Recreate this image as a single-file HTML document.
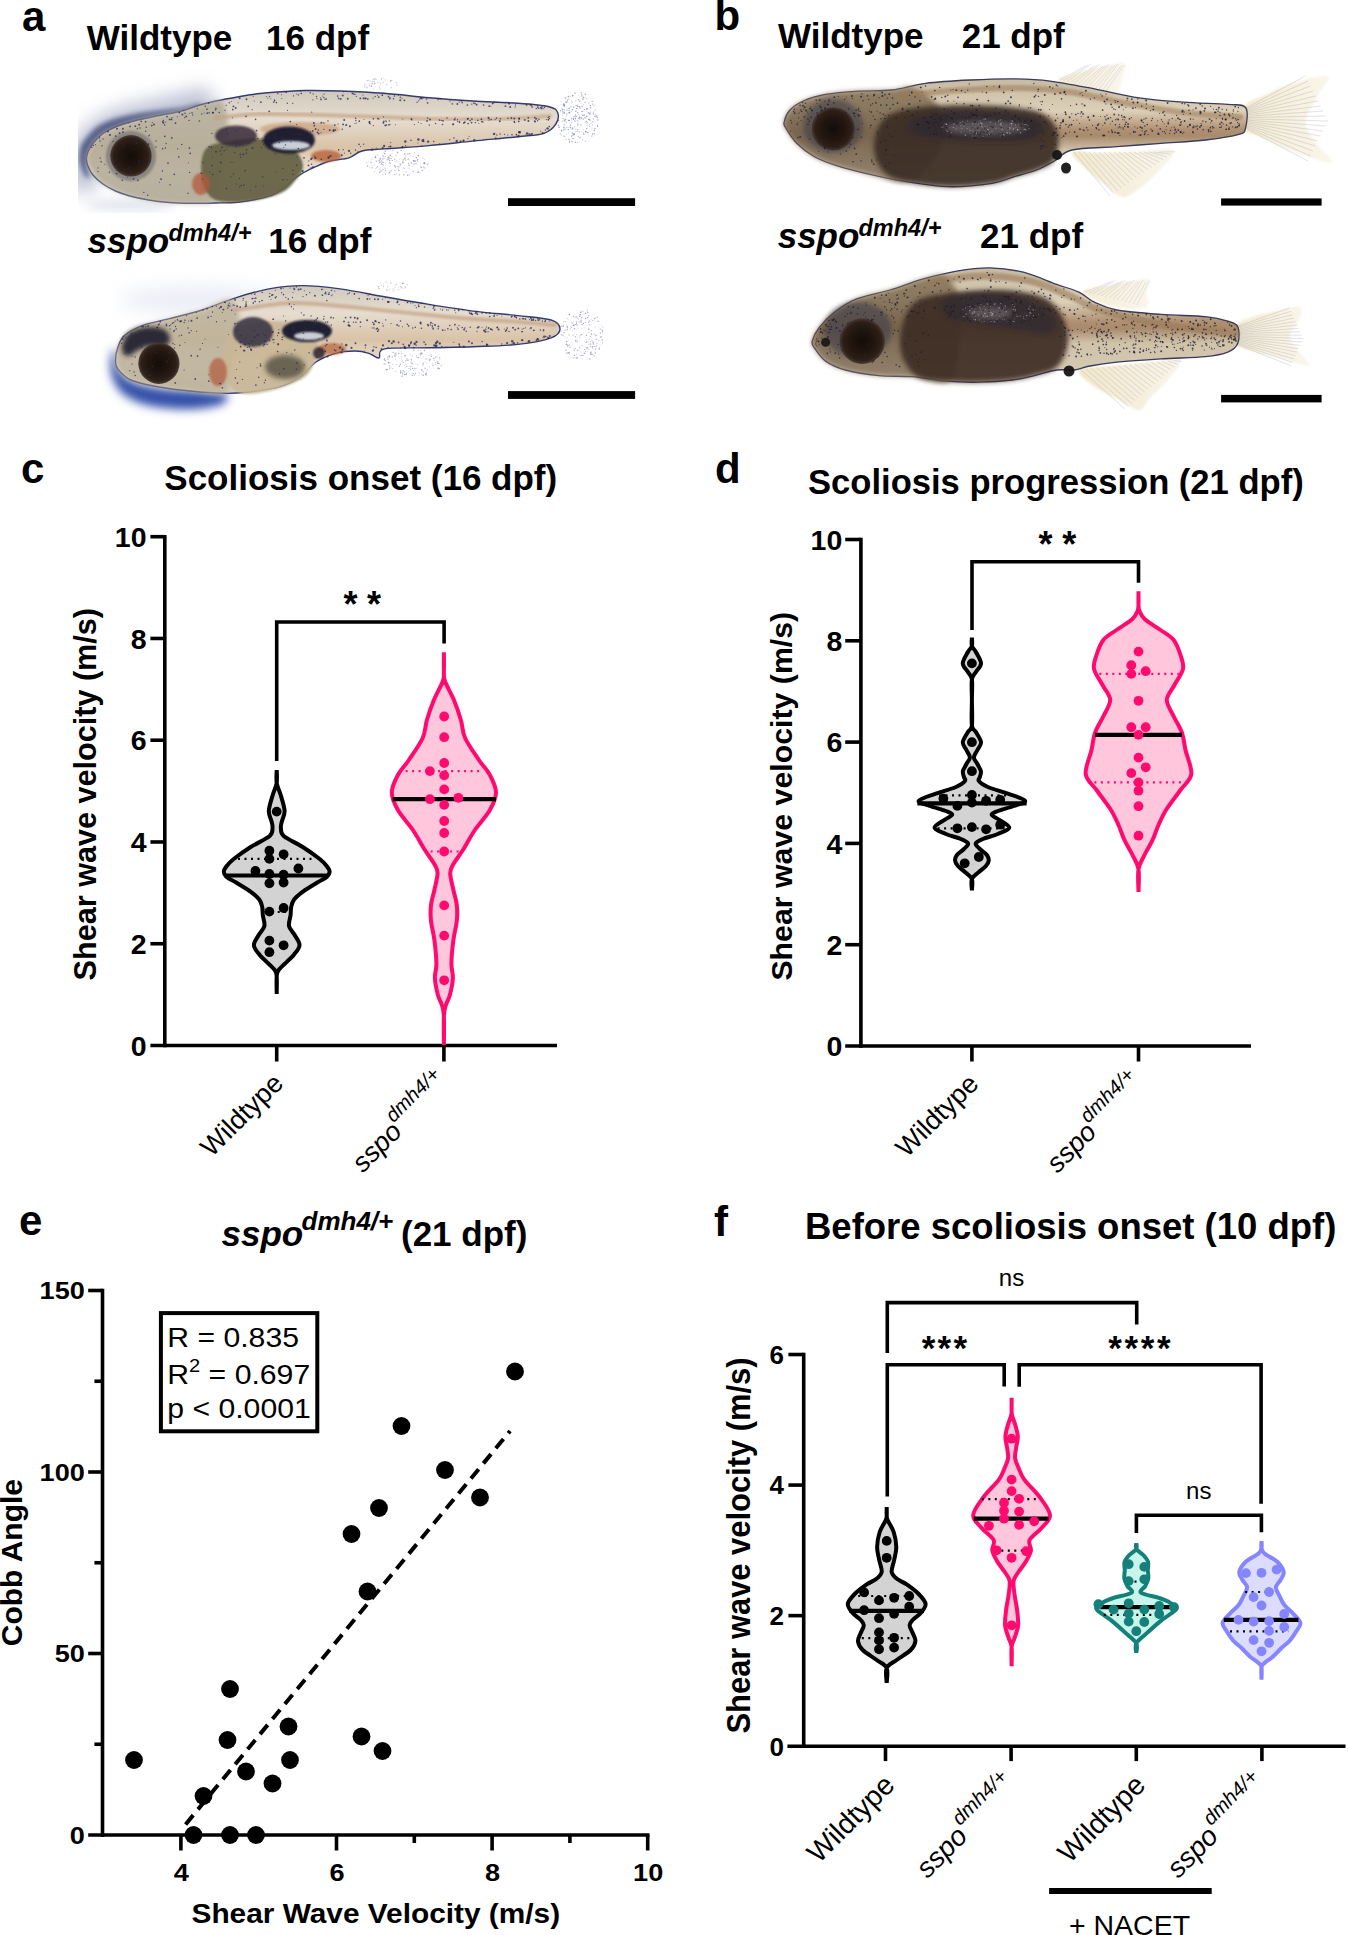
<!DOCTYPE html><html><head><meta charset="utf-8"><style>html,body{margin:0;padding:0;background:#fff;}svg{display:block;}</style></head><body><svg width="1350" height="1935" viewBox="0 0 1350 1935" font-family='"Liberation Sans", sans-serif'>
<rect width="1350" height="1935" fill="#fff"/>
<line x1="164.8" y1="534.9" x2="164.8" y2="1047.3" stroke="#000" stroke-width="3.6" />
<line x1="150.4" y1="1045.5" x2="557" y2="1045.5" stroke="#000" stroke-width="3.6" />
<line x1="150.4" y1="943.74" x2="164.8" y2="943.74" stroke="#000" stroke-width="3.6" />
<line x1="150.4" y1="841.98" x2="164.8" y2="841.98" stroke="#000" stroke-width="3.6" />
<line x1="150.4" y1="740.22" x2="164.8" y2="740.22" stroke="#000" stroke-width="3.6" />
<line x1="150.4" y1="638.46" x2="164.8" y2="638.46" stroke="#000" stroke-width="3.6" />
<line x1="150.4" y1="536.7" x2="164.8" y2="536.7" stroke="#000" stroke-width="3.6" />
<text x="146.5" y="1055.7" font-size="28.5" font-weight="bold" font-style="normal" text-anchor="end" fill="#000" >0</text>
<text x="146.5" y="953.94" font-size="28.5" font-weight="bold" font-style="normal" text-anchor="end" fill="#000" >2</text>
<text x="146.5" y="852.1800000000001" font-size="28.5" font-weight="bold" font-style="normal" text-anchor="end" fill="#000" >4</text>
<text x="146.5" y="750.4200000000001" font-size="28.5" font-weight="bold" font-style="normal" text-anchor="end" fill="#000" >6</text>
<text x="146.5" y="648.6600000000001" font-size="28.5" font-weight="bold" font-style="normal" text-anchor="end" fill="#000" >8</text>
<text x="146.5" y="546.9000000000001" font-size="28.5" font-weight="bold" font-style="normal" text-anchor="end" fill="#000" >10</text>
<line x1="276.7" y1="1045.5" x2="276.7" y2="1061.5" stroke="#000" stroke-width="3.6" />
<line x1="443.9" y1="1045.5" x2="443.9" y2="1061.5" stroke="#000" stroke-width="3.6" />
<path d="M276.70,770.00 C276.70,772.17 276.03,778.83 276.70,783.00 C277.37,787.17 279.38,790.33 280.70,795.00 C282.02,799.67 284.43,806.50 284.60,811.00 C284.77,815.50 282.32,819.17 281.70,822.00 C281.08,824.83 280.57,825.67 280.90,828.00 C281.23,830.33 280.07,832.83 283.70,836.00 C287.33,839.17 296.70,843.17 302.70,847.00 C308.70,850.83 315.70,855.83 319.70,859.00 C323.70,862.17 325.05,863.90 326.70,866.00 C328.35,868.10 329.60,869.77 329.60,871.60 C329.60,873.43 328.75,875.18 326.70,877.00 C324.65,878.82 321.32,880.03 317.30,882.50 C313.28,884.97 306.47,888.97 302.60,891.80 C298.73,894.63 296.00,896.97 294.10,899.50 C292.20,902.03 291.78,904.42 291.20,907.00 C290.62,909.58 290.97,911.83 290.60,915.00 C290.23,918.17 288.32,922.67 289.00,926.00 C289.68,929.33 292.95,931.78 294.70,935.00 C296.45,938.22 299.67,941.97 299.50,945.30 C299.33,948.63 295.77,952.28 293.70,955.00 C291.63,957.72 289.60,959.10 287.10,961.60 C284.60,964.10 280.43,967.60 278.70,970.00 C276.97,972.40 277.03,972.00 276.70,976.00 C276.37,980.00 276.70,991.00 276.70,994.00 C276.70,991.00 277.03,980.00 276.70,976.00 C276.37,972.00 276.43,972.40 274.70,970.00 C272.97,967.60 268.80,964.10 266.30,961.60 C263.80,959.10 261.77,957.72 259.70,955.00 C257.63,952.28 254.07,948.63 253.90,945.30 C253.73,941.97 256.95,938.22 258.70,935.00 C260.45,931.78 263.72,929.33 264.40,926.00 C265.08,922.67 263.17,918.17 262.80,915.00 C262.43,911.83 262.78,909.58 262.20,907.00 C261.62,904.42 261.20,902.03 259.30,899.50 C257.40,896.97 254.67,894.63 250.80,891.80 C246.93,888.97 240.12,884.97 236.10,882.50 C232.08,880.03 228.75,878.82 226.70,877.00 C224.65,875.18 223.80,873.43 223.80,871.60 C223.80,869.77 225.05,868.10 226.70,866.00 C228.35,863.90 229.70,862.17 233.70,859.00 C237.70,855.83 244.70,850.83 250.70,847.00 C256.70,843.17 266.07,839.17 269.70,836.00 C273.33,832.83 272.17,830.33 272.50,828.00 C272.83,825.67 272.32,824.83 271.70,822.00 C271.08,819.17 268.63,815.50 268.80,811.00 C268.97,806.50 271.38,799.67 272.70,795.00 C274.02,790.33 276.03,787.17 276.70,783.00 C277.37,778.83 276.70,772.17 276.70,770.00 Z" fill="#d3d3d3" stroke="#000" stroke-width="4.0" stroke-linejoin="bevel"/>
<line x1="224.4" y1="875.5" x2="328.3" y2="875.5" stroke="#000" stroke-width="4.2" />
<line x1="238" y1="858.9" x2="316" y2="858.9" stroke="#000" stroke-width="2.2" stroke-dasharray="2 4.5" stroke-linecap="butt"/>
<line x1="264.7" y1="912" x2="291.9" y2="912" stroke="#000" stroke-width="2.2" stroke-dasharray="2 4.5" stroke-linecap="butt"/>
<circle cx="276.7" cy="811.6" r="4.9" fill="#000"/>
<circle cx="269.4" cy="850.7" r="4.9" fill="#000"/>
<circle cx="283.6" cy="854.3" r="4.9" fill="#000"/>
<circle cx="269.4" cy="858.9" r="4.9" fill="#000"/>
<circle cx="255.4" cy="870.9" r="4.9" fill="#000"/>
<circle cx="298.4" cy="868.5" r="4.9" fill="#000"/>
<circle cx="269.4" cy="874" r="4.9" fill="#000"/>
<circle cx="283.6" cy="874.7" r="4.9" fill="#000"/>
<circle cx="269.4" cy="883.3" r="4.9" fill="#000"/>
<circle cx="283.6" cy="882.5" r="4.9" fill="#000"/>
<circle cx="269.4" cy="911.6" r="4.9" fill="#000"/>
<circle cx="283.6" cy="908" r="4.9" fill="#000"/>
<circle cx="269.4" cy="940.6" r="4.9" fill="#000"/>
<circle cx="283.6" cy="945.3" r="4.9" fill="#000"/>
<circle cx="269.4" cy="952.2" r="4.9" fill="#000"/>
<path d="M443.90,652.30 C443.90,655.25 443.73,665.22 443.90,670.00 C444.07,674.78 443.23,676.00 444.90,681.00 C446.57,686.00 451.23,693.50 453.90,700.00 C456.57,706.50 459.03,713.67 460.90,720.00 C462.77,726.33 462.10,731.33 465.10,738.00 C468.10,744.67 474.77,753.83 478.90,760.00 C483.03,766.17 487.05,769.58 489.90,775.00 C492.75,780.42 496.00,786.67 496.00,792.50 C496.00,798.33 493.42,803.75 489.90,810.00 C486.38,816.25 479.40,823.33 474.90,830.00 C470.40,836.67 466.57,844.17 462.90,850.00 C459.23,855.83 455.02,861.10 452.90,865.00 C450.78,868.90 450.12,869.23 450.20,873.40 C450.28,877.57 452.30,884.73 453.40,890.00 C454.50,895.27 456.23,899.85 456.80,905.00 C457.37,910.15 457.37,915.07 456.80,920.90 C456.23,926.73 454.30,932.87 453.40,940.00 C452.50,947.13 451.48,957.37 451.40,963.70 C451.32,970.03 453.15,972.78 452.90,978.00 C452.65,983.22 451.07,990.50 449.90,995.00 C448.73,999.50 446.90,1001.50 445.90,1005.00 C444.90,1008.50 444.23,1009.33 443.90,1016.00 C443.57,1022.67 443.90,1040.17 443.90,1045.00 C443.90,1040.17 444.23,1022.67 443.90,1016.00 C443.57,1009.33 442.90,1008.50 441.90,1005.00 C440.90,1001.50 439.07,999.50 437.90,995.00 C436.73,990.50 435.15,983.22 434.90,978.00 C434.65,972.78 436.48,970.03 436.40,963.70 C436.32,957.37 435.30,947.13 434.40,940.00 C433.50,932.87 431.57,926.73 431.00,920.90 C430.43,915.07 430.43,910.15 431.00,905.00 C431.57,899.85 433.30,895.27 434.40,890.00 C435.50,884.73 437.52,877.57 437.60,873.40 C437.68,869.23 437.02,868.90 434.90,865.00 C432.78,861.10 428.57,855.83 424.90,850.00 C421.23,844.17 417.40,836.67 412.90,830.00 C408.40,823.33 401.42,816.25 397.90,810.00 C394.38,803.75 391.80,798.33 391.80,792.50 C391.80,786.67 395.05,780.42 397.90,775.00 C400.75,769.58 404.77,766.17 408.90,760.00 C413.03,753.83 419.70,744.67 422.70,738.00 C425.70,731.33 425.03,726.33 426.90,720.00 C428.77,713.67 431.23,706.50 433.90,700.00 C436.57,693.50 441.23,686.00 442.90,681.00 C444.57,676.00 443.73,674.78 443.90,670.00 C444.07,665.22 443.90,655.25 443.90,652.30 Z" fill="#ffc6dc" stroke="#ff0a6e" stroke-width="4.0" stroke-linejoin="bevel"/>
<line x1="405.6" y1="771.1" x2="482.9" y2="771.1" stroke="#ff0a6e" stroke-width="2.2" stroke-dasharray="2 4.5" stroke-linecap="butt"/>
<line x1="430.6" y1="851.5" x2="460.3" y2="851.5" stroke="#ff0a6e" stroke-width="2.2" stroke-dasharray="2 4.5" stroke-linecap="butt"/>
<line x1="392.6" y1="799.2" x2="496" y2="799.2" stroke="#000" stroke-width="4.2" />
<circle cx="444.2" cy="716.5" r="4.9" fill="#ff0a6e"/>
<circle cx="444.2" cy="737.2" r="4.9" fill="#ff0a6e"/>
<circle cx="444.2" cy="763" r="4.9" fill="#ff0a6e"/>
<circle cx="429.9" cy="771.1" r="4.9" fill="#ff0a6e"/>
<circle cx="444.2" cy="775.4" r="4.9" fill="#ff0a6e"/>
<circle cx="444.2" cy="789.4" r="4.9" fill="#ff0a6e"/>
<circle cx="429.9" cy="799.2" r="4.9" fill="#ff0a6e"/>
<circle cx="458.4" cy="797.8" r="4.9" fill="#ff0a6e"/>
<circle cx="444.2" cy="804.9" r="4.9" fill="#ff0a6e"/>
<circle cx="444.2" cy="821" r="4.9" fill="#ff0a6e"/>
<circle cx="444.2" cy="833" r="4.9" fill="#ff0a6e"/>
<circle cx="444.2" cy="851.5" r="4.9" fill="#ff0a6e"/>
<circle cx="444.2" cy="905.4" r="4.9" fill="#ff0a6e"/>
<circle cx="444.2" cy="935.6" r="4.9" fill="#ff0a6e"/>
<circle cx="444.2" cy="980.3" r="4.9" fill="#ff0a6e"/>
<polyline points="276.7,761 276.7,622 444.1,622 444.1,643.4" fill="none" stroke="#000" stroke-width="3.6" stroke-linejoin="miter" stroke-linecap="butt"/>
<text x="350.4" y="617.2" font-size="36" font-weight="bold" font-style="normal" text-anchor="middle" fill="#000" >*</text>
<text x="374.1" y="617.2" font-size="36" font-weight="bold" font-style="normal" text-anchor="middle" fill="#000" >*</text>
<text x="164.3" y="489.8" font-size="35" font-weight="bold" font-style="normal" text-anchor="start" fill="#000" >Scoliosis onset (16 dpf)</text>
<text x="21" y="483.3" font-size="42" font-weight="bold" font-style="normal" text-anchor="start" fill="#000" >c</text>
<text transform="translate(96.3,794.2) rotate(-90)" font-size="30.6" font-weight="bold" font-style="normal" text-anchor="middle">Shear wave velocity (m/s)</text>
<line x1="860.9" y1="537.7" x2="860.9" y2="1047.8" stroke="#000" stroke-width="3.6" />
<line x1="845.2" y1="1046" x2="1251" y2="1046" stroke="#000" stroke-width="3.6" />
<line x1="845.2" y1="944.7" x2="860.9" y2="944.7" stroke="#000" stroke-width="3.6" />
<line x1="845.2" y1="843.4" x2="860.9" y2="843.4" stroke="#000" stroke-width="3.6" />
<line x1="845.2" y1="742.1" x2="860.9" y2="742.1" stroke="#000" stroke-width="3.6" />
<line x1="845.2" y1="640.8" x2="860.9" y2="640.8" stroke="#000" stroke-width="3.6" />
<line x1="845.2" y1="539.5" x2="860.9" y2="539.5" stroke="#000" stroke-width="3.6" />
<text x="842.3" y="1056.2" font-size="28.5" font-weight="bold" font-style="normal" text-anchor="end" fill="#000" >0</text>
<text x="842.3" y="954.9000000000001" font-size="28.5" font-weight="bold" font-style="normal" text-anchor="end" fill="#000" >2</text>
<text x="842.3" y="853.6" font-size="28.5" font-weight="bold" font-style="normal" text-anchor="end" fill="#000" >4</text>
<text x="842.3" y="752.3000000000001" font-size="28.5" font-weight="bold" font-style="normal" text-anchor="end" fill="#000" >6</text>
<text x="842.3" y="651.0" font-size="28.5" font-weight="bold" font-style="normal" text-anchor="end" fill="#000" >8</text>
<text x="842.3" y="549.7" font-size="28.5" font-weight="bold" font-style="normal" text-anchor="end" fill="#000" >10</text>
<line x1="971.9" y1="1046" x2="971.9" y2="1061.5" stroke="#000" stroke-width="3.6" />
<line x1="1138.5" y1="1046" x2="1138.5" y2="1061.5" stroke="#000" stroke-width="3.6" />
<path d="M971.90,637.40 C971.90,638.83 971.23,643.57 971.90,646.00 C972.57,648.43 974.38,649.10 975.90,652.00 C977.42,654.90 981.00,660.07 981.00,663.40 C981.00,666.73 977.42,669.35 975.90,672.00 C974.38,674.65 972.57,674.63 971.90,679.30 C971.23,683.97 971.90,692.28 971.90,700.00 C971.90,707.72 971.23,720.27 971.90,725.60 C972.57,730.93 974.38,729.23 975.90,732.00 C977.42,734.77 980.75,739.20 981.00,742.20 C981.25,745.20 978.58,747.47 977.40,750.00 C976.22,752.53 973.90,755.07 973.90,757.40 C973.90,759.73 976.23,761.70 977.40,764.00 C978.57,766.30 980.48,769.03 980.90,771.20 C981.32,773.37 980.23,775.37 979.90,777.00 C979.57,778.63 977.57,779.33 978.90,781.00 C980.23,782.67 983.07,784.90 987.90,787.00 C992.73,789.10 1001.70,791.30 1007.90,793.60 C1014.10,795.90 1024.10,798.73 1025.10,800.80 C1026.10,802.87 1018.43,804.30 1013.90,806.00 C1009.37,807.70 1001.62,809.57 997.90,811.00 C994.18,812.43 991.60,813.27 991.60,814.60 C991.60,815.93 994.95,816.83 997.90,819.00 C1000.85,821.17 1009.30,825.10 1009.30,827.60 C1009.30,830.10 1002.30,832.10 997.90,834.00 C993.50,835.90 986.60,837.42 982.90,839.00 C979.20,840.58 976.20,841.83 975.70,843.50 C975.20,845.17 978.03,847.08 979.90,849.00 C981.77,850.92 985.43,853.03 986.90,855.00 C988.37,856.97 988.87,858.97 988.70,860.80 C988.53,862.63 987.53,864.13 985.90,866.00 C984.27,867.87 981.23,869.83 978.90,872.00 C976.57,874.17 973.07,875.92 971.90,879.00 C970.73,882.08 971.90,888.58 971.90,890.50 C971.90,888.58 973.07,882.08 971.90,879.00 C970.73,875.92 967.23,874.17 964.90,872.00 C962.57,869.83 959.53,867.87 957.90,866.00 C956.27,864.13 955.27,862.63 955.10,860.80 C954.93,858.97 955.43,856.97 956.90,855.00 C958.37,853.03 962.03,850.92 963.90,849.00 C965.77,847.08 968.60,845.17 968.10,843.50 C967.60,841.83 964.60,840.58 960.90,839.00 C957.20,837.42 950.30,835.90 945.90,834.00 C941.50,832.10 934.50,830.10 934.50,827.60 C934.50,825.10 942.95,821.17 945.90,819.00 C948.85,816.83 952.20,815.93 952.20,814.60 C952.20,813.27 949.62,812.43 945.90,811.00 C942.18,809.57 934.43,807.70 929.90,806.00 C925.37,804.30 917.70,802.87 918.70,800.80 C919.70,798.73 929.70,795.90 935.90,793.60 C942.10,791.30 951.07,789.10 955.90,787.00 C960.73,784.90 963.57,782.67 964.90,781.00 C966.23,779.33 964.23,778.63 963.90,777.00 C963.57,775.37 962.48,773.37 962.90,771.20 C963.32,769.03 965.23,766.30 966.40,764.00 C967.57,761.70 969.90,759.73 969.90,757.40 C969.90,755.07 967.58,752.53 966.40,750.00 C965.22,747.47 962.55,745.20 962.80,742.20 C963.05,739.20 966.38,734.77 967.90,732.00 C969.42,729.23 971.23,730.93 971.90,725.60 C972.57,720.27 971.90,707.72 971.90,700.00 C971.90,692.28 972.57,683.97 971.90,679.30 C971.23,674.63 969.42,674.65 967.90,672.00 C966.38,669.35 962.80,666.73 962.80,663.40 C962.80,660.07 966.38,654.90 967.90,652.00 C969.42,649.10 971.23,648.43 971.90,646.00 C972.57,643.57 971.90,638.83 971.90,637.40 Z" fill="#d3d3d3" stroke="#000" stroke-width="4.0" stroke-linejoin="bevel"/>
<line x1="917.4" y1="803.4" x2="1026.6" y2="803.4" stroke="#000" stroke-width="4.2" />
<line x1="939" y1="795.3" x2="1007" y2="795.3" stroke="#000" stroke-width="2.2" stroke-dasharray="2 4.5" stroke-linecap="butt"/>
<line x1="937.6" y1="828.3" x2="1006.3" y2="828.3" stroke="#000" stroke-width="2.2" stroke-dasharray="2 4.5" stroke-linecap="butt"/>
<circle cx="971.9" cy="663.4" r="4.9" fill="#000"/>
<circle cx="971.9" cy="742.2" r="4.9" fill="#000"/>
<circle cx="971.9" cy="771.2" r="4.9" fill="#000"/>
<circle cx="943.4" cy="798.6" r="4.9" fill="#000"/>
<circle cx="971.9" cy="795" r="4.9" fill="#000"/>
<circle cx="971.9" cy="802.6" r="4.9" fill="#000"/>
<circle cx="986.1" cy="800.8" r="4.9" fill="#000"/>
<circle cx="1000.2" cy="799.8" r="4.9" fill="#000"/>
<circle cx="957.4" cy="805.9" r="4.9" fill="#000"/>
<circle cx="957.4" cy="828.3" r="4.9" fill="#000"/>
<circle cx="971.9" cy="827.1" r="4.9" fill="#000"/>
<circle cx="986.1" cy="829.3" r="4.9" fill="#000"/>
<circle cx="1000.2" cy="824.7" r="4.9" fill="#000"/>
<circle cx="978.8" cy="857" r="4.9" fill="#000"/>
<circle cx="964.7" cy="863.3" r="4.9" fill="#000"/>
<path d="M1138.50,591.30 C1138.50,593.58 1138.33,601.72 1138.50,605.00 C1138.67,608.28 1138.45,608.63 1139.50,611.00 C1140.55,613.37 1141.30,616.03 1144.80,619.20 C1148.30,622.37 1155.72,626.57 1160.50,630.00 C1165.28,633.43 1170.17,635.63 1173.50,639.80 C1176.83,643.97 1178.92,650.17 1180.50,655.00 C1182.08,659.83 1184.00,663.80 1183.00,668.80 C1182.00,673.80 1177.20,679.83 1174.50,685.00 C1171.80,690.17 1166.97,694.63 1166.80,699.80 C1166.63,704.97 1170.97,710.50 1173.50,716.00 C1176.03,721.50 1180.00,727.13 1182.00,732.80 C1184.00,738.47 1183.95,743.12 1185.50,750.00 C1187.05,756.88 1192.13,767.43 1191.30,774.10 C1190.47,780.77 1184.63,784.13 1180.50,790.00 C1176.37,795.87 1170.17,803.47 1166.50,809.30 C1162.83,815.13 1160.83,819.85 1158.50,825.00 C1156.17,830.15 1154.83,835.20 1152.50,840.20 C1150.17,845.20 1146.83,850.17 1144.50,855.00 C1142.17,859.83 1139.50,863.05 1138.50,869.20 C1137.50,875.35 1138.50,888.12 1138.50,891.90 C1138.50,888.12 1139.50,875.35 1138.50,869.20 C1137.50,863.05 1134.83,859.83 1132.50,855.00 C1130.17,850.17 1126.83,845.20 1124.50,840.20 C1122.17,835.20 1120.83,830.15 1118.50,825.00 C1116.17,819.85 1114.17,815.13 1110.50,809.30 C1106.83,803.47 1100.63,795.87 1096.50,790.00 C1092.37,784.13 1086.53,780.77 1085.70,774.10 C1084.87,767.43 1089.95,756.88 1091.50,750.00 C1093.05,743.12 1093.00,738.47 1095.00,732.80 C1097.00,727.13 1100.97,721.50 1103.50,716.00 C1106.03,710.50 1110.37,704.97 1110.20,699.80 C1110.03,694.63 1105.20,690.17 1102.50,685.00 C1099.80,679.83 1095.00,673.80 1094.00,668.80 C1093.00,663.80 1094.92,659.83 1096.50,655.00 C1098.08,650.17 1100.17,643.97 1103.50,639.80 C1106.83,635.63 1111.72,633.43 1116.50,630.00 C1121.28,626.57 1128.70,622.37 1132.20,619.20 C1135.70,616.03 1136.45,613.37 1137.50,611.00 C1138.55,608.63 1138.33,608.28 1138.50,605.00 C1138.67,601.72 1138.50,593.58 1138.50,591.30 Z" fill="#ffc6dc" stroke="#ff0a6e" stroke-width="4.0" stroke-linejoin="bevel"/>
<line x1="1099.3" y1="673.9" x2="1178.8" y2="673.9" stroke="#ff0a6e" stroke-width="2.2" stroke-dasharray="2 4.5" stroke-linecap="butt"/>
<line x1="1087.9" y1="782.4" x2="1187" y2="782.4" stroke="#ff0a6e" stroke-width="2.2" stroke-dasharray="2 4.5" stroke-linecap="butt"/>
<line x1="1095.1" y1="734.9" x2="1181.9" y2="734.9" stroke="#000" stroke-width="4.2" />
<circle cx="1138.5" cy="651.6" r="4.9" fill="#ff0a6e"/>
<circle cx="1131.3" cy="665.2" r="4.9" fill="#ff0a6e"/>
<circle cx="1145.7" cy="671.2" r="4.9" fill="#ff0a6e"/>
<circle cx="1131.3" cy="673.9" r="4.9" fill="#ff0a6e"/>
<circle cx="1138.5" cy="700.8" r="4.9" fill="#ff0a6e"/>
<circle cx="1131.3" cy="727.2" r="4.9" fill="#ff0a6e"/>
<circle cx="1145.7" cy="727.2" r="4.9" fill="#ff0a6e"/>
<circle cx="1138.5" cy="734.9" r="4.9" fill="#ff0a6e"/>
<circle cx="1138.5" cy="757.6" r="4.9" fill="#ff0a6e"/>
<circle cx="1145.7" cy="767.3" r="4.9" fill="#ff0a6e"/>
<circle cx="1131.3" cy="773.1" r="4.9" fill="#ff0a6e"/>
<circle cx="1138.5" cy="782.4" r="4.9" fill="#ff0a6e"/>
<circle cx="1138.5" cy="790.7" r="4.9" fill="#ff0a6e"/>
<circle cx="1138.5" cy="806.2" r="4.9" fill="#ff0a6e"/>
<circle cx="1138.5" cy="835.7" r="4.9" fill="#ff0a6e"/>
<polyline points="972.0,630 972.0,561.8 1138.5,561.8 1138.5,582.7" fill="none" stroke="#000" stroke-width="3.6" stroke-linejoin="miter" stroke-linecap="butt"/>
<text x="1045.4" y="557.3" font-size="36" font-weight="bold" font-style="normal" text-anchor="middle" fill="#000" >*</text>
<text x="1069.2" y="557.3" font-size="36" font-weight="bold" font-style="normal" text-anchor="middle" fill="#000" >*</text>
<text x="808" y="494" font-size="34.6" font-weight="bold" font-style="normal" text-anchor="start" fill="#000" >Scoliosis progression (21 dpf)</text>
<text x="715" y="483.3" font-size="42" font-weight="bold" font-style="normal" text-anchor="start" fill="#000" >d</text>
<text transform="translate(792.3,796.2) rotate(-90)" font-size="30.3" font-weight="bold" font-style="normal" text-anchor="middle">Shear wave velocity (m/s)</text>
<line x1="102.5" y1="1288.7" x2="102.5" y2="1837" stroke="#000" stroke-width="3.6" />
<line x1="88.2" y1="1835" x2="649.5" y2="1835" stroke="#000" stroke-width="3.6" />
<line x1="88.2" y1="1653.5" x2="102.5" y2="1653.5" stroke="#000" stroke-width="3.6" />
<line x1="88.2" y1="1472.0" x2="102.5" y2="1472.0" stroke="#000" stroke-width="3.6" />
<line x1="88.2" y1="1290.5" x2="102.5" y2="1290.5" stroke="#000" stroke-width="3.6" />
<line x1="94.4" y1="1744.25" x2="102.5" y2="1744.25" stroke="#000" stroke-width="3.6" />
<line x1="94.4" y1="1562.75" x2="102.5" y2="1562.75" stroke="#000" stroke-width="3.6" />
<line x1="94.4" y1="1381.25" x2="102.5" y2="1381.25" stroke="#000" stroke-width="3.6" />
<text transform="translate(84.8,1843.6) scale(1.13,1)" font-size="24" font-weight="bold" font-style="normal" text-anchor="end">0</text>
<text transform="translate(84.8,1662.1) scale(1.13,1)" font-size="24" font-weight="bold" font-style="normal" text-anchor="end">50</text>
<text transform="translate(84.8,1480.6) scale(1.13,1)" font-size="24" font-weight="bold" font-style="normal" text-anchor="end">100</text>
<text transform="translate(84.8,1299.1) scale(1.13,1)" font-size="24" font-weight="bold" font-style="normal" text-anchor="end">150</text>
<line x1="180.9" y1="1835" x2="180.9" y2="1850.5" stroke="#000" stroke-width="3.6" />
<text transform="translate(181.4,1880.6) scale(1.13,1)" font-size="24" font-weight="bold" font-style="normal" text-anchor="middle">4</text>
<line x1="336.5" y1="1835" x2="336.5" y2="1850.5" stroke="#000" stroke-width="3.6" />
<text transform="translate(337.0,1880.6) scale(1.13,1)" font-size="24" font-weight="bold" font-style="normal" text-anchor="middle">6</text>
<line x1="492.1" y1="1835" x2="492.1" y2="1850.5" stroke="#000" stroke-width="3.6" />
<text transform="translate(492.6,1880.6) scale(1.13,1)" font-size="24" font-weight="bold" font-style="normal" text-anchor="middle">8</text>
<line x1="647.6999999999999" y1="1835" x2="647.6999999999999" y2="1850.5" stroke="#000" stroke-width="3.6" />
<text transform="translate(648.1999999999999,1880.6) scale(1.13,1)" font-size="24" font-weight="bold" font-style="normal" text-anchor="middle">10</text>
<line x1="258.7" y1="1835" x2="258.7" y2="1843" stroke="#000" stroke-width="3.6" />
<line x1="414.29999999999995" y1="1835" x2="414.29999999999995" y2="1843" stroke="#000" stroke-width="3.6" />
<line x1="569.9" y1="1835" x2="569.9" y2="1843" stroke="#000" stroke-width="3.6" />
<rect x="160.9" y="1313.1" width="156.4" height="118.2" fill="none" stroke="#000" stroke-width="4"/>
<text transform="translate(167.2,1346.7) scale(1.06,1)" font-size="28.5" font-weight="normal" font-style="normal" text-anchor="start">R = 0.835</text>
<text transform="translate(167.2,1384.4) scale(1.06,1)" font-size="28.5" font-weight="normal" font-style="normal" text-anchor="start">R<tspan font-size="19" dy="-12.5">2</tspan><tspan dy="12.5"> = 0.697</tspan></text>
<text transform="translate(167.2,1418.2) scale(1.06,1)" font-size="28.5" font-weight="normal" font-style="normal" text-anchor="start">p &lt; 0.0001</text>
<line x1="185.6" y1="1824.4" x2="510.1" y2="1431" stroke="#000" stroke-width="4" stroke-dasharray="12 7.5"/>
<circle cx="134" cy="1760" r="8.9" fill="#000"/>
<circle cx="203.5" cy="1796" r="8.9" fill="#000"/>
<circle cx="193.5" cy="1835" r="8.9" fill="#000"/>
<circle cx="230" cy="1835" r="8.9" fill="#000"/>
<circle cx="256" cy="1835" r="8.9" fill="#000"/>
<circle cx="227.5" cy="1740" r="8.9" fill="#000"/>
<circle cx="230" cy="1689" r="8.9" fill="#000"/>
<circle cx="246" cy="1771.5" r="8.9" fill="#000"/>
<circle cx="272.5" cy="1783.5" r="8.9" fill="#000"/>
<circle cx="288.5" cy="1726.5" r="8.9" fill="#000"/>
<circle cx="290" cy="1760" r="8.9" fill="#000"/>
<circle cx="361.5" cy="1736.5" r="8.9" fill="#000"/>
<circle cx="382.5" cy="1751" r="8.9" fill="#000"/>
<circle cx="367.5" cy="1591.5" r="8.9" fill="#000"/>
<circle cx="351.5" cy="1534" r="8.9" fill="#000"/>
<circle cx="379" cy="1508" r="8.9" fill="#000"/>
<circle cx="401.5" cy="1426" r="8.9" fill="#000"/>
<circle cx="445" cy="1470" r="8.9" fill="#000"/>
<circle cx="480" cy="1497.5" r="8.9" fill="#000"/>
<circle cx="515" cy="1371.5" r="8.9" fill="#000"/>
<text transform="translate(191.5,1922.6) scale(1.085,1)" font-size="27.5" font-weight="bold" font-style="normal" text-anchor="start">Shear Wave Velocity (m/s)</text>
<text transform="translate(22.1,1562.6) rotate(-90)" font-size="30" font-weight="bold" font-style="normal" text-anchor="middle">Cobb Angle</text>
<text x="19" y="1234.5" font-size="42" font-weight="bold" font-style="normal" text-anchor="start" fill="#000" >e</text>
<text x="221.5" y="1245.6" font-size="35" font-weight="bold" font-style="italic" text-anchor="start" fill="#000" >sspo</text>
<text x="301.5" y="1229.5" font-size="26" font-weight="bold" font-style="italic" text-anchor="start" fill="#000" >dmh4/+</text>
<text x="401" y="1245.6" font-size="35" font-weight="bold" font-style="normal" text-anchor="start" fill="#000" >(21 dpf)</text>
<line x1="803.7" y1="1352.7" x2="803.7" y2="1748" stroke="#000" stroke-width="3.6" />
<line x1="787.4" y1="1746.2" x2="1345.5" y2="1746.2" stroke="#000" stroke-width="3.6" />
<line x1="788.4" y1="1615.64" x2="803.7" y2="1615.64" stroke="#000" stroke-width="3.6" />
<line x1="788.4" y1="1485.08" x2="803.7" y2="1485.08" stroke="#000" stroke-width="3.6" />
<line x1="788.4" y1="1354.52" x2="803.7" y2="1354.52" stroke="#000" stroke-width="3.6" />
<text x="784" y="1755.5" font-size="26" font-weight="bold" font-style="normal" text-anchor="end" fill="#000" >0</text>
<text x="784" y="1624.94" font-size="26" font-weight="bold" font-style="normal" text-anchor="end" fill="#000" >2</text>
<text x="784" y="1494.3799999999999" font-size="26" font-weight="bold" font-style="normal" text-anchor="end" fill="#000" >4</text>
<text x="784" y="1363.82" font-size="26" font-weight="bold" font-style="normal" text-anchor="end" fill="#000" >6</text>
<line x1="885.5" y1="1746.2" x2="885.5" y2="1761.1" stroke="#000" stroke-width="3.6" />
<line x1="1011.1" y1="1746.2" x2="1011.1" y2="1761.1" stroke="#000" stroke-width="3.6" />
<line x1="1136.3" y1="1746.2" x2="1136.3" y2="1761.1" stroke="#000" stroke-width="3.6" />
<line x1="1261.9" y1="1746.2" x2="1261.9" y2="1761.1" stroke="#000" stroke-width="3.6" />
<path d="M886.70,1507.10 C886.70,1508.58 886.53,1513.78 886.70,1516.00 C886.87,1518.22 886.53,1517.73 887.70,1520.40 C888.87,1523.07 892.27,1527.55 893.70,1532.00 C895.13,1536.45 896.22,1542.43 896.30,1547.10 C896.38,1551.77 894.97,1555.85 894.20,1560.00 C893.43,1564.15 891.20,1568.83 891.70,1572.00 C892.20,1575.17 894.70,1576.93 897.20,1579.00 C899.70,1581.07 903.12,1581.90 906.70,1584.40 C910.28,1586.90 915.55,1590.73 918.70,1594.00 C921.85,1597.27 925.27,1600.83 925.60,1604.00 C925.93,1607.17 922.85,1610.33 920.70,1613.00 C918.55,1615.67 914.55,1617.95 912.70,1620.00 C910.85,1622.05 909.60,1623.13 909.60,1625.30 C909.60,1627.47 911.73,1630.33 912.70,1633.00 C913.67,1635.67 915.73,1638.47 915.40,1641.30 C915.07,1644.13 913.82,1646.88 910.70,1650.00 C907.58,1653.12 900.70,1657.00 896.70,1660.00 C892.70,1663.00 888.37,1664.15 886.70,1668.00 C885.03,1671.85 886.70,1680.58 886.70,1683.10 C886.70,1680.58 888.37,1671.85 886.70,1668.00 C885.03,1664.15 880.70,1663.00 876.70,1660.00 C872.70,1657.00 865.82,1653.12 862.70,1650.00 C859.58,1646.88 858.33,1644.13 858.00,1641.30 C857.67,1638.47 859.73,1635.67 860.70,1633.00 C861.67,1630.33 863.80,1627.47 863.80,1625.30 C863.80,1623.13 862.55,1622.05 860.70,1620.00 C858.85,1617.95 854.85,1615.67 852.70,1613.00 C850.55,1610.33 847.47,1607.17 847.80,1604.00 C848.13,1600.83 851.55,1597.27 854.70,1594.00 C857.85,1590.73 863.12,1586.90 866.70,1584.40 C870.28,1581.90 873.70,1581.07 876.20,1579.00 C878.70,1576.93 881.20,1575.17 881.70,1572.00 C882.20,1568.83 879.97,1564.15 879.20,1560.00 C878.43,1555.85 877.02,1551.77 877.10,1547.10 C877.18,1542.43 878.27,1536.45 879.70,1532.00 C881.13,1527.55 884.53,1523.07 885.70,1520.40 C886.87,1517.73 886.53,1518.22 886.70,1516.00 C886.87,1513.78 886.70,1508.58 886.70,1507.10 Z" fill="#d3d3d3" stroke="#000" stroke-width="4.0" stroke-linejoin="bevel"/>
<line x1="849.3" y1="1610.8" x2="924" y2="1610.8" stroke="#000" stroke-width="4.2" />
<line x1="858.2" y1="1596" x2="916" y2="1596" stroke="#000" stroke-width="2.2" stroke-dasharray="2 4.5" stroke-linecap="butt"/>
<line x1="861.8" y1="1638.1" x2="912.4" y2="1638.1" stroke="#000" stroke-width="2.2" stroke-dasharray="2 4.5" stroke-linecap="butt"/>
<circle cx="886.7" cy="1540.9" r="4.9" fill="#000"/>
<circle cx="886.7" cy="1557.8" r="4.9" fill="#000"/>
<circle cx="864.1" cy="1592.4" r="4.9" fill="#000"/>
<circle cx="879" cy="1600.4" r="4.9" fill="#000"/>
<circle cx="894.1" cy="1597.8" r="4.9" fill="#000"/>
<circle cx="909.2" cy="1596" r="4.9" fill="#000"/>
<circle cx="909.2" cy="1606.7" r="4.9" fill="#000"/>
<circle cx="864.1" cy="1610.2" r="4.9" fill="#000"/>
<circle cx="894.1" cy="1613.8" r="4.9" fill="#000"/>
<circle cx="879" cy="1618.2" r="4.9" fill="#000"/>
<circle cx="879" cy="1632.4" r="4.9" fill="#000"/>
<circle cx="879" cy="1640.4" r="4.9" fill="#000"/>
<circle cx="894.1" cy="1637.8" r="4.9" fill="#000"/>
<circle cx="879" cy="1649.3" r="4.9" fill="#000"/>
<circle cx="894.1" cy="1647.6" r="4.9" fill="#000"/>
<path d="M1011.60,1397.80 C1011.60,1399.83 1011.52,1407.03 1011.60,1410.00 C1011.68,1412.97 1011.43,1412.93 1012.10,1415.60 C1012.77,1418.27 1014.65,1422.45 1015.60,1426.00 C1016.55,1429.55 1017.72,1433.23 1017.80,1436.90 C1017.88,1440.57 1016.55,1444.45 1016.10,1448.00 C1015.65,1451.55 1014.68,1454.87 1015.10,1458.20 C1015.52,1461.53 1017.07,1464.43 1018.60,1468.00 C1020.13,1471.57 1020.80,1474.77 1024.30,1479.60 C1027.80,1484.43 1035.32,1491.08 1039.60,1497.00 C1043.88,1502.92 1049.67,1509.93 1050.00,1515.10 C1050.33,1520.27 1045.00,1523.85 1041.60,1528.00 C1038.20,1532.15 1031.38,1536.22 1029.60,1540.00 C1027.82,1543.78 1031.57,1547.03 1030.90,1550.70 C1030.23,1554.37 1027.67,1558.45 1025.60,1562.00 C1023.53,1565.55 1020.50,1568.85 1018.50,1572.00 C1016.50,1575.15 1014.25,1577.07 1013.60,1580.90 C1012.95,1584.73 1014.02,1590.15 1014.60,1595.00 C1015.18,1599.85 1016.52,1604.95 1017.10,1610.00 C1017.68,1615.05 1018.52,1620.63 1018.10,1625.30 C1017.68,1629.97 1015.68,1634.43 1014.60,1638.00 C1013.52,1641.57 1012.10,1642.00 1011.60,1646.70 C1011.10,1651.40 1011.60,1662.95 1011.60,1666.20 C1011.60,1662.95 1012.10,1651.40 1011.60,1646.70 C1011.10,1642.00 1009.68,1641.57 1008.60,1638.00 C1007.52,1634.43 1005.52,1629.97 1005.10,1625.30 C1004.68,1620.63 1005.52,1615.05 1006.10,1610.00 C1006.68,1604.95 1008.02,1599.85 1008.60,1595.00 C1009.18,1590.15 1010.25,1584.73 1009.60,1580.90 C1008.95,1577.07 1006.70,1575.15 1004.70,1572.00 C1002.70,1568.85 999.67,1565.55 997.60,1562.00 C995.53,1558.45 992.97,1554.37 992.30,1550.70 C991.63,1547.03 995.38,1543.78 993.60,1540.00 C991.82,1536.22 985.00,1532.15 981.60,1528.00 C978.20,1523.85 972.87,1520.27 973.20,1515.10 C973.53,1509.93 979.32,1502.92 983.60,1497.00 C987.88,1491.08 995.40,1484.43 998.90,1479.60 C1002.40,1474.77 1003.07,1471.57 1004.60,1468.00 C1006.13,1464.43 1007.68,1461.53 1008.10,1458.20 C1008.52,1454.87 1007.55,1451.55 1007.10,1448.00 C1006.65,1444.45 1005.32,1440.57 1005.40,1436.90 C1005.48,1433.23 1006.65,1429.55 1007.60,1426.00 C1008.55,1422.45 1010.43,1418.27 1011.10,1415.60 C1011.77,1412.93 1011.52,1412.97 1011.60,1410.00 C1011.68,1407.03 1011.60,1399.83 1011.60,1397.80 Z" fill="#ffc6dc" stroke="#ff0a6e" stroke-width="4.0" stroke-linejoin="bevel"/>
<line x1="981.8" y1="1499.1" x2="1040.4" y2="1499.1" stroke="#000" stroke-width="2.2" stroke-dasharray="2 4.5" stroke-linecap="butt"/>
<line x1="1001.3" y1="1550.7" x2="1022.7" y2="1550.7" stroke="#000" stroke-width="2.2" stroke-dasharray="2 4.5" stroke-linecap="butt"/>
<line x1="973.8" y1="1518.7" x2="1048.4" y2="1518.7" stroke="#000" stroke-width="4.2" />
<circle cx="1011.6" cy="1438.7" r="4.9" fill="#ff0a6e"/>
<circle cx="1011.6" cy="1479.6" r="4.9" fill="#ff0a6e"/>
<circle cx="1011.6" cy="1491.1" r="4.9" fill="#ff0a6e"/>
<circle cx="1019.1" cy="1498.8" r="4.9" fill="#ff0a6e"/>
<circle cx="1004" cy="1502.7" r="4.9" fill="#ff0a6e"/>
<circle cx="1004" cy="1510.7" r="4.9" fill="#ff0a6e"/>
<circle cx="1019.1" cy="1511.6" r="4.9" fill="#ff0a6e"/>
<circle cx="1004" cy="1518.7" r="4.9" fill="#ff0a6e"/>
<circle cx="1034.2" cy="1521.3" r="4.9" fill="#ff0a6e"/>
<circle cx="988.9" cy="1525.8" r="4.9" fill="#ff0a6e"/>
<circle cx="1019.1" cy="1524.9" r="4.9" fill="#ff0a6e"/>
<circle cx="996.5" cy="1550.3" r="4.9" fill="#ff0a6e"/>
<circle cx="1026.2" cy="1551.2" r="4.9" fill="#ff0a6e"/>
<circle cx="1011.6" cy="1557.8" r="4.9" fill="#ff0a6e"/>
<circle cx="1011.6" cy="1625.3" r="4.9" fill="#ff0a6e"/>
<path d="M1136.30,1542.90 C1136.30,1543.92 1135.13,1546.98 1136.30,1549.00 C1137.47,1551.02 1141.33,1552.83 1143.30,1555.00 C1145.27,1557.17 1147.35,1559.50 1148.10,1562.00 C1148.85,1564.50 1147.77,1567.27 1147.80,1570.00 C1147.83,1572.73 1148.72,1575.73 1148.30,1578.40 C1147.88,1581.07 1146.50,1583.62 1145.30,1586.00 C1144.10,1588.38 1138.77,1590.70 1141.10,1592.70 C1143.43,1594.70 1154.80,1596.52 1159.30,1598.00 C1163.80,1599.48 1165.23,1599.97 1168.10,1601.60 C1170.97,1603.23 1176.13,1605.73 1176.50,1607.80 C1176.87,1609.87 1172.97,1611.78 1170.30,1614.00 C1167.63,1616.22 1164.50,1617.83 1160.50,1621.10 C1156.50,1624.37 1150.33,1629.90 1146.30,1633.60 C1142.27,1637.30 1137.97,1640.05 1136.30,1643.30 C1134.63,1646.55 1136.30,1651.47 1136.30,1653.10 C1136.30,1651.47 1137.97,1646.55 1136.30,1643.30 C1134.63,1640.05 1130.33,1637.30 1126.30,1633.60 C1122.27,1629.90 1116.10,1624.37 1112.10,1621.10 C1108.10,1617.83 1104.97,1616.22 1102.30,1614.00 C1099.63,1611.78 1095.73,1609.87 1096.10,1607.80 C1096.47,1605.73 1101.63,1603.23 1104.50,1601.60 C1107.37,1599.97 1108.80,1599.48 1113.30,1598.00 C1117.80,1596.52 1129.17,1594.70 1131.50,1592.70 C1133.83,1590.70 1128.50,1588.38 1127.30,1586.00 C1126.10,1583.62 1124.72,1581.07 1124.30,1578.40 C1123.88,1575.73 1124.77,1572.73 1124.80,1570.00 C1124.83,1567.27 1123.75,1564.50 1124.50,1562.00 C1125.25,1559.50 1127.33,1557.17 1129.30,1555.00 C1131.27,1552.83 1135.13,1551.02 1136.30,1549.00 C1137.47,1546.98 1136.30,1543.92 1136.30,1542.90 Z" fill="#c8f5ea" stroke="#157f7b" stroke-width="4.0" stroke-linejoin="bevel"/>
<line x1="1100.2" y1="1607.2" x2="1170.4" y2="1607.2" stroke="#000" stroke-width="4.2" />
<line x1="1103.8" y1="1614.9" x2="1151.8" y2="1614.9" stroke="#000" stroke-width="2.2" stroke-dasharray="2 4.5" stroke-linecap="butt"/>
<line x1="1134.5" y1="1581.6" x2="1138.5" y2="1581.6" stroke="#000" stroke-width="2.2" stroke-dasharray="2 4.5" stroke-linecap="butt"/>
<circle cx="1128.7" cy="1564.2" r="4.9" fill="#157f7b"/>
<circle cx="1144.3" cy="1566.9" r="4.9" fill="#157f7b"/>
<circle cx="1128.7" cy="1581.1" r="4.9" fill="#157f7b"/>
<circle cx="1144.3" cy="1579.3" r="4.9" fill="#157f7b"/>
<circle cx="1098.4" cy="1604.2" r="4.9" fill="#157f7b"/>
<circle cx="1128.7" cy="1603.3" r="4.9" fill="#157f7b"/>
<circle cx="1113.6" cy="1609.6" r="4.9" fill="#157f7b"/>
<circle cx="1144.3" cy="1609.6" r="4.9" fill="#157f7b"/>
<circle cx="1159.2" cy="1606" r="4.9" fill="#157f7b"/>
<circle cx="1174" cy="1607.2" r="4.9" fill="#157f7b"/>
<circle cx="1128.7" cy="1613.6" r="4.9" fill="#157f7b"/>
<circle cx="1159.2" cy="1614" r="4.9" fill="#157f7b"/>
<circle cx="1128.7" cy="1621.6" r="4.9" fill="#157f7b"/>
<circle cx="1144.3" cy="1622" r="4.9" fill="#157f7b"/>
<circle cx="1136.3" cy="1631.2" r="4.9" fill="#157f7b"/>
<path d="M1261.50,1541.10 C1261.50,1542.25 1261.00,1545.92 1261.50,1548.00 C1262.00,1550.08 1261.83,1551.27 1264.50,1553.60 C1267.17,1555.93 1274.30,1558.90 1277.50,1562.00 C1280.70,1565.10 1283.20,1569.20 1283.70,1572.20 C1284.20,1575.20 1281.80,1577.48 1280.50,1580.00 C1279.20,1582.52 1276.07,1584.63 1275.90,1587.30 C1275.73,1589.97 1278.08,1593.03 1279.50,1596.00 C1280.92,1598.97 1282.07,1602.10 1284.40,1605.10 C1286.73,1608.10 1290.83,1611.03 1293.50,1614.00 C1296.17,1616.97 1299.90,1620.07 1300.40,1622.90 C1300.90,1625.73 1298.28,1628.03 1296.50,1631.00 C1294.72,1633.97 1292.20,1637.87 1289.70,1640.70 C1287.20,1643.53 1284.32,1645.33 1281.50,1648.00 C1278.68,1650.67 1275.63,1654.20 1272.80,1656.70 C1269.97,1659.20 1266.38,1661.23 1264.50,1663.00 C1262.62,1664.77 1262.00,1664.50 1261.50,1667.30 C1261.00,1670.10 1261.50,1677.72 1261.50,1679.80 C1261.50,1677.72 1262.00,1670.10 1261.50,1667.30 C1261.00,1664.50 1260.38,1664.77 1258.50,1663.00 C1256.62,1661.23 1253.03,1659.20 1250.20,1656.70 C1247.37,1654.20 1244.32,1650.67 1241.50,1648.00 C1238.68,1645.33 1235.80,1643.53 1233.30,1640.70 C1230.80,1637.87 1228.28,1633.97 1226.50,1631.00 C1224.72,1628.03 1222.10,1625.73 1222.60,1622.90 C1223.10,1620.07 1226.83,1616.97 1229.50,1614.00 C1232.17,1611.03 1236.27,1608.10 1238.60,1605.10 C1240.93,1602.10 1242.08,1598.97 1243.50,1596.00 C1244.92,1593.03 1247.27,1589.97 1247.10,1587.30 C1246.93,1584.63 1243.80,1582.52 1242.50,1580.00 C1241.20,1577.48 1238.80,1575.20 1239.30,1572.20 C1239.80,1569.20 1242.30,1565.10 1245.50,1562.00 C1248.70,1558.90 1255.83,1555.93 1258.50,1553.60 C1261.17,1551.27 1261.00,1550.08 1261.50,1548.00 C1262.00,1545.92 1261.50,1542.25 1261.50,1541.10 Z" fill="#dcdcff" stroke="#8585ff" stroke-width="4.0" stroke-linejoin="bevel"/>
<line x1="1223.8" y1="1619.9" x2="1298.4" y2="1619.9" stroke="#000" stroke-width="4.2" />
<line x1="1245.1" y1="1592" x2="1274.4" y2="1592" stroke="#000" stroke-width="2.2" stroke-dasharray="2 4.5" stroke-linecap="butt"/>
<line x1="1230" y1="1631.4" x2="1288.7" y2="1631.4" stroke="#000" stroke-width="2.2" stroke-dasharray="2 4.5" stroke-linecap="butt"/>
<circle cx="1246" cy="1573.1" r="4.9" fill="#8585ff"/>
<circle cx="1261.5" cy="1572.8" r="4.9" fill="#8585ff"/>
<circle cx="1276.6" cy="1569.6" r="4.9" fill="#8585ff"/>
<circle cx="1269.1" cy="1592" r="4.9" fill="#8585ff"/>
<circle cx="1253.6" cy="1597.1" r="4.9" fill="#8585ff"/>
<circle cx="1261.5" cy="1605.5" r="4.9" fill="#8585ff"/>
<circle cx="1284.2" cy="1614" r="4.9" fill="#8585ff"/>
<circle cx="1238.5" cy="1619.9" r="4.9" fill="#8585ff"/>
<circle cx="1253.6" cy="1621.6" r="4.9" fill="#8585ff"/>
<circle cx="1269.1" cy="1621.1" r="4.9" fill="#8585ff"/>
<circle cx="1284.2" cy="1627" r="4.9" fill="#8585ff"/>
<circle cx="1269.1" cy="1630.9" r="4.9" fill="#8585ff"/>
<circle cx="1253.6" cy="1640.1" r="4.9" fill="#8585ff"/>
<circle cx="1269.1" cy="1642.8" r="4.9" fill="#8585ff"/>
<circle cx="1261.5" cy="1651.3" r="4.9" fill="#8585ff"/>
<polyline points="887.3,1352.9 887.3,1302.6 1136.7,1302.6 1136.7,1324.4" fill="none" stroke="#000" stroke-width="3.6" stroke-linejoin="miter" stroke-linecap="butt"/>
<polyline points="887.3,1496.4 887.3,1364.7 1004.2,1364.7 1004.2,1386.6" fill="none" stroke="#000" stroke-width="3.6" stroke-linejoin="miter" stroke-linecap="butt"/>
<polyline points="1019.2,1386.7 1019.2,1364.7 1261.1,1364.7 1261.1,1503.8" fill="none" stroke="#000" stroke-width="3.6" stroke-linejoin="miter" stroke-linecap="butt"/>
<polyline points="1136.4,1533.1 1136.4,1515.3 1261.4,1515.3 1261.4,1532.2" fill="none" stroke="#000" stroke-width="3.6" stroke-linejoin="miter" stroke-linecap="butt"/>
<text x="1011.5" y="1286.4" font-size="24" font-weight="normal" font-style="normal" text-anchor="middle" fill="#000" >ns</text>
<text x="1198.8" y="1499.3" font-size="24" font-weight="normal" font-style="normal" text-anchor="middle" fill="#000" >ns</text>
<text x="928.6" y="1359.6" font-size="35" font-weight="bold" font-style="normal" text-anchor="middle" fill="#000" >*</text>
<text x="944.4" y="1359.6" font-size="35" font-weight="bold" font-style="normal" text-anchor="middle" fill="#000" >*</text>
<text x="960.2" y="1359.6" font-size="35" font-weight="bold" font-style="normal" text-anchor="middle" fill="#000" >*</text>
<text x="1115.1" y="1359.9" font-size="35" font-weight="bold" font-style="normal" text-anchor="middle" fill="#000" >*</text>
<text x="1131.3" y="1359.9" font-size="35" font-weight="bold" font-style="normal" text-anchor="middle" fill="#000" >*</text>
<text x="1147.5" y="1359.9" font-size="35" font-weight="bold" font-style="normal" text-anchor="middle" fill="#000" >*</text>
<text x="1163.6999999999998" y="1359.9" font-size="35" font-weight="bold" font-style="normal" text-anchor="middle" fill="#000" >*</text>
<line x1="1049.1" y1="1891" x2="1211.7" y2="1891" stroke="#000" stroke-width="6" />
<text x="1129.5" y="1935" font-size="28.5" font-weight="normal" font-style="normal" text-anchor="middle" fill="#000" >+ NACET</text>
<text x="805" y="1239.1" font-size="36.5" font-weight="bold" font-style="normal" text-anchor="start" fill="#000" >Before scoliosis onset (10 dpf)</text>
<text x="714" y="1235.5" font-size="42" font-weight="bold" font-style="normal" text-anchor="start" fill="#000" >f</text>
<text transform="translate(749.8,1545.5) scale(1.06,1) rotate(-90)" font-size="30.9" font-weight="bold" text-anchor="middle">Shear wave velocity (m/s)</text>
<text transform="translate(284.8,1084.8) rotate(-45)" font-size="27" font-weight="normal" text-anchor="end">Wildtype</text>
<text transform="translate(980.0,1085.3) rotate(-45)" font-size="27" font-weight="normal" text-anchor="end">Wildtype</text>
<text transform="translate(450.9,1085.5) rotate(-45)" font-size="27" font-weight="normal" font-style="italic" text-anchor="end">sspo<tspan font-size="20" dy="-14" dx="0">dmh4/+</tspan></text>
<text transform="translate(1145.5,1086) rotate(-45)" font-size="27" font-weight="normal" font-style="italic" text-anchor="end">sspo<tspan font-size="20" dy="-14" dx="0">dmh4/+</tspan></text>
<text transform="translate(896.3000000000001,1786.8) rotate(-45)" font-size="28.6" font-weight="normal" text-anchor="end">Wildtype</text>
<text transform="translate(1147.1,1786.8) rotate(-45)" font-size="28.6" font-weight="normal" text-anchor="end">Wildtype</text>
<text transform="translate(1018.6,1788.2) rotate(-45)" font-size="27.8" font-weight="normal" font-style="italic" text-anchor="end">sspo<tspan font-size="20.3" dy="-14.5" dx="2">dmh4/+</tspan></text>
<text transform="translate(1269.4,1788.2) rotate(-45)" font-size="27.8" font-weight="normal" font-style="italic" text-anchor="end">sspo<tspan font-size="20.3" dy="-14.5" dx="2">dmh4/+</tspan></text>
<defs>
<filter id="b1" x="-20%" y="-20%" width="140%" height="140%"><feGaussianBlur stdDeviation="1"/></filter>
<filter id="b2" x="-30%" y="-30%" width="160%" height="160%"><feGaussianBlur stdDeviation="2.5"/></filter>
<filter id="b4" x="-50%" y="-50%" width="200%" height="200%"><feGaussianBlur stdDeviation="5"/></filter>
<filter id="b8" x="-50%" y="-50%" width="200%" height="200%"><feGaussianBlur stdDeviation="9"/></filter>
<linearGradient id="bodyA" x1="0" y1="0" x2="0" y2="1">
 <stop offset="0" stop-color="#cfc8bb"/><stop offset="0.25" stop-color="#e6ddd0"/><stop offset="0.5" stop-color="#d9c3a8"/>
 <stop offset="0.7" stop-color="#e8dccd"/><stop offset="1" stop-color="#d2c8bc"/></linearGradient>
<linearGradient id="bodyB" x1="0" y1="0" x2="0" y2="1">
 <stop offset="0" stop-color="#b9ad98"/><stop offset="0.3" stop-color="#cdbfa8"/><stop offset="0.55" stop-color="#b59a7c"/>
 <stop offset="0.8" stop-color="#cfc1ab"/><stop offset="1" stop-color="#b8ab98"/></linearGradient>
<radialGradient id="eyeA" cx="0.5" cy="0.5" r="0.5">
 <stop offset="0" stop-color="#140c0a"/><stop offset="0.55" stop-color="#22160f"/><stop offset="0.85" stop-color="#2e2018"/><stop offset="1" stop-color="#4a3c34"/></radialGradient>
<linearGradient id="finY" x1="0" y1="0" x2="1" y2="0">
 <stop offset="0" stop-color="#efe3c0"/><stop offset="1" stop-color="#f8f3e6"/></linearGradient>
</defs>
<clipPath id="clipA1"><rect x="78" y="40" width="400" height="173"/></clipPath>
<g clip-path="url(#clipA1)">
<path d="M84.0,178.0 C84.0,175.0 83.3,165.2 84.0,160.0 C84.7,154.8 86.0,150.8 88.0,147.0 C90.0,143.2 93.3,139.7 96.0,137.0 C98.7,134.3 100.3,133.2 104.0,131.0 C107.7,128.8 112.3,126.2 118.0,124.0 C123.7,121.8 131.0,119.8 138.0,118.0 C145.0,116.2 152.7,114.7 160.0,113.0 C167.3,111.3 175.3,109.7 182.0,108.0 C188.7,106.3 197.0,103.8 200.0,103.0 " fill="none" stroke="#8a94b4" stroke-width="30" stroke-opacity="0.55" stroke-linecap="round" filter="url(#b8)" />
<path d="M86.0,176.4 C84.6,174.6 82.1,169.7 81.0,166.4 C79.9,163.1 79.0,160.2 79.2,156.4 C79.4,152.6 80.2,147.5 82.1,143.6 C84.0,139.7 87.5,136.0 90.4,132.9 C93.3,129.8 95.2,127.7 99.3,125.3 C103.4,122.9 108.9,120.4 115.1,118.5 C121.3,116.6 129.1,115.0 136.4,113.7 C143.7,112.4 151.5,111.5 159.0,110.6 C166.5,109.7 174.4,109.2 181.2,108.1 C188.0,107.0 196.3,104.4 199.7,104.1 C203.1,103.8 204.2,105.1 201.5,106.5 C198.8,107.9 190.2,110.8 183.5,112.5 C176.8,114.2 168.8,115.5 161.5,117.0 C154.2,118.5 146.5,119.8 139.5,121.5 C132.5,123.2 125.2,125.3 119.5,127.5 C113.8,129.7 109.0,132.3 105.5,134.5 C102.0,136.7 100.8,138.0 98.5,140.5 C96.2,143.0 93.2,146.3 91.5,149.5 C89.8,152.7 88.7,156.5 88.0,159.5 C87.3,162.5 87.2,164.5 87.5,167.5 C87.8,170.5 89.8,176.0 89.5,177.5 C89.2,179.0 87.4,178.2 86.0,176.4 Z" fill="#3e4878" fill-opacity="0.8" stroke="none" stroke-width="0" filter="url(#b2)" />
<ellipse cx="130" cy="205" rx="45" ry="6" fill="#c8cede" fill-opacity="0.5" filter="url(#b4)"/>
</g>
<g fill="#5a5a9a" fill-opacity="0.55"><circle cx="574.9" cy="121.1" r="0.76"/><circle cx="575.5" cy="118.4" r="0.59"/><circle cx="563.1" cy="118.6" r="0.61"/><circle cx="568.3" cy="96.7" r="0.70"/><circle cx="585.5" cy="94.2" r="0.79"/><circle cx="597.4" cy="126.0" r="0.61"/><circle cx="578.2" cy="95.1" r="0.40"/><circle cx="575.4" cy="114.9" r="0.72"/><circle cx="577.8" cy="125.3" r="0.55"/><circle cx="584.1" cy="115.8" r="0.44"/><circle cx="592.0" cy="128.8" r="0.46"/><circle cx="565.1" cy="107.0" r="0.34"/><circle cx="588.7" cy="112.8" r="0.72"/><circle cx="572.0" cy="141.8" r="0.72"/><circle cx="595.1" cy="116.4" r="0.79"/><circle cx="572.5" cy="95.8" r="0.61"/><circle cx="589.3" cy="106.0" r="0.34"/><circle cx="569.6" cy="142.1" r="0.68"/><circle cx="560.2" cy="104.8" r="0.35"/><circle cx="562.8" cy="121.1" r="0.52"/><circle cx="563.4" cy="130.1" r="0.37"/><circle cx="583.3" cy="98.1" r="0.51"/><circle cx="564.4" cy="106.0" r="0.79"/><circle cx="590.4" cy="107.8" r="0.74"/><circle cx="564.3" cy="112.5" r="0.73"/><circle cx="583.2" cy="97.2" r="0.79"/><circle cx="564.4" cy="105.4" r="0.69"/><circle cx="569.5" cy="107.4" r="0.34"/><circle cx="559.0" cy="122.3" r="0.42"/><circle cx="581.5" cy="111.3" r="0.53"/><circle cx="597.2" cy="117.2" r="0.59"/><circle cx="593.1" cy="101.5" r="0.38"/><circle cx="566.0" cy="101.9" r="0.67"/><circle cx="581.6" cy="113.9" r="0.35"/><circle cx="565.5" cy="128.6" r="0.43"/><circle cx="591.2" cy="123.0" r="0.45"/><circle cx="562.7" cy="129.5" r="0.33"/><circle cx="565.0" cy="121.1" r="0.73"/><circle cx="582.0" cy="106.6" r="0.76"/><circle cx="566.8" cy="115.2" r="0.33"/><circle cx="562.8" cy="111.2" r="0.59"/><circle cx="560.8" cy="110.8" r="0.75"/><circle cx="585.4" cy="122.4" r="0.37"/><circle cx="595.0" cy="128.5" r="0.78"/><circle cx="555.9" cy="125.1" r="0.54"/><circle cx="587.1" cy="108.6" r="0.80"/><circle cx="558.3" cy="120.4" r="0.67"/><circle cx="594.6" cy="130.3" r="0.65"/><circle cx="570.5" cy="127.6" r="0.75"/><circle cx="593.3" cy="113.7" r="0.70"/><circle cx="593.0" cy="121.8" r="0.61"/><circle cx="571.8" cy="122.3" r="0.60"/><circle cx="558.5" cy="125.2" r="0.80"/><circle cx="593.7" cy="129.9" r="0.49"/><circle cx="587.3" cy="122.2" r="0.52"/><circle cx="581.5" cy="117.0" r="0.42"/><circle cx="585.7" cy="117.9" r="0.61"/><circle cx="595.5" cy="105.3" r="0.31"/><circle cx="568.2" cy="127.3" r="0.40"/><circle cx="584.0" cy="115.0" r="0.75"/><circle cx="569.4" cy="126.6" r="0.40"/><circle cx="574.0" cy="133.9" r="0.76"/><circle cx="593.7" cy="112.0" r="0.59"/><circle cx="568.9" cy="99.1" r="0.55"/><circle cx="591.8" cy="136.1" r="0.66"/><circle cx="562.4" cy="115.4" r="0.44"/><circle cx="564.4" cy="113.5" r="0.61"/><circle cx="576.7" cy="108.4" r="0.72"/><circle cx="598.2" cy="115.5" r="0.34"/><circle cx="580.1" cy="108.1" r="0.70"/><circle cx="575.0" cy="93.3" r="0.71"/><circle cx="565.4" cy="99.3" r="0.32"/><circle cx="582.7" cy="115.2" r="0.61"/><circle cx="583.8" cy="134.0" r="0.78"/><circle cx="585.1" cy="102.4" r="0.54"/><circle cx="575.8" cy="129.1" r="0.39"/><circle cx="567.0" cy="110.0" r="0.65"/><circle cx="577.9" cy="124.0" r="0.68"/><circle cx="572.3" cy="133.2" r="0.75"/><circle cx="586.8" cy="98.8" r="0.53"/><circle cx="582.5" cy="139.3" r="0.49"/><circle cx="580.0" cy="137.7" r="0.70"/><circle cx="596.5" cy="116.1" r="0.63"/><circle cx="564.0" cy="129.5" r="0.71"/><circle cx="583.2" cy="129.3" r="0.41"/><circle cx="598.0" cy="119.9" r="0.70"/><circle cx="569.1" cy="139.3" r="0.73"/><circle cx="570.3" cy="96.3" r="0.52"/><circle cx="579.2" cy="131.9" r="0.54"/><circle cx="562.6" cy="109.4" r="0.69"/><circle cx="577.7" cy="129.6" r="0.72"/><circle cx="585.3" cy="141.2" r="0.55"/><circle cx="564.7" cy="119.4" r="0.45"/><circle cx="587.1" cy="125.2" r="0.56"/><circle cx="592.1" cy="121.1" r="0.46"/><circle cx="571.8" cy="136.0" r="0.75"/><circle cx="564.2" cy="136.2" r="0.78"/><circle cx="578.1" cy="121.8" r="0.40"/><circle cx="578.6" cy="118.2" r="0.60"/><circle cx="577.7" cy="112.8" r="0.70"/><circle cx="579.8" cy="117.5" r="0.65"/><circle cx="557.9" cy="120.0" r="0.51"/><circle cx="566.8" cy="116.6" r="0.36"/><circle cx="574.1" cy="134.4" r="0.75"/><circle cx="576.0" cy="108.5" r="0.40"/><circle cx="582.2" cy="140.1" r="0.36"/><circle cx="563.5" cy="103.8" r="0.64"/><circle cx="569.2" cy="110.5" r="0.61"/><circle cx="559.6" cy="130.0" r="0.36"/><circle cx="577.5" cy="105.0" r="0.40"/><circle cx="578.3" cy="114.7" r="0.49"/><circle cx="573.2" cy="119.5" r="0.38"/><circle cx="564.0" cy="124.8" r="0.62"/><circle cx="578.3" cy="136.3" r="0.61"/><circle cx="592.7" cy="104.1" r="0.67"/><circle cx="568.9" cy="108.4" r="0.76"/><circle cx="565.5" cy="129.8" r="0.43"/><circle cx="573.6" cy="133.1" r="0.36"/><circle cx="572.7" cy="127.6" r="0.31"/><circle cx="563.8" cy="127.5" r="0.76"/><circle cx="577.2" cy="131.4" r="0.55"/><circle cx="585.2" cy="101.8" r="0.34"/><circle cx="579.3" cy="118.8" r="0.58"/><circle cx="561.4" cy="101.6" r="0.40"/><circle cx="575.3" cy="131.8" r="0.46"/><circle cx="575.5" cy="118.8" r="0.52"/><circle cx="581.4" cy="92.7" r="0.65"/><circle cx="592.1" cy="101.4" r="0.53"/><circle cx="587.5" cy="113.1" r="0.40"/><circle cx="562.3" cy="118.7" r="0.31"/><circle cx="594.3" cy="133.7" r="0.65"/><circle cx="592.9" cy="124.7" r="0.50"/><circle cx="581.4" cy="118.2" r="0.79"/><circle cx="590.4" cy="105.4" r="0.76"/><circle cx="587.8" cy="132.5" r="0.71"/><circle cx="572.8" cy="138.6" r="0.74"/><circle cx="585.6" cy="131.9" r="0.68"/><circle cx="572.9" cy="129.6" r="0.34"/><circle cx="570.0" cy="116.4" r="0.31"/><circle cx="570.6" cy="125.2" r="0.61"/><circle cx="584.3" cy="109.6" r="0.63"/><circle cx="580.1" cy="119.7" r="0.49"/><circle cx="585.9" cy="131.6" r="0.79"/><circle cx="556.0" cy="124.0" r="0.67"/><circle cx="566.3" cy="112.9" r="0.33"/><circle cx="563.6" cy="111.5" r="0.35"/><circle cx="566.0" cy="139.1" r="0.58"/><circle cx="577.3" cy="142.3" r="0.58"/><circle cx="581.3" cy="131.5" r="0.32"/><circle cx="575.8" cy="100.8" r="0.55"/><circle cx="581.9" cy="95.0" r="0.77"/><circle cx="573.5" cy="119.4" r="0.60"/><circle cx="571.1" cy="106.9" r="0.63"/><circle cx="579.7" cy="106.7" r="0.66"/><circle cx="561.9" cy="131.2" r="0.49"/><circle cx="594.5" cy="130.9" r="0.33"/><circle cx="573.9" cy="116.8" r="0.79"/><circle cx="565.7" cy="119.2" r="0.77"/><circle cx="586.8" cy="116.4" r="0.79"/><circle cx="590.9" cy="123.4" r="0.36"/><circle cx="582.5" cy="115.7" r="0.40"/><circle cx="557.3" cy="119.5" r="0.36"/><circle cx="574.5" cy="126.7" r="0.53"/><circle cx="566.5" cy="122.3" r="0.51"/><circle cx="589.2" cy="119.6" r="0.80"/><circle cx="565.5" cy="97.9" r="0.75"/><circle cx="589.5" cy="124.5" r="0.48"/><circle cx="566.9" cy="127.6" r="0.58"/><circle cx="581.0" cy="124.9" r="0.68"/><circle cx="563.4" cy="104.9" r="0.79"/><circle cx="566.9" cy="114.1" r="0.61"/><circle cx="559.5" cy="120.2" r="0.34"/><circle cx="558.8" cy="127.2" r="0.58"/><circle cx="582.8" cy="111.4" r="0.54"/><circle cx="564.3" cy="109.9" r="0.67"/><circle cx="560.3" cy="134.1" r="0.61"/><circle cx="588.8" cy="103.1" r="0.51"/><circle cx="566.4" cy="134.1" r="0.48"/><circle cx="569.3" cy="120.5" r="0.67"/><circle cx="595.5" cy="114.2" r="0.48"/><circle cx="579.8" cy="117.2" r="0.64"/><circle cx="568.2" cy="132.3" r="0.34"/><circle cx="564.4" cy="126.4" r="0.34"/><circle cx="568.4" cy="129.7" r="0.65"/><circle cx="567.4" cy="99.4" r="0.48"/><circle cx="586.9" cy="111.1" r="0.36"/><circle cx="586.2" cy="121.6" r="0.76"/><circle cx="574.3" cy="133.8" r="0.45"/><circle cx="569.0" cy="112.8" r="0.77"/><circle cx="594.4" cy="104.9" r="0.48"/><circle cx="571.1" cy="110.9" r="0.50"/><circle cx="572.1" cy="102.1" r="0.58"/><circle cx="590.1" cy="120.1" r="0.72"/><circle cx="579.8" cy="101.2" r="0.68"/><circle cx="593.8" cy="106.6" r="0.31"/><circle cx="577.7" cy="120.3" r="0.58"/><circle cx="597.5" cy="125.9" r="0.70"/><circle cx="557.8" cy="120.4" r="0.69"/><circle cx="587.4" cy="138.8" r="0.34"/><circle cx="582.9" cy="99.5" r="0.67"/><circle cx="583.6" cy="104.8" r="0.41"/><circle cx="588.7" cy="119.1" r="0.68"/><circle cx="572.4" cy="109.6" r="0.78"/><circle cx="584.6" cy="117.7" r="0.57"/><circle cx="586.7" cy="128.8" r="0.76"/><circle cx="573.1" cy="135.0" r="0.63"/><circle cx="592.6" cy="133.9" r="0.72"/><circle cx="583.2" cy="119.2" r="0.66"/><circle cx="590.3" cy="113.9" r="0.51"/><circle cx="561.4" cy="130.5" r="0.80"/><circle cx="571.5" cy="100.7" r="0.40"/><circle cx="573.7" cy="107.2" r="0.78"/><circle cx="557.6" cy="108.0" r="0.36"/><circle cx="583.5" cy="132.3" r="0.39"/><circle cx="557.7" cy="115.9" r="0.59"/><circle cx="564.6" cy="104.2" r="0.66"/><circle cx="581.2" cy="103.6" r="0.39"/><circle cx="567.4" cy="101.0" r="0.68"/><circle cx="568.7" cy="120.5" r="0.71"/><circle cx="576.1" cy="105.5" r="0.74"/><circle cx="595.2" cy="109.8" r="0.57"/><circle cx="597.1" cy="117.1" r="0.41"/><circle cx="590.3" cy="112.0" r="0.56"/><circle cx="577.7" cy="106.3" r="0.80"/><circle cx="583.9" cy="104.4" r="0.31"/><circle cx="575.8" cy="111.3" r="0.70"/><circle cx="586.4" cy="123.5" r="0.38"/><circle cx="561.9" cy="108.7" r="0.43"/><circle cx="593.2" cy="118.8" r="0.62"/><circle cx="578.5" cy="99.8" r="0.69"/><circle cx="592.2" cy="134.7" r="0.34"/><circle cx="566.9" cy="129.3" r="0.35"/><circle cx="576.1" cy="116.4" r="0.78"/><circle cx="580.8" cy="136.6" r="0.45"/><circle cx="589.7" cy="113.7" r="0.76"/><circle cx="564.2" cy="120.3" r="0.56"/><circle cx="561.9" cy="135.3" r="0.46"/><circle cx="568.7" cy="96.0" r="0.45"/><circle cx="575.6" cy="129.2" r="0.48"/><circle cx="585.2" cy="97.5" r="0.50"/><circle cx="575.3" cy="142.3" r="0.71"/><circle cx="571.6" cy="128.9" r="0.42"/><circle cx="579.8" cy="115.8" r="0.31"/><circle cx="564.1" cy="124.0" r="0.45"/><circle cx="571.5" cy="120.1" r="0.45"/><circle cx="569.8" cy="112.4" r="0.63"/><circle cx="566.3" cy="102.4" r="0.67"/><circle cx="569.5" cy="141.1" r="0.58"/><circle cx="586.8" cy="109.2" r="0.71"/><circle cx="559.2" cy="127.2" r="0.65"/><circle cx="562.9" cy="112.9" r="0.72"/><circle cx="581.1" cy="96.7" r="0.41"/><circle cx="572.9" cy="95.8" r="0.76"/><circle cx="573.8" cy="118.6" r="0.62"/><circle cx="588.7" cy="134.7" r="0.49"/><circle cx="569.6" cy="113.4" r="0.31"/><circle cx="572.6" cy="128.4" r="0.79"/><circle cx="589.7" cy="126.3" r="0.60"/><circle cx="570.1" cy="125.8" r="0.35"/><circle cx="571.6" cy="118.5" r="0.69"/></g>
<g fill="#5a5a9a" fill-opacity="0.5"><circle cx="395.4" cy="167.1" r="0.63"/><circle cx="389.0" cy="157.1" r="0.71"/><circle cx="409.2" cy="165.6" r="0.58"/><circle cx="407.3" cy="153.8" r="0.52"/><circle cx="369.8" cy="167.9" r="0.47"/><circle cx="390.9" cy="171.9" r="0.31"/><circle cx="397.6" cy="152.4" r="0.79"/><circle cx="392.1" cy="153.5" r="0.46"/><circle cx="404.8" cy="154.3" r="0.65"/><circle cx="417.2" cy="160.4" r="0.51"/><circle cx="403.1" cy="162.4" r="0.49"/><circle cx="407.5" cy="159.3" r="0.48"/><circle cx="409.2" cy="167.5" r="0.36"/><circle cx="380.0" cy="159.4" r="0.56"/><circle cx="416.8" cy="163.0" r="0.31"/><circle cx="417.6" cy="161.2" r="0.56"/><circle cx="379.2" cy="161.1" r="0.49"/><circle cx="414.4" cy="152.7" r="0.57"/><circle cx="376.4" cy="168.1" r="0.32"/><circle cx="382.7" cy="158.9" r="0.62"/><circle cx="368.3" cy="161.9" r="0.40"/><circle cx="383.0" cy="162.4" r="0.78"/><circle cx="395.8" cy="174.9" r="0.38"/><circle cx="424.2" cy="159.5" r="0.39"/><circle cx="412.9" cy="173.7" r="0.30"/><circle cx="382.2" cy="170.0" r="0.47"/><circle cx="367.6" cy="166.1" r="0.79"/><circle cx="428.9" cy="163.1" r="0.31"/><circle cx="385.6" cy="170.5" r="0.72"/><circle cx="405.9" cy="156.0" r="0.56"/><circle cx="395.6" cy="166.3" r="0.43"/><circle cx="375.4" cy="157.6" r="0.74"/><circle cx="382.8" cy="174.5" r="0.56"/><circle cx="409.5" cy="168.3" r="0.41"/><circle cx="383.2" cy="156.6" r="0.64"/><circle cx="409.4" cy="153.4" r="0.74"/><circle cx="391.9" cy="156.3" r="0.52"/><circle cx="427.7" cy="164.6" r="0.61"/><circle cx="413.7" cy="160.9" r="0.59"/><circle cx="422.7" cy="170.5" r="0.59"/><circle cx="387.2" cy="159.6" r="0.67"/><circle cx="401.1" cy="150.4" r="0.66"/><circle cx="399.2" cy="170.5" r="0.49"/><circle cx="371.3" cy="159.2" r="0.46"/><circle cx="424.8" cy="167.9" r="0.57"/><circle cx="404.8" cy="153.2" r="0.57"/><circle cx="409.8" cy="160.2" r="0.42"/><circle cx="391.0" cy="158.4" r="0.64"/><circle cx="385.0" cy="168.1" r="0.68"/><circle cx="407.2" cy="174.3" r="0.48"/><circle cx="366.9" cy="162.7" r="0.52"/><circle cx="376.5" cy="167.4" r="0.47"/><circle cx="380.3" cy="158.5" r="0.77"/><circle cx="382.9" cy="155.2" r="0.52"/><circle cx="397.1" cy="168.2" r="0.38"/><circle cx="394.7" cy="165.8" r="0.72"/><circle cx="381.0" cy="162.0" r="0.73"/><circle cx="418.2" cy="155.9" r="0.57"/><circle cx="413.7" cy="160.3" r="0.64"/><circle cx="407.4" cy="175.3" r="0.58"/><circle cx="408.6" cy="159.1" r="0.67"/><circle cx="385.6" cy="163.0" r="0.48"/><circle cx="384.7" cy="153.5" r="0.41"/><circle cx="399.8" cy="156.5" r="0.32"/><circle cx="416.4" cy="157.4" r="0.77"/><circle cx="403.3" cy="160.1" r="0.74"/><circle cx="422.4" cy="158.3" r="0.36"/><circle cx="406.0" cy="171.9" r="0.60"/><circle cx="415.2" cy="160.7" r="0.61"/><circle cx="381.8" cy="160.6" r="0.49"/><circle cx="389.6" cy="160.4" r="0.70"/><circle cx="375.9" cy="155.3" r="0.43"/><circle cx="427.1" cy="163.6" r="0.33"/><circle cx="417.6" cy="159.3" r="0.67"/><circle cx="384.6" cy="153.6" r="0.73"/><circle cx="418.3" cy="155.5" r="0.74"/><circle cx="375.4" cy="168.6" r="0.45"/><circle cx="377.2" cy="154.8" r="0.46"/><circle cx="420.2" cy="165.8" r="0.35"/><circle cx="408.8" cy="163.9" r="0.52"/><circle cx="398.8" cy="166.9" r="0.70"/><circle cx="397.3" cy="166.5" r="0.53"/><circle cx="405.6" cy="160.1" r="0.51"/><circle cx="398.1" cy="168.6" r="0.44"/><circle cx="424.2" cy="162.8" r="0.73"/><circle cx="409.2" cy="174.9" r="0.64"/><circle cx="392.3" cy="160.6" r="0.60"/><circle cx="413.2" cy="171.8" r="0.36"/><circle cx="372.2" cy="167.8" r="0.61"/><circle cx="424.3" cy="162.4" r="0.40"/><circle cx="413.4" cy="161.0" r="0.57"/><circle cx="385.2" cy="156.3" r="0.34"/><circle cx="403.8" cy="174.8" r="0.79"/><circle cx="388.2" cy="157.8" r="0.76"/><circle cx="403.4" cy="167.4" r="0.31"/><circle cx="379.6" cy="162.5" r="0.67"/><circle cx="417.9" cy="169.7" r="0.47"/><circle cx="389.4" cy="172.4" r="0.79"/><circle cx="396.0" cy="155.1" r="0.61"/><circle cx="399.3" cy="159.4" r="0.42"/><circle cx="389.7" cy="165.9" r="0.36"/><circle cx="399.6" cy="174.8" r="0.67"/><circle cx="381.1" cy="160.9" r="0.35"/><circle cx="412.2" cy="166.4" r="0.39"/><circle cx="400.1" cy="165.5" r="0.59"/><circle cx="389.2" cy="158.1" r="0.48"/><circle cx="397.2" cy="162.0" r="0.39"/><circle cx="390.6" cy="155.3" r="0.46"/><circle cx="388.5" cy="159.1" r="0.77"/><circle cx="384.0" cy="158.6" r="0.63"/><circle cx="390.4" cy="163.4" r="0.62"/><circle cx="369.7" cy="167.5" r="0.35"/><circle cx="381.0" cy="171.1" r="0.79"/><circle cx="408.1" cy="154.5" r="0.52"/><circle cx="383.1" cy="171.9" r="0.42"/><circle cx="377.6" cy="166.6" r="0.62"/><circle cx="402.7" cy="162.4" r="0.78"/><circle cx="394.3" cy="174.4" r="0.50"/><circle cx="394.8" cy="159.3" r="0.66"/><circle cx="413.1" cy="156.2" r="0.56"/><circle cx="411.5" cy="163.0" r="0.63"/><circle cx="404.4" cy="168.6" r="0.48"/><circle cx="422.0" cy="170.5" r="0.50"/><circle cx="374.7" cy="171.8" r="0.51"/><circle cx="385.1" cy="156.7" r="0.51"/><circle cx="372.5" cy="158.0" r="0.38"/><circle cx="389.3" cy="162.7" r="0.60"/><circle cx="379.6" cy="172.4" r="0.75"/><circle cx="424.6" cy="163.7" r="0.48"/><circle cx="414.0" cy="164.3" r="0.70"/><circle cx="381.7" cy="163.9" r="0.75"/><circle cx="371.9" cy="166.1" r="0.39"/><circle cx="418.6" cy="171.8" r="0.62"/><circle cx="392.9" cy="150.6" r="0.55"/><circle cx="388.0" cy="160.4" r="0.34"/><circle cx="423.9" cy="163.6" r="0.58"/><circle cx="400.2" cy="164.1" r="0.72"/><circle cx="388.8" cy="173.4" r="0.31"/><circle cx="416.0" cy="163.7" r="0.61"/><circle cx="391.1" cy="170.8" r="0.67"/><circle cx="398.6" cy="170.2" r="0.64"/><circle cx="420.6" cy="166.9" r="0.48"/><circle cx="383.4" cy="152.1" r="0.36"/><circle cx="374.0" cy="165.7" r="0.37"/><circle cx="426.8" cy="163.9" r="0.39"/><circle cx="417.9" cy="172.4" r="0.79"/><circle cx="379.3" cy="160.5" r="0.63"/><circle cx="383.1" cy="164.8" r="0.65"/><circle cx="413.1" cy="171.4" r="0.68"/><circle cx="383.3" cy="169.6" r="0.52"/><circle cx="404.8" cy="159.3" r="0.35"/><circle cx="396.4" cy="160.8" r="0.46"/><circle cx="401.2" cy="164.0" r="0.56"/><circle cx="384.1" cy="172.7" r="0.46"/><circle cx="385.4" cy="174.2" r="0.63"/><circle cx="410.2" cy="155.3" r="0.36"/><circle cx="376.2" cy="161.2" r="0.71"/><circle cx="414.9" cy="161.4" r="0.76"/><circle cx="385.3" cy="151.3" r="0.78"/><circle cx="421.4" cy="167.2" r="0.54"/><circle cx="378.0" cy="155.7" r="0.33"/><circle cx="371.0" cy="162.5" r="0.75"/><circle cx="424.7" cy="163.4" r="0.64"/><circle cx="394.9" cy="170.2" r="0.65"/><circle cx="408.4" cy="165.3" r="0.38"/><circle cx="395.2" cy="161.6" r="0.38"/><circle cx="377.9" cy="160.7" r="0.39"/><circle cx="404.9" cy="158.5" r="0.79"/><circle cx="408.8" cy="163.4" r="0.52"/><circle cx="390.1" cy="155.2" r="0.78"/><circle cx="423.5" cy="166.9" r="0.63"/><circle cx="374.2" cy="164.1" r="0.38"/><circle cx="385.8" cy="165.3" r="0.39"/><circle cx="379.9" cy="169.0" r="0.54"/><circle cx="404.0" cy="168.0" r="0.58"/><circle cx="396.7" cy="173.6" r="0.37"/><circle cx="382.6" cy="164.3" r="0.42"/><circle cx="420.0" cy="156.8" r="0.34"/><circle cx="375.4" cy="157.1" r="0.77"/><circle cx="421.2" cy="167.4" r="0.51"/></g>
<g fill="#6a6aa0" fill-opacity="0.4"><circle cx="371.3" cy="86.2" r="0.64"/><circle cx="392.6" cy="80.2" r="0.42"/><circle cx="367.3" cy="80.7" r="0.67"/><circle cx="366.7" cy="84.4" r="0.41"/><circle cx="372.6" cy="83.2" r="0.72"/><circle cx="383.9" cy="78.2" r="0.44"/><circle cx="391.2" cy="87.7" r="0.71"/><circle cx="390.6" cy="81.1" r="0.72"/><circle cx="379.5" cy="87.1" r="0.58"/><circle cx="377.5" cy="82.4" r="0.51"/><circle cx="373.3" cy="79.4" r="0.71"/><circle cx="386.9" cy="84.7" r="0.67"/><circle cx="366.9" cy="86.1" r="0.52"/><circle cx="368.4" cy="80.4" r="0.56"/><circle cx="371.1" cy="83.5" r="0.60"/><circle cx="376.2" cy="79.6" r="0.55"/><circle cx="370.5" cy="80.8" r="0.40"/><circle cx="375.2" cy="78.9" r="0.63"/><circle cx="396.3" cy="82.7" r="0.66"/><circle cx="367.1" cy="87.7" r="0.72"/><circle cx="385.0" cy="79.9" r="0.51"/><circle cx="390.9" cy="80.4" r="0.73"/><circle cx="375.5" cy="86.6" r="0.37"/><circle cx="397.0" cy="85.2" r="0.66"/><circle cx="369.6" cy="85.4" r="0.59"/><circle cx="383.3" cy="82.3" r="0.66"/><circle cx="374.3" cy="81.5" r="0.38"/><circle cx="386.6" cy="79.3" r="0.41"/><circle cx="364.5" cy="85.7" r="0.58"/><circle cx="381.6" cy="78.5" r="0.52"/><circle cx="374.4" cy="79.1" r="0.30"/><circle cx="372.9" cy="81.2" r="0.60"/><circle cx="364.8" cy="83.6" r="0.48"/><circle cx="374.1" cy="84.0" r="0.78"/><circle cx="380.6" cy="83.7" r="0.63"/><circle cx="380.0" cy="88.9" r="0.67"/><circle cx="371.3" cy="86.2" r="0.72"/><circle cx="371.3" cy="85.1" r="0.48"/><circle cx="370.8" cy="81.4" r="0.40"/><circle cx="374.6" cy="78.5" r="0.50"/><circle cx="365.1" cy="87.1" r="0.60"/><circle cx="368.9" cy="83.8" r="0.58"/><circle cx="374.0" cy="81.5" r="0.52"/><circle cx="369.9" cy="81.6" r="0.49"/><circle cx="375.0" cy="83.3" r="0.74"/><circle cx="381.3" cy="79.6" r="0.70"/><circle cx="373.6" cy="88.7" r="0.57"/><circle cx="370.9" cy="88.4" r="0.37"/><circle cx="379.2" cy="82.5" r="0.47"/><circle cx="390.9" cy="80.6" r="0.66"/></g>
<path d="M86.5,158.0 C86.8,155.0 88.2,151.2 90.0,148.0 C91.8,144.8 94.7,141.5 97.0,139.0 C99.3,136.5 100.5,135.2 104.0,133.0 C107.5,130.8 112.3,128.2 118.0,126.0 C123.7,123.8 131.0,121.8 138.0,120.0 C145.0,118.2 152.7,117.0 160.0,115.5 C167.3,114.0 175.3,112.8 182.0,111.0 C188.7,109.2 194.3,106.7 200.0,105.0 C205.7,103.3 209.3,102.4 216.0,101.0 C222.7,99.6 232.7,97.8 240.0,96.5 C247.3,95.2 252.5,94.3 260.0,93.5 C267.5,92.7 277.5,92.0 285.0,91.5 C292.5,91.0 295.8,90.6 305.0,90.5 C314.2,90.4 326.8,90.5 340.0,91.0 C353.2,91.5 369.2,92.2 384.0,93.3 C398.8,94.4 414.2,96.5 429.0,97.8 C443.8,99.1 458.2,100.1 473.0,101.0 C487.8,101.9 505.3,102.3 518.0,103.3 C530.7,104.2 542.4,105.1 549.0,106.7 C555.6,108.3 556.7,110.0 557.8,113.0 C558.9,116.0 557.9,121.0 555.6,124.4 C553.3,127.8 550.3,131.2 544.0,133.3 C537.7,135.4 529.8,135.4 518.0,136.7 C506.2,138.0 487.8,139.6 473.0,141.1 C458.2,142.6 443.8,144.3 429.0,145.6 C414.2,146.9 395.2,148.0 384.0,148.9 C372.8,149.8 367.9,149.5 362.0,151.0 C356.1,152.5 354.2,156.1 348.9,157.8 C343.6,159.5 335.6,159.5 330.0,161.0 C324.4,162.5 320.1,164.7 315.6,166.7 C311.1,168.7 306.8,170.8 303.0,173.0 C299.2,175.2 296.3,177.3 293.0,180.0 C289.7,182.7 286.7,186.4 283.0,189.0 C279.3,191.6 275.7,193.8 271.0,195.6 C266.3,197.3 260.5,198.4 255.0,199.5 C249.5,200.6 244.5,201.6 237.8,202.2 C231.1,202.8 222.5,202.8 215.0,203.0 C207.5,203.2 200.5,203.4 193.0,203.3 C185.5,203.2 177.3,203.1 170.0,202.5 C162.7,201.9 155.6,201.1 148.9,200.0 C142.2,198.9 135.6,197.5 130.0,196.0 C124.5,194.5 120.1,193.0 115.6,191.0 C111.1,189.0 106.8,186.7 103.0,184.0 C99.2,181.3 95.5,178.0 93.0,175.0 C90.5,172.0 89.1,168.8 88.0,166.0 C86.9,163.2 86.2,161.0 86.5,158.0 Z" fill="url(#bodyA)" fill-opacity="1.0" stroke="#333a70" stroke-width="1.4" />
<path d="M86.5,158.0 C86.5,153.5 89.1,149.2 92.0,145.0 C94.9,140.8 98.5,136.5 104.0,133.0 C109.5,129.5 117.3,126.7 125.0,124.0 C132.7,121.3 140.8,119.2 150.0,117.0 C159.2,114.8 170.8,113.2 180.0,111.0 C189.2,108.8 198.0,105.5 205.0,104.0 C212.0,102.5 218.2,97.7 222.0,102.0 C225.8,106.3 228.0,118.7 228.0,130.0 C228.0,141.3 224.3,158.3 222.0,170.0 C219.7,181.7 218.8,194.4 214.0,200.0 C209.2,205.6 200.3,202.9 193.0,203.3 C185.7,203.7 177.3,203.1 170.0,202.5 C162.7,201.9 156.4,201.4 148.9,200.0 C141.4,198.6 132.3,196.5 125.0,194.0 C117.7,191.5 110.5,188.7 105.0,185.0 C99.5,181.3 95.1,176.5 92.0,172.0 C88.9,167.5 86.5,162.5 86.5,158.0 Z" fill="#b3ab98" fill-opacity="0.85" stroke="none" stroke-width="0" filter="url(#b2)" />
<path d="M205.0,150.0 C209.7,143.5 220.5,142.8 230.0,141.0 C239.5,139.2 251.7,137.8 262.0,139.0 C272.3,140.2 285.2,143.5 292.0,148.0 C298.8,152.5 302.7,160.3 303.0,166.0 C303.3,171.7 297.7,177.5 294.0,182.0 C290.3,186.5 287.3,190.0 281.0,193.0 C274.7,196.0 264.5,198.5 256.0,200.0 C247.5,201.5 237.3,202.3 230.0,202.0 C222.7,201.7 216.7,201.7 212.0,198.0 C207.3,194.3 203.2,188.0 202.0,180.0 C200.8,172.0 200.3,156.5 205.0,150.0 Z" fill="#676247" fill-opacity="0.95" stroke="none" stroke-width="0" filter="url(#b1)" />
<path d="M215.0,118.0 C222.5,117.3 242.5,114.5 260.0,114.0 C277.5,113.5 300.0,114.5 320.0,115.0 C340.0,115.5 360.0,116.3 380.0,117.0 C400.0,117.7 420.0,118.7 440.0,119.0 C460.0,119.3 481.7,119.5 500.0,119.0 C518.3,118.5 541.7,116.5 550.0,116.0 " fill="none" stroke="#c3a080" stroke-width="4" stroke-opacity="0.7" stroke-linecap="round" filter="url(#b1)" />
<ellipse cx="201" cy="184" rx="9" ry="11" fill="#b0583a" fill-opacity="0.75" filter="url(#b1)"/>
<ellipse cx="326" cy="156" rx="15" ry="6" fill="#b8683e" fill-opacity="0.85" filter="url(#b1)"/>
<ellipse cx="300" cy="129" rx="40" ry="7" fill="#c08a60" fill-opacity="0.5" filter="url(#b1)"/>
<ellipse cx="236" cy="136" rx="21" ry="10.5" fill="#352c3a" fill-opacity="0.85" filter="url(#b1)"/>
<ellipse cx="289" cy="140" rx="26" ry="13.5" fill="#15162a" fill-opacity="0.95" filter="url(#b1)"/>
<ellipse cx="291" cy="145.5" rx="19" ry="4.5" fill="#e8eef5" fill-opacity="0.85" filter="url(#b1)"/>
<circle cx="131" cy="156" r="25" fill="#5a5a66" fill-opacity="0.5" filter="url(#b1)"/>
<circle cx="131" cy="155.8" r="20.7" fill="url(#eyeA)"/>
<g fill="#2a2a55" fill-opacity="0.8"><circle cx="151.8" cy="125.6" r="0.88"/><circle cx="207.3" cy="109.1" r="0.72"/><circle cx="389.7" cy="99.0" r="0.55"/><circle cx="103.0" cy="138.9" r="0.72"/><circle cx="440.6" cy="98.7" r="0.72"/><circle cx="421.9" cy="98.4" r="0.97"/><circle cx="504.7" cy="102.7" r="0.51"/><circle cx="339.0" cy="98.7" r="0.69"/><circle cx="189.6" cy="113.3" r="0.51"/><circle cx="192.0" cy="112.7" r="0.75"/><circle cx="197.2" cy="108.6" r="0.61"/><circle cx="301.4" cy="93.6" r="0.51"/><circle cx="475.3" cy="103.8" r="0.82"/><circle cx="175.5" cy="123.1" r="0.93"/><circle cx="145.6" cy="121.7" r="0.86"/><circle cx="417.1" cy="102.2" r="0.71"/><circle cx="471.8" cy="104.2" r="0.65"/><circle cx="360.3" cy="98.4" r="0.92"/><circle cx="322.4" cy="95.9" r="0.52"/><circle cx="201.7" cy="114.0" r="0.71"/><circle cx="169.6" cy="119.4" r="0.85"/><circle cx="400.3" cy="97.3" r="0.72"/><circle cx="323.9" cy="97.6" r="0.76"/><circle cx="270.9" cy="98.7" r="0.51"/><circle cx="110.0" cy="134.9" r="0.99"/><circle cx="362.9" cy="95.0" r="0.59"/><circle cx="321.0" cy="99.4" r="0.89"/><circle cx="338.2" cy="98.1" r="0.62"/><circle cx="326.3" cy="99.0" r="0.79"/><circle cx="301.2" cy="93.4" r="0.77"/><circle cx="530.3" cy="104.7" r="0.89"/><circle cx="467.4" cy="105.0" r="0.87"/><circle cx="462.2" cy="102.8" r="0.78"/><circle cx="286.0" cy="92.1" r="0.94"/><circle cx="352.2" cy="93.2" r="0.75"/><circle cx="313.1" cy="93.9" r="0.67"/><circle cx="337.7" cy="96.1" r="0.81"/><circle cx="300.7" cy="91.0" r="0.61"/><circle cx="171.5" cy="119.4" r="0.93"/><circle cx="457.3" cy="104.0" r="0.91"/><circle cx="207.4" cy="113.2" r="0.84"/><circle cx="128.3" cy="123.1" r="0.51"/><circle cx="437.6" cy="99.8" r="0.55"/><circle cx="377.4" cy="95.3" r="0.53"/><circle cx="163.4" cy="120.3" r="0.58"/><circle cx="215.5" cy="109.8" r="0.73"/><circle cx="238.1" cy="102.8" r="0.51"/><circle cx="267.8" cy="98.1" r="0.59"/><circle cx="140.0" cy="128.1" r="0.76"/><circle cx="186.2" cy="116.4" r="0.91"/><circle cx="99.6" cy="136.9" r="0.57"/><circle cx="420.7" cy="97.9" r="0.85"/><circle cx="402.0" cy="98.5" r="0.61"/><circle cx="538.8" cy="108.3" r="0.76"/><circle cx="192.7" cy="114.9" r="0.70"/><circle cx="354.9" cy="94.2" r="0.82"/><circle cx="117.0" cy="128.8" r="0.98"/><circle cx="492.7" cy="103.4" r="0.93"/><circle cx="232.8" cy="109.6" r="0.87"/><circle cx="281.4" cy="94.8" r="0.50"/><circle cx="494.2" cy="102.3" r="0.91"/><circle cx="532.6" cy="106.9" r="0.59"/><circle cx="489.2" cy="106.2" r="0.85"/><circle cx="324.1" cy="94.1" r="0.67"/><circle cx="184.7" cy="117.6" r="0.72"/><circle cx="179.3" cy="112.7" r="0.83"/><circle cx="226.2" cy="105.3" r="0.66"/><circle cx="490.9" cy="106.0" r="0.51"/><circle cx="182.4" cy="114.5" r="0.99"/><circle cx="450.0" cy="101.1" r="0.61"/><circle cx="400.2" cy="100.2" r="0.97"/><circle cx="248.2" cy="106.4" r="0.84"/><circle cx="312.9" cy="99.8" r="0.62"/><circle cx="423.7" cy="97.8" r="0.58"/><circle cx="509.1" cy="103.7" r="0.88"/><circle cx="366.1" cy="98.2" r="0.68"/><circle cx="246.5" cy="99.2" r="0.93"/><circle cx="367.8" cy="99.1" r="0.94"/><circle cx="152.3" cy="122.6" r="0.55"/><circle cx="108.0" cy="131.5" r="0.93"/><circle cx="452.5" cy="103.9" r="0.67"/><circle cx="373.0" cy="98.1" r="0.69"/><circle cx="352.6" cy="93.4" r="0.54"/><circle cx="212.7" cy="112.6" r="0.78"/><circle cx="515.5" cy="105.0" r="0.64"/><circle cx="452.0" cy="103.8" r="0.51"/><circle cx="398.4" cy="95.3" r="0.56"/><circle cx="497.1" cy="102.4" r="0.62"/><circle cx="544.6" cy="107.6" r="0.56"/><circle cx="167.0" cy="116.6" r="0.87"/><circle cx="137.3" cy="128.7" r="0.69"/><circle cx="536.3" cy="108.5" r="0.65"/><circle cx="206.6" cy="109.1" r="0.55"/><circle cx="389.9" cy="94.2" r="0.51"/><circle cx="542.0" cy="106.9" r="0.80"/><circle cx="296.9" cy="94.1" r="0.53"/><circle cx="510.2" cy="106.9" r="0.98"/><circle cx="141.2" cy="121.4" r="0.81"/><circle cx="540.8" cy="107.6" r="0.84"/><circle cx="394.4" cy="96.0" r="0.77"/><circle cx="231.4" cy="101.2" r="0.54"/><circle cx="219.2" cy="112.5" r="0.72"/><circle cx="389.9" cy="98.1" r="0.97"/><circle cx="269.6" cy="96.5" r="0.66"/><circle cx="235.7" cy="108.0" r="0.95"/><circle cx="229.3" cy="102.7" r="0.77"/><circle cx="356.3" cy="96.3" r="0.62"/><circle cx="99.4" cy="138.2" r="0.54"/><circle cx="343.6" cy="91.8" r="0.54"/><circle cx="382.3" cy="95.2" r="0.90"/><circle cx="316.9" cy="98.5" r="0.58"/><circle cx="320.7" cy="97.8" r="0.54"/><circle cx="526.6" cy="104.9" r="0.89"/><circle cx="543.1" cy="108.7" r="0.66"/><circle cx="139.2" cy="124.6" r="0.96"/><circle cx="225.0" cy="110.4" r="0.57"/><circle cx="508.8" cy="103.0" r="0.66"/><circle cx="505.4" cy="106.1" r="0.95"/><circle cx="476.7" cy="104.7" r="0.84"/><circle cx="172.0" cy="117.7" r="0.58"/><circle cx="418.8" cy="100.8" r="0.63"/><circle cx="119.6" cy="133.2" r="0.90"/><circle cx="342.7" cy="95.5" r="0.93"/><circle cx="298.5" cy="94.9" r="0.67"/><circle cx="208.7" cy="103.1" r="0.82"/><circle cx="281.7" cy="98.5" r="0.53"/><circle cx="253.3" cy="96.3" r="0.56"/><circle cx="209.2" cy="112.7" r="0.70"/><circle cx="274.5" cy="99.8" r="0.62"/><circle cx="93.4" cy="145.6" r="0.75"/><circle cx="388.5" cy="96.6" r="0.84"/><circle cx="426.5" cy="98.9" r="0.75"/><circle cx="310.3" cy="92.7" r="0.71"/><circle cx="347.8" cy="98.7" r="0.96"/><circle cx="216.6" cy="108.8" r="0.52"/><circle cx="122.9" cy="128.8" r="0.94"/><circle cx="163.4" cy="122.8" r="0.94"/><circle cx="233.4" cy="106.4" r="0.92"/><circle cx="260.9" cy="102.2" r="0.87"/><circle cx="363.5" cy="98.3" r="0.95"/><circle cx="531.6" cy="106.9" r="0.59"/><circle cx="205.3" cy="106.3" r="0.78"/><circle cx="438.6" cy="98.8" r="0.84"/><circle cx="419.9" cy="99.0" r="0.76"/><circle cx="165.8" cy="122.0" r="0.52"/><circle cx="541.4" cy="108.6" r="0.81"/><circle cx="213.1" cy="112.8" r="0.98"/><circle cx="154.0" cy="124.5" r="0.92"/><circle cx="393.5" cy="98.8" r="0.72"/><circle cx="515.2" cy="107.1" r="0.69"/><circle cx="459.2" cy="102.2" r="0.58"/><circle cx="239.7" cy="98.2" r="0.95"/><circle cx="531.3" cy="105.2" r="0.80"/><circle cx="277.8" cy="93.5" r="0.65"/><circle cx="204.2" cy="112.9" r="0.50"/><circle cx="177.3" cy="116.7" r="0.51"/><circle cx="378.7" cy="97.1" r="0.92"/><circle cx="185.0" cy="113.2" r="0.77"/><circle cx="215.7" cy="108.2" r="0.63"/><circle cx="404.4" cy="100.3" r="0.90"/><circle cx="537.9" cy="107.4" r="0.75"/><circle cx="483.6" cy="105.1" r="0.79"/><circle cx="266.3" cy="96.5" r="0.55"/><circle cx="461.5" cy="100.8" r="0.87"/><circle cx="340.8" cy="98.9" r="0.88"/><circle cx="537.8" cy="105.9" r="0.75"/><circle cx="353.4" cy="94.1" r="0.75"/><circle cx="254.1" cy="101.1" r="0.50"/><circle cx="293.5" cy="95.9" r="0.65"/><circle cx="273.7" cy="102.0" r="0.84"/><circle cx="316.5" cy="96.5" r="0.69"/><circle cx="183.8" cy="110.4" r="0.64"/><circle cx="365.2" cy="98.5" r="0.91"/><circle cx="325.0" cy="99.3" r="0.73"/><circle cx="473.9" cy="103.0" r="0.87"/><circle cx="544.3" cy="107.2" r="0.59"/><circle cx="375.2" cy="96.5" r="0.68"/><circle cx="91.6" cy="147.2" r="0.71"/><circle cx="276.4" cy="102.6" r="0.79"/><circle cx="427.6" cy="102.8" r="0.87"/></g>
<g fill="#2a2a55" fill-opacity="0.8"><circle cx="535.3" cy="121.9" r="0.53"/><circle cx="243.4" cy="154.3" r="0.87"/><circle cx="439.4" cy="120.1" r="0.80"/><circle cx="418.3" cy="122.2" r="0.58"/><circle cx="359.3" cy="121.2" r="0.86"/><circle cx="548.3" cy="120.0" r="0.77"/><circle cx="364.0" cy="119.4" r="0.52"/><circle cx="224.2" cy="150.5" r="0.66"/><circle cx="342.3" cy="129.3" r="0.76"/><circle cx="402.8" cy="119.1" r="0.51"/><circle cx="323.9" cy="122.9" r="0.76"/><circle cx="549.6" cy="118.7" r="0.59"/><circle cx="514.3" cy="121.7" r="0.87"/><circle cx="518.7" cy="121.4" r="0.89"/><circle cx="333.5" cy="131.0" r="0.98"/><circle cx="269.0" cy="148.6" r="0.86"/><circle cx="369.6" cy="121.7" r="0.75"/><circle cx="524.8" cy="119.9" r="0.92"/><circle cx="333.6" cy="129.9" r="0.95"/><circle cx="369.4" cy="122.0" r="0.96"/><circle cx="457.5" cy="121.2" r="0.61"/><circle cx="323.8" cy="129.4" r="0.58"/><circle cx="519.2" cy="118.8" r="0.96"/><circle cx="318.7" cy="133.6" r="0.85"/><circle cx="383.9" cy="121.3" r="0.83"/><circle cx="412.0" cy="119.9" r="0.60"/><circle cx="386.5" cy="125.0" r="0.81"/><circle cx="240.3" cy="154.5" r="0.86"/><circle cx="519.1" cy="118.4" r="0.87"/><circle cx="234.7" cy="152.5" r="0.64"/><circle cx="290.9" cy="142.0" r="0.55"/><circle cx="390.0" cy="124.3" r="0.62"/><circle cx="285.5" cy="144.9" r="0.71"/><circle cx="455.2" cy="118.1" r="0.68"/><circle cx="272.6" cy="146.4" r="0.54"/><circle cx="534.8" cy="117.6" r="0.86"/><circle cx="222.1" cy="147.3" r="0.91"/><circle cx="267.6" cy="139.4" r="0.85"/><circle cx="344.2" cy="120.0" r="1.00"/><circle cx="265.7" cy="137.3" r="0.67"/><circle cx="421.1" cy="123.5" r="0.56"/><circle cx="328.0" cy="121.0" r="0.72"/><circle cx="471.6" cy="122.6" r="0.95"/><circle cx="468.1" cy="123.5" r="0.85"/><circle cx="373.4" cy="118.8" r="0.83"/><circle cx="321.0" cy="123.0" r="0.72"/><circle cx="508.0" cy="118.2" r="0.79"/><circle cx="346.6" cy="124.9" r="0.57"/><circle cx="536.5" cy="118.7" r="0.80"/><circle cx="355.6" cy="118.2" r="0.78"/><circle cx="262.1" cy="138.1" r="0.52"/><circle cx="269.0" cy="137.8" r="0.82"/><circle cx="385.3" cy="125.4" r="0.97"/><circle cx="548.2" cy="117.4" r="0.72"/><circle cx="299.0" cy="134.5" r="0.81"/><circle cx="483.1" cy="122.1" r="0.63"/><circle cx="356.7" cy="123.1" r="0.50"/><circle cx="226.9" cy="149.3" r="0.56"/><circle cx="457.5" cy="119.5" r="0.55"/><circle cx="275.9" cy="138.2" r="0.61"/><circle cx="389.4" cy="120.9" r="0.65"/><circle cx="430.0" cy="119.5" r="0.95"/><circle cx="537.6" cy="120.8" r="0.72"/><circle cx="386.4" cy="121.8" r="0.53"/><circle cx="355.0" cy="123.5" r="0.59"/><circle cx="246.4" cy="153.3" r="0.68"/><circle cx="388.9" cy="124.9" r="0.81"/><circle cx="312.0" cy="135.6" r="0.69"/><circle cx="221.4" cy="154.4" r="0.55"/><circle cx="317.5" cy="132.4" r="0.84"/><circle cx="220.3" cy="150.7" r="0.71"/><circle cx="377.8" cy="118.6" r="0.79"/><circle cx="239.7" cy="145.6" r="0.69"/><circle cx="528.3" cy="117.8" r="0.88"/><circle cx="279.4" cy="142.6" r="0.70"/><circle cx="370.2" cy="123.7" r="0.70"/><circle cx="255.8" cy="140.4" r="0.54"/><circle cx="499.8" cy="121.2" r="0.98"/><circle cx="447.0" cy="118.0" r="0.83"/><circle cx="475.4" cy="122.4" r="0.75"/><circle cx="334.8" cy="125.1" r="0.90"/><circle cx="305.1" cy="131.6" r="0.74"/><circle cx="534.8" cy="121.3" r="0.97"/><circle cx="495.1" cy="119.3" r="0.62"/><circle cx="378.7" cy="119.0" r="0.71"/><circle cx="442.5" cy="124.5" r="0.79"/><circle cx="489.0" cy="118.2" r="0.68"/><circle cx="549.2" cy="116.8" r="0.71"/><circle cx="237.4" cy="142.6" r="0.95"/><circle cx="546.2" cy="119.6" r="0.56"/><circle cx="314.3" cy="125.7" r="0.84"/><circle cx="443.2" cy="121.0" r="0.76"/><circle cx="252.5" cy="147.9" r="0.97"/><circle cx="468.2" cy="118.5" r="0.76"/><circle cx="454.6" cy="119.6" r="0.95"/><circle cx="369.4" cy="123.3" r="0.70"/><circle cx="548.4" cy="119.3" r="0.79"/><circle cx="263.5" cy="144.3" r="0.51"/><circle cx="414.4" cy="124.6" r="0.59"/><circle cx="385.9" cy="121.0" r="0.70"/><circle cx="453.0" cy="124.4" r="0.85"/><circle cx="373.3" cy="125.6" r="0.67"/><circle cx="464.8" cy="122.2" r="0.88"/><circle cx="500.4" cy="118.8" r="0.81"/><circle cx="349.9" cy="126.2" r="0.99"/><circle cx="427.7" cy="117.9" r="0.73"/><circle cx="453.4" cy="124.0" r="0.83"/><circle cx="488.4" cy="117.8" r="0.97"/><circle cx="459.4" cy="122.0" r="0.95"/><circle cx="511.4" cy="118.0" r="0.91"/><circle cx="471.9" cy="119.1" r="0.87"/><circle cx="411.4" cy="119.0" r="0.90"/><circle cx="261.2" cy="147.6" r="0.72"/><circle cx="300.0" cy="133.8" r="0.73"/><circle cx="283.7" cy="147.2" r="0.54"/><circle cx="216.0" cy="151.7" r="0.92"/><circle cx="435.6" cy="123.5" r="0.74"/><circle cx="441.1" cy="120.3" r="0.63"/><circle cx="383.5" cy="116.9" r="0.54"/><circle cx="467.6" cy="119.0" r="0.88"/><circle cx="477.8" cy="120.3" r="0.84"/><circle cx="478.8" cy="123.2" r="0.57"/><circle cx="269.5" cy="142.4" r="0.73"/><circle cx="313.8" cy="123.1" r="0.78"/><circle cx="538.9" cy="119.2" r="0.77"/><circle cx="343.1" cy="124.4" r="0.94"/><circle cx="318.3" cy="129.9" r="0.74"/><circle cx="395.4" cy="124.8" r="0.54"/><circle cx="491.2" cy="119.5" r="0.82"/><circle cx="481.6" cy="121.8" r="0.70"/><circle cx="496.6" cy="118.1" r="0.82"/><circle cx="346.0" cy="125.1" r="0.93"/><circle cx="482.3" cy="121.6" r="0.65"/><circle cx="293.0" cy="134.9" r="0.62"/><circle cx="308.0" cy="136.4" r="0.56"/><circle cx="489.2" cy="119.9" r="0.68"/><circle cx="321.7" cy="122.5" r="0.73"/><circle cx="270.8" cy="143.2" r="0.65"/><circle cx="514.7" cy="122.4" r="0.72"/><circle cx="429.3" cy="125.0" r="0.66"/><circle cx="248.4" cy="143.5" r="0.59"/><circle cx="442.3" cy="120.6" r="0.68"/><circle cx="481.4" cy="119.2" r="0.90"/><circle cx="427.0" cy="120.9" r="0.91"/><circle cx="329.7" cy="130.3" r="0.96"/><circle cx="383.4" cy="122.8" r="0.97"/><circle cx="463.8" cy="122.9" r="0.93"/><circle cx="528.4" cy="121.1" r="0.99"/><circle cx="312.7" cy="130.9" r="0.84"/><circle cx="338.1" cy="124.1" r="0.59"/><circle cx="535.8" cy="119.1" r="0.74"/><circle cx="514.3" cy="118.4" r="0.98"/><circle cx="257.6" cy="138.4" r="0.68"/><circle cx="335.3" cy="130.1" r="0.94"/><circle cx="470.1" cy="120.7" r="0.77"/><circle cx="294.3" cy="139.8" r="0.69"/><circle cx="310.4" cy="131.7" r="0.58"/><circle cx="321.0" cy="132.7" r="0.55"/><circle cx="262.6" cy="140.5" r="0.63"/><circle cx="355.8" cy="120.5" r="0.67"/></g>
<g fill="#2a2a55" fill-opacity="0.8"><circle cx="148.5" cy="162.2" r="0.65"/><circle cx="230.9" cy="162.1" r="0.53"/><circle cx="98.0" cy="171.4" r="0.60"/><circle cx="147.7" cy="195.3" r="0.69"/><circle cx="283.2" cy="138.2" r="0.76"/><circle cx="128.9" cy="168.0" r="0.85"/><circle cx="212.7" cy="174.4" r="0.77"/><circle cx="109.4" cy="172.2" r="0.74"/><circle cx="162.8" cy="121.7" r="0.85"/><circle cx="201.4" cy="173.3" r="0.85"/><circle cx="255.7" cy="186.6" r="0.66"/><circle cx="275.2" cy="137.8" r="0.87"/><circle cx="292.7" cy="103.4" r="0.55"/><circle cx="143.8" cy="192.4" r="0.67"/><circle cx="236.0" cy="131.0" r="0.70"/><circle cx="181.8" cy="144.6" r="0.73"/><circle cx="226.5" cy="188.5" r="0.77"/><circle cx="304.0" cy="157.8" r="0.90"/><circle cx="246.0" cy="116.3" r="0.84"/><circle cx="312.0" cy="157.9" r="0.73"/><circle cx="255.6" cy="119.4" r="0.83"/><circle cx="224.0" cy="131.1" r="0.53"/><circle cx="287.1" cy="179.7" r="0.54"/><circle cx="275.1" cy="134.7" r="0.56"/><circle cx="161.1" cy="179.2" r="0.85"/><circle cx="104.9" cy="164.2" r="0.52"/><circle cx="256.6" cy="130.6" r="0.85"/><circle cx="315.6" cy="129.0" r="0.90"/><circle cx="164.7" cy="125.0" r="0.74"/><circle cx="102.1" cy="145.7" r="0.66"/><circle cx="232.4" cy="117.8" r="0.52"/><circle cx="290.3" cy="121.6" r="0.88"/><circle cx="296.7" cy="124.6" r="0.68"/><circle cx="212.0" cy="165.6" r="0.74"/><circle cx="220.8" cy="162.5" r="0.88"/><circle cx="209.1" cy="146.7" r="0.79"/><circle cx="148.5" cy="144.2" r="0.89"/><circle cx="212.3" cy="156.9" r="0.50"/><circle cx="188.4" cy="162.8" r="0.51"/><circle cx="233.6" cy="162.5" r="0.52"/><circle cx="236.2" cy="146.5" r="0.77"/><circle cx="174.3" cy="174.4" r="0.80"/><circle cx="100.0" cy="141.1" r="0.77"/><circle cx="311.7" cy="112.1" r="0.68"/><circle cx="228.4" cy="133.8" r="0.65"/><circle cx="165.4" cy="147.9" r="0.74"/><circle cx="162.6" cy="148.7" r="0.81"/><circle cx="101.1" cy="161.8" r="0.79"/><circle cx="164.8" cy="136.4" r="0.82"/><circle cx="148.7" cy="135.8" r="0.67"/><circle cx="252.1" cy="109.6" r="0.63"/><circle cx="170.1" cy="184.7" r="0.68"/><circle cx="287.5" cy="110.3" r="0.63"/><circle cx="241.3" cy="185.5" r="0.68"/><circle cx="145.6" cy="131.3" r="0.71"/><circle cx="137.9" cy="180.3" r="0.84"/><circle cx="136.3" cy="143.6" r="0.82"/><circle cx="239.4" cy="178.3" r="0.64"/><circle cx="124.2" cy="146.0" r="0.82"/><circle cx="156.0" cy="146.9" r="0.67"/><circle cx="189.4" cy="148.1" r="0.87"/><circle cx="130.1" cy="126.4" r="0.88"/><circle cx="293.0" cy="174.5" r="0.67"/><circle cx="308.8" cy="160.9" r="0.59"/><circle cx="262.7" cy="177.1" r="0.77"/><circle cx="211.8" cy="133.4" r="0.64"/><circle cx="146.2" cy="127.3" r="0.74"/><circle cx="159.6" cy="182.3" r="0.52"/><circle cx="298.3" cy="148.5" r="0.87"/><circle cx="296.7" cy="165.3" r="0.73"/><circle cx="98.0" cy="167.9" r="0.57"/><circle cx="162.5" cy="171.0" r="0.71"/><circle cx="188.1" cy="193.3" r="0.74"/><circle cx="171.8" cy="137.9" r="0.84"/><circle cx="202.4" cy="178.9" r="0.64"/><circle cx="139.4" cy="161.3" r="0.83"/><circle cx="133.5" cy="178.8" r="0.87"/><circle cx="276.4" cy="171.7" r="0.50"/><circle cx="236.4" cy="184.0" r="0.52"/><circle cx="156.1" cy="141.0" r="0.71"/><circle cx="190.2" cy="153.4" r="0.81"/><circle cx="95.4" cy="144.6" r="0.55"/><circle cx="123.0" cy="132.2" r="0.89"/><circle cx="287.3" cy="103.3" r="0.70"/><circle cx="166.1" cy="143.5" r="0.64"/><circle cx="240.6" cy="157.3" r="0.64"/><circle cx="138.0" cy="146.9" r="0.55"/><circle cx="220.0" cy="171.5" r="0.65"/><circle cx="113.0" cy="141.4" r="0.65"/><circle cx="231.0" cy="176.8" r="0.65"/><circle cx="275.3" cy="153.9" r="0.67"/><circle cx="178.8" cy="156.9" r="0.78"/><circle cx="189.6" cy="172.4" r="0.68"/><circle cx="150.1" cy="161.5" r="0.78"/><circle cx="111.1" cy="155.0" r="0.67"/><circle cx="292.9" cy="170.5" r="0.65"/><circle cx="297.0" cy="156.6" r="0.60"/><circle cx="199.4" cy="121.0" r="0.83"/><circle cx="244.0" cy="185.3" r="0.82"/><circle cx="245.2" cy="170.5" r="0.73"/><circle cx="118.2" cy="164.1" r="0.50"/><circle cx="127.3" cy="176.9" r="0.52"/><circle cx="115.7" cy="136.1" r="0.85"/><circle cx="135.3" cy="126.2" r="0.84"/><circle cx="122.3" cy="180.3" r="0.77"/><circle cx="283.1" cy="179.8" r="0.73"/><circle cx="274.7" cy="100.7" r="0.81"/><circle cx="210.0" cy="172.3" r="0.54"/><circle cx="263.5" cy="186.1" r="0.52"/><circle cx="168.0" cy="163.2" r="0.83"/><circle cx="149.5" cy="135.1" r="0.60"/><circle cx="233.6" cy="173.9" r="0.66"/><circle cx="177.7" cy="148.9" r="0.64"/><circle cx="189.1" cy="120.4" r="0.70"/><circle cx="313.9" cy="123.0" r="0.80"/><circle cx="131.1" cy="171.9" r="0.80"/><circle cx="246.6" cy="149.8" r="0.69"/><circle cx="239.7" cy="186.9" r="0.56"/><circle cx="116.6" cy="173.5" r="0.87"/><circle cx="211.4" cy="147.4" r="0.79"/><circle cx="136.9" cy="142.7" r="0.58"/><circle cx="226.8" cy="133.5" r="0.59"/><circle cx="250.5" cy="190.5" r="0.62"/><circle cx="253.7" cy="138.9" r="0.84"/><circle cx="226.5" cy="129.1" r="0.59"/><circle cx="100.2" cy="158.0" r="0.65"/><circle cx="133.8" cy="149.6" r="0.63"/><circle cx="269.2" cy="111.3" r="0.90"/><circle cx="202.9" cy="162.5" r="0.69"/><circle cx="282.8" cy="168.6" r="0.72"/></g>
<g fill="#2a2a55" fill-opacity="0.8"><circle cx="359.0" cy="144.4" r="0.82"/><circle cx="338.7" cy="149.9" r="0.82"/><circle cx="529.5" cy="134.3" r="1.11"/><circle cx="355.5" cy="150.0" r="0.72"/><circle cx="343.2" cy="149.7" r="0.67"/><circle cx="531.9" cy="134.1" r="1.15"/><circle cx="500.1" cy="134.1" r="0.75"/><circle cx="456.7" cy="141.0" r="1.18"/><circle cx="520.0" cy="131.9" r="0.98"/><circle cx="467.9" cy="138.6" r="0.64"/><circle cx="418.4" cy="139.6" r="1.25"/><circle cx="516.4" cy="134.6" r="0.74"/><circle cx="527.2" cy="133.5" r="1.21"/><circle cx="512.0" cy="134.8" r="0.83"/><circle cx="449.7" cy="139.7" r="0.63"/><circle cx="376.3" cy="148.0" r="0.53"/><circle cx="311.6" cy="164.3" r="0.72"/><circle cx="433.7" cy="141.4" r="0.77"/><circle cx="549.3" cy="126.5" r="0.83"/><circle cx="350.7" cy="153.3" r="0.72"/><circle cx="389.0" cy="146.5" r="0.76"/><circle cx="439.6" cy="143.9" r="0.58"/><circle cx="315.4" cy="158.0" r="1.11"/><circle cx="453.9" cy="138.1" r="0.76"/><circle cx="344.4" cy="153.1" r="0.53"/><circle cx="474.3" cy="140.3" r="1.26"/><circle cx="483.7" cy="139.8" r="0.51"/><circle cx="372.2" cy="149.7" r="1.12"/><circle cx="402.6" cy="147.1" r="1.00"/><circle cx="504.5" cy="134.3" r="0.65"/><circle cx="411.0" cy="140.3" r="0.81"/><circle cx="540.5" cy="131.0" r="0.51"/><circle cx="311.2" cy="159.1" r="1.13"/><circle cx="390.7" cy="142.6" r="0.58"/><circle cx="545.4" cy="130.0" r="0.67"/><circle cx="314.8" cy="156.3" r="0.63"/><circle cx="469.2" cy="136.3" r="0.53"/><circle cx="422.7" cy="140.6" r="1.30"/><circle cx="330.6" cy="156.0" r="1.12"/><circle cx="402.3" cy="147.5" r="0.88"/><circle cx="360.5" cy="146.5" r="0.53"/><circle cx="405.3" cy="141.5" r="1.21"/><circle cx="507.8" cy="135.1" r="0.53"/><circle cx="363.6" cy="144.2" r="0.67"/><circle cx="357.9" cy="151.9" r="0.61"/><circle cx="312.8" cy="167.3" r="0.95"/><circle cx="547.6" cy="128.4" r="1.22"/><circle cx="463.5" cy="140.8" r="1.10"/><circle cx="423.6" cy="139.4" r="0.67"/><circle cx="518.5" cy="136.1" r="1.24"/><circle cx="384.1" cy="146.0" r="1.14"/><circle cx="460.6" cy="141.2" r="0.92"/><circle cx="463.7" cy="140.1" r="0.71"/><circle cx="530.7" cy="134.8" r="0.56"/><circle cx="542.8" cy="133.3" r="1.03"/><circle cx="311.1" cy="167.7" r="0.60"/><circle cx="542.1" cy="132.2" r="0.55"/><circle cx="341.8" cy="155.3" r="0.96"/><circle cx="486.6" cy="139.4" r="0.67"/><circle cx="300.8" cy="173.6" r="0.51"/><circle cx="519.1" cy="132.2" r="1.15"/><circle cx="495.7" cy="138.2" r="0.94"/><circle cx="519.7" cy="132.5" r="1.04"/><circle cx="382.7" cy="148.1" r="1.12"/><circle cx="417.9" cy="142.9" r="0.52"/><circle cx="308.5" cy="165.4" r="0.89"/><circle cx="516.2" cy="134.9" r="0.61"/><circle cx="390.6" cy="146.5" r="0.92"/><circle cx="302.6" cy="171.2" r="1.16"/><circle cx="321.3" cy="159.4" r="0.80"/><circle cx="496.8" cy="135.0" r="0.69"/><circle cx="421.7" cy="145.9" r="0.58"/><circle cx="328.6" cy="157.5" r="1.21"/><circle cx="428.1" cy="141.6" r="1.19"/><circle cx="494.1" cy="133.9" r="1.21"/><circle cx="349.0" cy="150.8" r="1.17"/><circle cx="405.6" cy="145.7" r="0.63"/><circle cx="518.6" cy="132.5" r="0.62"/><circle cx="423.6" cy="141.2" r="0.93"/><circle cx="526.0" cy="134.3" r="0.50"/></g>
<rect x="508" y="198.2" width="127.1" height="7.8" fill="#000"/>
<path d="M112.0,352.0 C111.2,355.3 109.7,365.5 111.0,372.0 C112.3,378.5 115.2,385.8 120.0,391.0 C124.8,396.2 132.5,400.2 140.0,403.0 C147.5,405.8 155.8,407.0 165.0,408.0 C174.2,409.0 185.5,409.7 195.0,409.0 C204.5,408.3 216.8,406.5 222.0,404.0 C227.2,401.5 229.7,396.2 226.0,394.0 C222.3,391.8 211.0,392.0 200.0,391.0 C189.0,390.0 171.7,389.8 160.0,388.0 C148.3,386.2 137.0,383.7 130.0,380.0 C123.0,376.3 120.3,370.7 118.0,366.0 C115.7,361.3 117.0,354.3 116.0,352.0 C115.0,349.7 112.8,348.7 112.0,352.0 Z" fill="#2846a4" fill-opacity="0.95" stroke="none" stroke-width="0" filter="url(#b4)" />
<ellipse cx="200" cy="300" rx="80" ry="14" fill="#c8cee4" fill-opacity="0.35" filter="url(#b8)"/>
<g fill="#5a5a9a" fill-opacity="0.5"><circle cx="567.3" cy="344.9" r="0.62"/><circle cx="581.1" cy="320.2" r="0.70"/><circle cx="595.5" cy="335.6" r="0.55"/><circle cx="576.3" cy="339.4" r="0.33"/><circle cx="594.9" cy="321.1" r="0.42"/><circle cx="592.5" cy="354.5" r="0.61"/><circle cx="561.5" cy="326.1" r="0.55"/><circle cx="576.2" cy="317.1" r="0.71"/><circle cx="579.9" cy="337.7" r="0.47"/><circle cx="581.3" cy="318.7" r="0.32"/><circle cx="598.1" cy="321.2" r="0.69"/><circle cx="599.3" cy="348.2" r="0.68"/><circle cx="585.6" cy="346.9" r="0.36"/><circle cx="581.0" cy="352.0" r="0.40"/><circle cx="578.0" cy="328.0" r="0.53"/><circle cx="577.0" cy="310.4" r="0.35"/><circle cx="581.8" cy="334.6" r="0.58"/><circle cx="592.9" cy="320.5" r="0.60"/><circle cx="584.5" cy="341.4" r="0.39"/><circle cx="567.5" cy="327.1" r="0.76"/><circle cx="575.3" cy="340.1" r="0.45"/><circle cx="595.8" cy="349.4" r="0.49"/><circle cx="590.1" cy="344.1" r="0.75"/><circle cx="602.2" cy="330.2" r="0.79"/><circle cx="602.3" cy="339.7" r="0.74"/><circle cx="581.6" cy="328.5" r="0.42"/><circle cx="594.1" cy="334.1" r="0.72"/><circle cx="572.8" cy="330.8" r="0.39"/><circle cx="563.1" cy="326.6" r="0.75"/><circle cx="581.1" cy="322.1" r="0.78"/><circle cx="583.1" cy="346.9" r="0.31"/><circle cx="569.3" cy="352.6" r="0.70"/><circle cx="598.8" cy="340.3" r="0.51"/><circle cx="585.6" cy="353.2" r="0.45"/><circle cx="583.5" cy="323.4" r="0.68"/><circle cx="586.1" cy="342.5" r="0.73"/><circle cx="585.7" cy="322.4" r="0.50"/><circle cx="579.7" cy="316.3" r="0.73"/><circle cx="588.8" cy="315.6" r="0.57"/><circle cx="574.3" cy="334.7" r="0.41"/><circle cx="567.3" cy="318.6" r="0.49"/><circle cx="591.2" cy="337.6" r="0.32"/><circle cx="591.3" cy="354.4" r="0.69"/><circle cx="580.4" cy="312.3" r="0.68"/><circle cx="567.7" cy="346.0" r="0.43"/><circle cx="590.7" cy="325.3" r="0.32"/><circle cx="577.1" cy="325.1" r="0.75"/><circle cx="573.0" cy="335.2" r="0.57"/><circle cx="586.5" cy="335.4" r="0.67"/><circle cx="590.8" cy="336.3" r="0.58"/><circle cx="603.0" cy="327.5" r="0.46"/><circle cx="595.8" cy="348.5" r="0.52"/><circle cx="587.3" cy="310.0" r="0.62"/><circle cx="579.5" cy="335.9" r="0.49"/><circle cx="577.7" cy="320.7" r="0.32"/><circle cx="579.1" cy="321.8" r="0.65"/><circle cx="596.0" cy="346.6" r="0.53"/><circle cx="570.4" cy="329.0" r="0.54"/><circle cx="587.8" cy="359.1" r="0.34"/><circle cx="581.1" cy="334.6" r="0.66"/><circle cx="599.2" cy="349.5" r="0.61"/><circle cx="593.4" cy="343.7" r="0.73"/><circle cx="590.8" cy="344.5" r="0.42"/><circle cx="600.3" cy="329.1" r="0.61"/><circle cx="573.8" cy="325.2" r="0.50"/><circle cx="566.4" cy="337.8" r="0.34"/><circle cx="573.3" cy="358.1" r="0.67"/><circle cx="580.3" cy="314.6" r="0.78"/><circle cx="591.0" cy="319.7" r="0.47"/><circle cx="588.2" cy="344.4" r="0.43"/><circle cx="601.9" cy="325.7" r="0.43"/><circle cx="597.2" cy="317.0" r="0.64"/><circle cx="568.8" cy="340.1" r="0.44"/><circle cx="576.7" cy="357.9" r="0.53"/><circle cx="579.2" cy="341.1" r="0.44"/><circle cx="567.7" cy="329.0" r="0.44"/><circle cx="601.1" cy="345.6" r="0.31"/><circle cx="582.1" cy="311.0" r="0.60"/><circle cx="590.8" cy="321.5" r="0.30"/><circle cx="584.0" cy="313.9" r="0.45"/><circle cx="580.0" cy="355.5" r="0.49"/><circle cx="565.9" cy="350.2" r="0.71"/><circle cx="583.3" cy="311.6" r="0.39"/><circle cx="577.7" cy="337.7" r="0.41"/><circle cx="595.3" cy="352.9" r="0.76"/><circle cx="585.6" cy="313.2" r="0.75"/><circle cx="592.9" cy="348.5" r="0.39"/><circle cx="586.7" cy="341.3" r="0.54"/><circle cx="595.2" cy="326.6" r="0.43"/><circle cx="575.5" cy="324.5" r="0.61"/><circle cx="563.0" cy="335.6" r="0.64"/><circle cx="568.4" cy="323.0" r="0.33"/><circle cx="561.6" cy="334.7" r="0.64"/><circle cx="588.7" cy="317.2" r="0.35"/><circle cx="601.0" cy="337.0" r="0.50"/><circle cx="590.4" cy="346.8" r="0.56"/><circle cx="575.5" cy="336.7" r="0.61"/><circle cx="567.7" cy="345.9" r="0.55"/><circle cx="567.1" cy="353.2" r="0.70"/><circle cx="599.9" cy="344.3" r="0.41"/><circle cx="594.2" cy="355.9" r="0.57"/><circle cx="577.2" cy="358.0" r="0.77"/><circle cx="575.5" cy="340.9" r="0.60"/><circle cx="593.2" cy="342.6" r="0.38"/><circle cx="601.0" cy="336.9" r="0.74"/><circle cx="584.4" cy="349.3" r="0.67"/><circle cx="598.8" cy="327.8" r="0.34"/><circle cx="577.8" cy="318.3" r="0.57"/><circle cx="595.9" cy="327.8" r="0.37"/><circle cx="561.2" cy="331.0" r="0.59"/><circle cx="569.3" cy="314.6" r="0.76"/><circle cx="583.0" cy="355.5" r="0.56"/><circle cx="565.4" cy="321.5" r="0.51"/><circle cx="588.2" cy="349.1" r="0.68"/><circle cx="588.6" cy="322.2" r="0.52"/><circle cx="576.6" cy="334.5" r="0.43"/><circle cx="583.7" cy="332.9" r="0.32"/><circle cx="596.2" cy="339.5" r="0.70"/><circle cx="592.4" cy="347.0" r="0.80"/><circle cx="576.6" cy="329.5" r="0.30"/><circle cx="589.2" cy="339.2" r="0.59"/><circle cx="570.0" cy="347.2" r="0.71"/><circle cx="581.2" cy="311.9" r="0.49"/><circle cx="596.4" cy="335.0" r="0.53"/><circle cx="577.1" cy="341.7" r="0.60"/><circle cx="590.5" cy="354.0" r="0.68"/><circle cx="576.5" cy="322.0" r="0.69"/><circle cx="568.7" cy="353.1" r="0.75"/><circle cx="563.4" cy="325.0" r="0.62"/><circle cx="566.4" cy="352.2" r="0.43"/><circle cx="590.0" cy="324.4" r="0.41"/><circle cx="569.1" cy="334.9" r="0.66"/><circle cx="569.6" cy="344.7" r="0.47"/><circle cx="588.6" cy="328.1" r="0.40"/><circle cx="590.6" cy="330.5" r="0.36"/><circle cx="598.7" cy="343.0" r="0.31"/><circle cx="591.9" cy="339.9" r="0.52"/><circle cx="582.0" cy="359.0" r="0.49"/><circle cx="588.0" cy="342.1" r="0.48"/><circle cx="575.2" cy="348.3" r="0.62"/><circle cx="580.1" cy="335.7" r="0.41"/><circle cx="588.3" cy="332.7" r="0.41"/><circle cx="585.8" cy="339.3" r="0.34"/><circle cx="581.6" cy="317.6" r="0.70"/><circle cx="574.4" cy="326.1" r="0.41"/><circle cx="566.7" cy="341.5" r="0.72"/><circle cx="569.7" cy="314.8" r="0.57"/><circle cx="565.1" cy="330.1" r="0.68"/><circle cx="568.9" cy="345.4" r="0.57"/><circle cx="563.7" cy="321.6" r="0.60"/><circle cx="585.4" cy="351.5" r="0.56"/><circle cx="573.3" cy="325.5" r="0.76"/><circle cx="575.7" cy="349.8" r="0.32"/><circle cx="581.9" cy="355.4" r="0.69"/><circle cx="585.5" cy="318.5" r="0.76"/><circle cx="594.2" cy="346.4" r="0.57"/><circle cx="567.2" cy="326.7" r="0.63"/><circle cx="588.9" cy="329.2" r="0.70"/><circle cx="562.4" cy="323.9" r="0.35"/><circle cx="574.3" cy="350.2" r="0.68"/><circle cx="566.6" cy="325.0" r="0.36"/><circle cx="589.1" cy="332.0" r="0.42"/><circle cx="576.5" cy="354.0" r="0.51"/><circle cx="590.4" cy="341.6" r="0.54"/><circle cx="584.5" cy="327.9" r="0.40"/><circle cx="581.8" cy="324.8" r="0.47"/><circle cx="578.7" cy="319.4" r="0.32"/><circle cx="569.4" cy="354.2" r="0.47"/><circle cx="589.4" cy="321.0" r="0.63"/><circle cx="579.8" cy="347.3" r="0.56"/><circle cx="576.5" cy="323.6" r="0.60"/><circle cx="596.6" cy="345.0" r="0.54"/><circle cx="574.5" cy="355.4" r="0.72"/><circle cx="566.4" cy="344.3" r="0.69"/><circle cx="589.7" cy="359.1" r="0.74"/><circle cx="574.4" cy="328.8" r="0.79"/><circle cx="567.4" cy="329.6" r="0.61"/><circle cx="572.0" cy="322.9" r="0.70"/><circle cx="587.0" cy="347.7" r="0.69"/><circle cx="582.0" cy="345.5" r="0.56"/><circle cx="602.6" cy="343.1" r="0.52"/><circle cx="589.2" cy="324.3" r="0.36"/><circle cx="577.0" cy="316.1" r="0.30"/><circle cx="564.1" cy="332.6" r="0.68"/><circle cx="562.1" cy="342.1" r="0.36"/><circle cx="582.5" cy="324.4" r="0.52"/><circle cx="591.3" cy="330.5" r="0.50"/><circle cx="592.1" cy="315.0" r="0.47"/><circle cx="590.9" cy="352.4" r="0.79"/><circle cx="571.3" cy="341.5" r="0.46"/><circle cx="590.9" cy="353.0" r="0.37"/><circle cx="575.2" cy="357.7" r="0.48"/><circle cx="587.8" cy="351.6" r="0.44"/><circle cx="575.0" cy="317.7" r="0.47"/><circle cx="595.3" cy="318.0" r="0.59"/><circle cx="584.4" cy="353.2" r="0.72"/><circle cx="587.4" cy="317.8" r="0.68"/><circle cx="573.6" cy="322.1" r="0.41"/><circle cx="577.4" cy="350.2" r="0.73"/><circle cx="592.8" cy="346.9" r="0.42"/><circle cx="574.1" cy="324.8" r="0.52"/><circle cx="600.4" cy="333.0" r="0.65"/><circle cx="594.5" cy="318.7" r="0.61"/><circle cx="591.4" cy="334.3" r="0.75"/><circle cx="567.3" cy="337.5" r="0.36"/><circle cx="595.4" cy="346.6" r="0.32"/><circle cx="573.6" cy="316.4" r="0.62"/><circle cx="587.7" cy="312.3" r="0.78"/><circle cx="602.5" cy="331.9" r="0.59"/><circle cx="576.0" cy="340.5" r="0.50"/><circle cx="579.4" cy="348.0" r="0.39"/><circle cx="573.1" cy="348.7" r="0.41"/><circle cx="567.0" cy="330.4" r="0.46"/><circle cx="571.5" cy="327.3" r="0.57"/><circle cx="565.1" cy="336.7" r="0.33"/><circle cx="570.6" cy="326.8" r="0.45"/><circle cx="596.8" cy="343.2" r="0.54"/><circle cx="593.9" cy="344.7" r="0.46"/><circle cx="587.1" cy="347.8" r="0.57"/><circle cx="593.1" cy="341.9" r="0.76"/></g>
<g fill="#5a5a9a" fill-opacity="0.5"><circle cx="393.1" cy="352.4" r="0.63"/><circle cx="402.7" cy="373.9" r="0.42"/><circle cx="439.6" cy="357.9" r="0.60"/><circle cx="437.9" cy="368.2" r="0.76"/><circle cx="424.5" cy="350.4" r="0.74"/><circle cx="417.4" cy="357.7" r="0.40"/><circle cx="433.0" cy="365.3" r="0.77"/><circle cx="416.0" cy="368.6" r="0.61"/><circle cx="400.7" cy="370.9" r="0.78"/><circle cx="421.1" cy="353.0" r="0.71"/><circle cx="422.1" cy="354.2" r="0.32"/><circle cx="413.9" cy="349.9" r="0.76"/><circle cx="412.4" cy="363.5" r="0.50"/><circle cx="421.7" cy="374.7" r="0.45"/><circle cx="404.4" cy="365.3" r="0.45"/><circle cx="417.7" cy="364.2" r="0.52"/><circle cx="422.4" cy="363.8" r="0.34"/><circle cx="407.9" cy="360.3" r="0.76"/><circle cx="439.1" cy="363.3" r="0.50"/><circle cx="392.3" cy="364.3" r="0.47"/><circle cx="401.7" cy="359.0" r="0.40"/><circle cx="384.2" cy="364.0" r="0.70"/><circle cx="420.8" cy="354.6" r="0.65"/><circle cx="385.1" cy="360.5" r="0.71"/><circle cx="437.3" cy="361.9" r="0.72"/><circle cx="411.9" cy="363.7" r="0.59"/><circle cx="410.4" cy="369.4" r="0.62"/><circle cx="403.2" cy="371.0" r="0.71"/><circle cx="418.5" cy="375.4" r="0.31"/><circle cx="412.0" cy="366.8" r="0.47"/><circle cx="392.3" cy="368.4" r="0.52"/><circle cx="440.0" cy="358.9" r="0.36"/><circle cx="395.0" cy="356.1" r="0.73"/><circle cx="392.8" cy="356.7" r="0.35"/><circle cx="410.2" cy="354.8" r="0.47"/><circle cx="426.1" cy="374.9" r="0.72"/><circle cx="384.3" cy="359.6" r="0.72"/><circle cx="411.4" cy="359.7" r="0.68"/><circle cx="425.1" cy="362.0" r="0.42"/><circle cx="395.8" cy="356.5" r="0.33"/><circle cx="421.9" cy="353.4" r="0.74"/><circle cx="420.8" cy="350.6" r="0.55"/><circle cx="418.2" cy="350.2" r="0.54"/><circle cx="396.0" cy="364.0" r="0.37"/><circle cx="402.5" cy="373.2" r="0.71"/><circle cx="420.4" cy="353.9" r="0.70"/><circle cx="435.6" cy="364.4" r="0.48"/><circle cx="432.9" cy="363.4" r="0.39"/><circle cx="398.7" cy="353.5" r="0.72"/><circle cx="412.6" cy="368.5" r="0.71"/><circle cx="406.3" cy="373.5" r="0.68"/><circle cx="405.2" cy="367.4" r="0.40"/><circle cx="404.8" cy="355.6" r="0.56"/><circle cx="415.5" cy="373.2" r="0.60"/><circle cx="413.6" cy="370.5" r="0.31"/><circle cx="438.9" cy="368.2" r="0.70"/><circle cx="412.3" cy="375.3" r="0.75"/><circle cx="406.7" cy="366.4" r="0.67"/><circle cx="401.9" cy="376.2" r="0.77"/><circle cx="425.6" cy="374.2" r="0.70"/><circle cx="421.1" cy="358.0" r="0.44"/><circle cx="437.6" cy="357.4" r="0.31"/><circle cx="401.0" cy="351.9" r="0.52"/><circle cx="401.9" cy="353.9" r="0.54"/><circle cx="406.9" cy="358.9" r="0.71"/><circle cx="400.4" cy="364.2" r="0.74"/><circle cx="439.5" cy="359.5" r="0.32"/><circle cx="439.0" cy="363.4" r="0.41"/><circle cx="389.7" cy="355.7" r="0.46"/><circle cx="388.8" cy="362.5" r="0.70"/><circle cx="412.3" cy="350.9" r="0.47"/><circle cx="404.8" cy="374.6" r="0.59"/><circle cx="409.5" cy="366.7" r="0.32"/><circle cx="423.2" cy="371.6" r="0.64"/><circle cx="403.7" cy="357.0" r="0.31"/><circle cx="409.2" cy="370.8" r="0.41"/><circle cx="410.3" cy="366.8" r="0.61"/><circle cx="417.1" cy="357.5" r="0.42"/><circle cx="423.3" cy="375.1" r="0.47"/><circle cx="405.9" cy="364.6" r="0.39"/><circle cx="406.4" cy="374.7" r="0.58"/><circle cx="431.4" cy="356.3" r="0.73"/><circle cx="429.0" cy="355.3" r="0.56"/><circle cx="422.9" cy="365.0" r="0.60"/><circle cx="396.4" cy="364.5" r="0.48"/><circle cx="429.9" cy="359.4" r="0.79"/><circle cx="416.8" cy="355.4" r="0.51"/><circle cx="389.7" cy="369.6" r="0.32"/><circle cx="418.3" cy="357.6" r="0.69"/><circle cx="389.6" cy="368.1" r="0.66"/><circle cx="396.0" cy="352.6" r="0.49"/><circle cx="420.9" cy="356.3" r="0.30"/><circle cx="408.5" cy="371.6" r="0.38"/><circle cx="438.4" cy="363.2" r="0.38"/><circle cx="388.0" cy="359.4" r="0.54"/><circle cx="412.1" cy="356.1" r="0.52"/><circle cx="409.0" cy="368.5" r="0.59"/><circle cx="395.7" cy="354.0" r="0.73"/><circle cx="414.5" cy="374.9" r="0.61"/><circle cx="402.1" cy="361.1" r="0.67"/><circle cx="395.9" cy="371.5" r="0.50"/><circle cx="384.5" cy="358.6" r="0.58"/><circle cx="437.6" cy="363.3" r="0.75"/><circle cx="423.4" cy="364.1" r="0.38"/><circle cx="409.1" cy="359.8" r="0.34"/><circle cx="419.2" cy="372.9" r="0.49"/><circle cx="399.3" cy="366.2" r="0.70"/><circle cx="392.2" cy="356.9" r="0.62"/><circle cx="400.9" cy="372.3" r="0.53"/><circle cx="388.8" cy="356.3" r="0.68"/><circle cx="429.6" cy="366.7" r="0.45"/><circle cx="421.8" cy="369.5" r="0.48"/><circle cx="386.9" cy="362.1" r="0.41"/><circle cx="393.3" cy="359.9" r="0.34"/><circle cx="435.9" cy="356.9" r="0.75"/><circle cx="413.5" cy="373.8" r="0.54"/><circle cx="400.6" cy="373.0" r="0.71"/><circle cx="389.1" cy="358.8" r="0.36"/><circle cx="395.7" cy="358.9" r="0.51"/><circle cx="391.0" cy="367.4" r="0.42"/><circle cx="435.4" cy="362.5" r="0.51"/><circle cx="427.9" cy="358.7" r="0.43"/><circle cx="389.4" cy="357.3" r="0.42"/><circle cx="426.1" cy="358.9" r="0.65"/><circle cx="398.5" cy="351.0" r="0.45"/><circle cx="405.6" cy="374.5" r="0.40"/><circle cx="394.7" cy="353.4" r="0.43"/><circle cx="411.2" cy="365.4" r="0.36"/><circle cx="407.1" cy="370.5" r="0.30"/><circle cx="425.1" cy="368.2" r="0.69"/><circle cx="411.2" cy="362.0" r="0.56"/><circle cx="390.2" cy="363.4" r="0.42"/><circle cx="401.3" cy="350.3" r="0.38"/><circle cx="385.3" cy="364.1" r="0.42"/><circle cx="415.3" cy="363.1" r="0.42"/><circle cx="389.6" cy="365.7" r="0.64"/><circle cx="423.4" cy="363.2" r="0.59"/><circle cx="430.0" cy="359.6" r="0.35"/><circle cx="407.3" cy="372.4" r="0.35"/><circle cx="388.7" cy="363.0" r="0.74"/><circle cx="405.4" cy="355.9" r="0.68"/><circle cx="387.7" cy="357.3" r="0.60"/><circle cx="401.5" cy="356.5" r="0.48"/><circle cx="389.3" cy="356.6" r="0.68"/><circle cx="386.3" cy="369.7" r="0.78"/><circle cx="429.6" cy="360.6" r="0.67"/><circle cx="427.6" cy="369.8" r="0.55"/><circle cx="396.1" cy="361.1" r="0.34"/><circle cx="404.5" cy="371.9" r="0.54"/><circle cx="413.5" cy="370.8" r="0.34"/><circle cx="403.2" cy="362.5" r="0.55"/><circle cx="423.1" cy="375.2" r="0.70"/><circle cx="414.7" cy="368.2" r="0.57"/><circle cx="441.2" cy="365.7" r="0.60"/><circle cx="405.8" cy="360.7" r="0.68"/><circle cx="404.4" cy="374.3" r="0.66"/><circle cx="439.3" cy="368.8" r="0.58"/><circle cx="421.7" cy="370.0" r="0.66"/><circle cx="423.0" cy="356.8" r="0.49"/><circle cx="434.1" cy="360.3" r="0.53"/><circle cx="394.6" cy="355.0" r="0.56"/><circle cx="387.2" cy="369.5" r="0.79"/><circle cx="427.0" cy="363.4" r="0.37"/><circle cx="429.0" cy="352.6" r="0.34"/><circle cx="412.7" cy="373.1" r="0.46"/><circle cx="433.8" cy="358.3" r="0.78"/><circle cx="426.3" cy="373.2" r="0.79"/><circle cx="431.0" cy="354.5" r="0.56"/><circle cx="414.7" cy="369.2" r="0.41"/><circle cx="416.6" cy="357.0" r="0.39"/></g>
<g fill="#6a6aa0" fill-opacity="0.4"><circle cx="394.9" cy="285.2" r="0.57"/><circle cx="380.2" cy="282.9" r="0.52"/><circle cx="383.1" cy="285.6" r="0.31"/><circle cx="378.7" cy="288.1" r="0.51"/><circle cx="392.4" cy="288.3" r="0.48"/><circle cx="394.9" cy="287.6" r="0.61"/><circle cx="407.1" cy="284.6" r="0.68"/><circle cx="387.8" cy="286.7" r="0.63"/><circle cx="386.1" cy="281.9" r="0.54"/><circle cx="399.0" cy="286.9" r="0.52"/><circle cx="396.6" cy="282.8" r="0.39"/><circle cx="386.3" cy="289.2" r="0.40"/><circle cx="394.3" cy="289.2" r="0.47"/><circle cx="387.8" cy="283.9" r="0.45"/><circle cx="400.9" cy="286.5" r="0.43"/><circle cx="379.4" cy="288.8" r="0.65"/><circle cx="402.5" cy="283.4" r="0.57"/><circle cx="405.4" cy="286.9" r="0.77"/><circle cx="377.8" cy="285.2" r="0.31"/><circle cx="401.9" cy="287.9" r="0.79"/><circle cx="393.2" cy="290.9" r="0.67"/><circle cx="387.1" cy="290.7" r="0.49"/><circle cx="390.9" cy="283.0" r="0.77"/><circle cx="379.3" cy="286.3" r="0.38"/><circle cx="393.4" cy="289.1" r="0.43"/><circle cx="389.5" cy="290.0" r="0.52"/><circle cx="387.0" cy="289.9" r="0.71"/><circle cx="404.6" cy="287.9" r="0.51"/><circle cx="398.2" cy="289.3" r="0.62"/><circle cx="383.6" cy="284.0" r="0.50"/><circle cx="400.7" cy="286.6" r="0.57"/><circle cx="396.2" cy="284.3" r="0.58"/><circle cx="402.7" cy="283.5" r="0.78"/><circle cx="378.5" cy="286.6" r="0.57"/><circle cx="383.5" cy="286.6" r="0.54"/><circle cx="390.4" cy="288.2" r="0.30"/><circle cx="388.1" cy="288.9" r="0.37"/><circle cx="403.8" cy="283.0" r="0.64"/><circle cx="381.5" cy="285.5" r="0.51"/><circle cx="378.6" cy="288.0" r="0.54"/></g>
<path d="M115.6,360.0 C115.6,356.4 116.5,351.1 118.0,347.0 C119.5,342.9 120.4,339.2 124.4,335.6 C128.4,332.0 134.8,328.4 142.2,325.6 C149.6,322.8 158.9,321.5 168.9,318.9 C178.9,316.3 191.1,313.5 202.2,310.0 C213.3,306.5 224.5,301.3 235.6,297.8 C246.7,294.3 257.8,290.9 268.9,288.9 C280.0,286.9 290.3,285.6 302.2,285.6 C314.1,285.6 326.3,287.0 340.0,288.9 C353.7,290.8 369.6,294.1 384.4,296.7 C399.2,299.3 414.1,302.0 428.9,304.4 C443.7,306.8 458.5,309.2 473.3,311.1 C488.1,313.0 504.8,314.1 517.8,315.6 C530.8,317.1 544.0,317.8 551.0,320.0 C558.0,322.2 560.0,325.9 560.0,328.9 C560.0,331.9 558.0,335.2 551.0,337.8 C544.0,340.4 530.8,342.9 517.8,344.4 C504.8,345.9 488.1,346.1 473.3,346.7 C458.5,347.3 443.7,347.4 428.9,347.8 C414.1,348.2 392.7,347.2 384.4,348.9 C376.1,350.6 381.5,357.3 378.9,358.0 C376.3,358.7 372.9,354.5 368.9,353.3 C364.9,352.1 360.6,351.0 355.0,351.0 C349.4,351.0 342.2,351.4 335.6,353.3 C329.0,355.2 321.2,358.5 315.6,362.2 C310.0,365.9 308.1,371.5 302.2,375.6 C296.3,379.7 289.2,383.9 280.0,386.7 C270.8,389.5 256.0,391.1 246.7,392.2 C237.4,393.3 233.7,393.5 224.4,393.3 C215.1,393.1 202.1,392.1 191.0,391.0 C179.9,389.9 167.8,388.5 157.8,386.7 C147.8,384.9 137.7,383.0 131.0,380.0 C124.3,377.0 120.4,372.2 117.8,368.9 C115.2,365.6 115.6,363.6 115.6,360.0 Z" fill="url(#bodyA)" fill-opacity="1.0" stroke="#333a70" stroke-width="1.4" />
<path d="M115.6,360.0 C115.9,355.7 116.8,348.3 120.0,343.0 C123.2,337.7 126.8,332.0 135.0,328.0 C143.2,324.0 157.7,321.9 168.9,318.9 C180.1,315.9 191.7,313.1 202.2,310.0 C212.7,306.9 225.7,296.7 232.0,300.0 C238.3,303.3 240.0,318.3 240.0,330.0 C240.0,341.7 234.6,359.4 232.0,370.0 C229.4,380.6 231.2,389.8 224.4,393.3 C217.6,396.8 202.1,392.1 191.0,391.0 C179.9,389.9 167.8,388.5 157.8,386.7 C147.8,384.9 137.6,382.9 131.0,380.0 C124.4,377.1 120.6,372.3 118.0,369.0 C115.4,365.7 115.3,364.3 115.6,360.0 Z" fill="#bcb29a" fill-opacity="0.85" stroke="none" stroke-width="0" filter="url(#b2)" />
<path d="M228.0,335.0 C233.8,326.2 248.0,323.7 260.0,322.0 C272.0,320.3 290.3,321.2 300.0,325.0 C309.7,328.8 316.0,337.8 318.0,345.0 C320.0,352.2 315.0,362.2 312.0,368.0 C309.0,373.8 307.0,376.2 300.0,380.0 C293.0,383.8 280.0,388.8 270.0,391.0 C260.0,393.2 247.5,395.7 240.0,393.0 C232.5,390.3 227.0,384.7 225.0,375.0 C223.0,365.3 222.2,343.8 228.0,335.0 Z" fill="#c9b796" fill-opacity="0.9" stroke="none" stroke-width="0" filter="url(#b1)" />
<path d="M235.0,310.0 C244.2,308.8 272.5,303.7 290.0,303.0 C307.5,302.3 321.7,304.5 340.0,306.0 C358.3,307.5 380.0,310.0 400.0,312.0 C420.0,314.0 440.0,316.3 460.0,318.0 C480.0,319.7 504.2,320.8 520.0,322.0 C535.8,323.2 549.2,324.5 555.0,325.0 " fill="none" stroke="#c3a080" stroke-width="4" stroke-opacity="0.7" stroke-linecap="round" filter="url(#b1)" />
<ellipse cx="218" cy="372" rx="9" ry="14" fill="#b0583a" fill-opacity="0.7" filter="url(#b1)"/>
<ellipse cx="332" cy="349" rx="14" ry="6" fill="#b8683e" fill-opacity="0.75" filter="url(#b1)"/>
<ellipse cx="285" cy="367" rx="20" ry="12" fill="#4a4838" fill-opacity="0.75" filter="url(#b2)"/>
<ellipse cx="253" cy="332" rx="20" ry="15" fill="#34303e" fill-opacity="0.85" filter="url(#b1)"/>
<ellipse cx="307" cy="331" rx="25" ry="11" fill="#15162a" fill-opacity="0.95" filter="url(#b1)"/>
<ellipse cx="309" cy="336" rx="15" ry="4" fill="#e8eef5" fill-opacity="0.85" filter="url(#b1)"/>
<ellipse cx="319" cy="353" rx="6" ry="6" fill="#2a2030" fill-opacity="0.85" filter="url(#b1)"/>
<path d="M122.0,350.0 C121.5,347.0 122.8,341.3 125.0,338.0 C127.2,334.7 130.8,331.8 135.0,330.0 C139.2,328.2 145.0,327.0 150.0,327.0 C155.0,327.0 161.7,327.8 165.0,330.0 C168.3,332.2 170.3,337.2 170.0,340.0 C169.7,342.8 166.3,346.0 163.0,347.0 C159.7,348.0 154.2,345.5 150.0,346.0 C145.8,346.5 141.7,348.3 138.0,350.0 C134.3,351.7 130.7,356.0 128.0,356.0 C125.3,356.0 122.5,353.0 122.0,350.0 Z" fill="#1e1c2a" fill-opacity="0.92" stroke="none" stroke-width="0" filter="url(#b2)" />
<circle cx="158.9" cy="363.3" r="20.6" fill="url(#eyeA)"/>
<g fill="#2a2a55" fill-opacity="0.8"><circle cx="387.8" cy="301.9" r="0.90"/><circle cx="525.3" cy="318.9" r="0.96"/><circle cx="132.5" cy="333.8" r="0.97"/><circle cx="399.1" cy="304.6" r="0.56"/><circle cx="321.7" cy="289.4" r="0.77"/><circle cx="366.8" cy="293.7" r="0.61"/><circle cx="240.2" cy="307.1" r="0.88"/><circle cx="188.6" cy="321.0" r="0.57"/><circle cx="385.5" cy="297.7" r="0.50"/><circle cx="494.7" cy="314.1" r="0.61"/><circle cx="542.4" cy="321.0" r="0.64"/><circle cx="533.4" cy="319.2" r="0.84"/><circle cx="208.1" cy="317.4" r="0.85"/><circle cx="535.6" cy="320.4" r="0.65"/><circle cx="275.3" cy="290.2" r="0.57"/><circle cx="148.0" cy="326.3" r="0.80"/><circle cx="121.5" cy="343.4" r="0.67"/><circle cx="253.3" cy="302.7" r="0.74"/><circle cx="255.8" cy="298.1" r="0.85"/><circle cx="144.5" cy="331.8" r="0.51"/><circle cx="442.4" cy="310.6" r="0.51"/><circle cx="458.7" cy="310.6" r="0.79"/><circle cx="123.9" cy="336.7" r="0.59"/><circle cx="530.7" cy="317.9" r="0.88"/><circle cx="519.8" cy="319.0" r="0.67"/><circle cx="272.6" cy="294.8" r="0.89"/><circle cx="166.5" cy="325.6" r="0.90"/><circle cx="489.7" cy="312.9" r="0.97"/><circle cx="159.2" cy="324.0" r="0.81"/><circle cx="514.8" cy="316.5" r="0.96"/><circle cx="354.4" cy="293.7" r="0.66"/><circle cx="196.3" cy="312.3" r="0.57"/><circle cx="416.3" cy="307.7" r="0.58"/><circle cx="140.9" cy="333.0" r="0.77"/><circle cx="294.5" cy="289.0" r="0.80"/><circle cx="475.3" cy="313.2" r="0.71"/><circle cx="144.0" cy="331.5" r="0.52"/><circle cx="332.2" cy="294.9" r="0.57"/><circle cx="434.6" cy="310.1" r="0.82"/><circle cx="458.8" cy="309.4" r="0.72"/><circle cx="184.2" cy="322.5" r="0.65"/><circle cx="314.9" cy="295.8" r="0.93"/><circle cx="539.7" cy="319.7" r="0.74"/><circle cx="433.7" cy="307.6" r="0.65"/><circle cx="293.6" cy="288.1" r="0.69"/><circle cx="545.0" cy="321.5" r="0.81"/><circle cx="334.7" cy="291.1" r="0.54"/><circle cx="237.1" cy="306.3" r="0.93"/><circle cx="275.4" cy="297.6" r="0.89"/><circle cx="418.7" cy="306.3" r="0.88"/><circle cx="276.3" cy="296.6" r="0.64"/><circle cx="328.8" cy="294.2" r="0.85"/><circle cx="246.4" cy="306.0" r="0.82"/><circle cx="369.7" cy="294.2" r="0.77"/><circle cx="227.8" cy="308.1" r="0.73"/><circle cx="471.2" cy="313.6" r="0.90"/><circle cx="269.6" cy="296.5" r="0.87"/><circle cx="476.1" cy="312.9" r="0.92"/><circle cx="494.1" cy="315.9" r="0.99"/><circle cx="531.3" cy="318.9" r="0.76"/><circle cx="191.5" cy="320.7" r="0.97"/><circle cx="325.2" cy="293.4" r="0.86"/><circle cx="434.1" cy="306.1" r="0.89"/><circle cx="369.8" cy="298.9" r="0.71"/><circle cx="388.2" cy="302.1" r="0.82"/><circle cx="429.8" cy="304.7" r="0.58"/><circle cx="309.7" cy="292.6" r="0.61"/><circle cx="415.0" cy="305.5" r="0.52"/><circle cx="322.8" cy="289.3" r="0.53"/><circle cx="177.4" cy="319.4" r="0.59"/><circle cx="203.1" cy="310.0" r="0.73"/><circle cx="283.5" cy="294.6" r="0.80"/><circle cx="222.3" cy="312.5" r="0.50"/><circle cx="294.3" cy="289.5" r="0.71"/><circle cx="169.5" cy="325.7" r="0.69"/><circle cx="135.5" cy="333.2" r="0.55"/><circle cx="354.4" cy="293.9" r="0.79"/><circle cx="532.1" cy="319.9" r="0.71"/><circle cx="469.6" cy="313.3" r="0.68"/><circle cx="181.1" cy="320.9" r="0.78"/><circle cx="531.6" cy="320.2" r="0.80"/><circle cx="271.0" cy="299.4" r="0.50"/><circle cx="166.4" cy="324.2" r="0.81"/><circle cx="180.5" cy="321.4" r="0.95"/><circle cx="281.6" cy="292.7" r="0.61"/><circle cx="245.3" cy="306.5" r="0.69"/><circle cx="533.3" cy="320.2" r="0.80"/><circle cx="231.7" cy="310.2" r="0.75"/><circle cx="298.7" cy="289.5" r="0.99"/><circle cx="331.5" cy="290.5" r="0.74"/><circle cx="172.4" cy="323.2" r="0.72"/><circle cx="246.0" cy="304.1" r="0.91"/><circle cx="125.7" cy="337.5" r="0.64"/><circle cx="522.2" cy="318.7" r="0.62"/><circle cx="235.1" cy="299.7" r="0.99"/><circle cx="246.1" cy="302.1" r="0.74"/><circle cx="397.3" cy="302.5" r="0.87"/><circle cx="170.8" cy="324.8" r="0.65"/><circle cx="349.4" cy="293.0" r="0.65"/><circle cx="347.8" cy="293.7" r="0.68"/><circle cx="440.4" cy="309.1" r="0.52"/><circle cx="228.5" cy="305.4" r="0.96"/><circle cx="501.8" cy="316.0" r="0.51"/><circle cx="454.7" cy="310.3" r="0.79"/><circle cx="424.5" cy="307.0" r="0.74"/><circle cx="512.0" cy="316.4" r="0.70"/><circle cx="486.3" cy="313.2" r="0.65"/><circle cx="476.9" cy="311.7" r="0.92"/><circle cx="418.7" cy="305.0" r="0.64"/><circle cx="455.7" cy="312.7" r="0.57"/><circle cx="325.7" cy="292.3" r="0.75"/><circle cx="262.2" cy="292.5" r="0.79"/><circle cx="469.1" cy="310.8" r="0.62"/><circle cx="472.4" cy="314.4" r="0.83"/><circle cx="131.0" cy="336.1" r="0.99"/><circle cx="549.3" cy="321.3" r="0.52"/><circle cx="482.1" cy="312.9" r="0.82"/><circle cx="529.5" cy="319.3" r="0.57"/><circle cx="245.8" cy="305.8" r="0.57"/><circle cx="382.6" cy="299.1" r="0.58"/><circle cx="387.6" cy="297.5" r="0.55"/><circle cx="283.1" cy="288.3" r="0.53"/><circle cx="367.4" cy="299.0" r="0.94"/><circle cx="177.8" cy="320.3" r="0.66"/><circle cx="378.1" cy="299.2" r="0.97"/><circle cx="280.9" cy="288.4" r="0.85"/><circle cx="185.0" cy="320.3" r="0.75"/><circle cx="511.5" cy="316.9" r="0.81"/><circle cx="233.2" cy="304.9" r="0.63"/><circle cx="442.7" cy="309.0" r="0.57"/><circle cx="220.8" cy="307.2" r="0.87"/><circle cx="197.1" cy="318.2" r="0.83"/><circle cx="156.7" cy="327.1" r="0.55"/><circle cx="173.7" cy="322.7" r="0.62"/><circle cx="497.1" cy="315.3" r="0.66"/><circle cx="462.5" cy="309.6" r="0.86"/><circle cx="143.1" cy="326.4" r="0.98"/><circle cx="412.9" cy="302.9" r="0.56"/><circle cx="538.3" cy="320.1" r="0.91"/><circle cx="180.1" cy="321.4" r="0.68"/><circle cx="221.1" cy="306.7" r="0.81"/><circle cx="269.9" cy="293.4" r="0.57"/><circle cx="477.4" cy="314.2" r="0.90"/><circle cx="306.4" cy="294.7" r="0.76"/><circle cx="374.8" cy="299.2" r="0.87"/><circle cx="290.1" cy="287.9" r="0.52"/><circle cx="207.0" cy="308.6" r="0.94"/><circle cx="326.8" cy="294.1" r="0.50"/><circle cx="322.2" cy="295.0" r="0.81"/><circle cx="304.3" cy="290.7" r="0.55"/><circle cx="186.5" cy="315.6" r="0.69"/><circle cx="285.8" cy="297.4" r="0.58"/><circle cx="229.2" cy="303.2" r="0.58"/><circle cx="243.4" cy="298.4" r="0.74"/><circle cx="133.8" cy="335.9" r="0.68"/><circle cx="523.3" cy="318.6" r="0.84"/><circle cx="322.8" cy="295.5" r="0.56"/><circle cx="407.5" cy="302.4" r="0.84"/><circle cx="433.6" cy="305.9" r="0.60"/><circle cx="130.7" cy="333.4" r="0.54"/><circle cx="292.5" cy="297.5" r="0.68"/><circle cx="254.1" cy="298.4" r="0.64"/><circle cx="434.9" cy="309.0" r="0.58"/><circle cx="223.4" cy="309.6" r="0.97"/><circle cx="397.7" cy="301.6" r="0.99"/><circle cx="122.7" cy="338.9" r="0.89"/><circle cx="296.4" cy="286.7" r="0.77"/><circle cx="545.5" cy="320.5" r="0.68"/><circle cx="160.3" cy="321.6" r="0.95"/><circle cx="331.2" cy="295.7" r="0.53"/><circle cx="224.7" cy="302.3" r="0.70"/><circle cx="145.9" cy="326.5" r="0.70"/><circle cx="251.6" cy="294.1" r="0.52"/><circle cx="537.8" cy="318.7" r="0.75"/><circle cx="293.0" cy="292.5" r="0.54"/><circle cx="255.0" cy="293.9" r="0.77"/><circle cx="516.2" cy="317.5" r="0.93"/><circle cx="212.2" cy="306.5" r="0.77"/><circle cx="329.2" cy="292.6" r="0.69"/><circle cx="388.8" cy="301.9" r="0.96"/><circle cx="252.3" cy="298.6" r="0.91"/><circle cx="216.3" cy="306.1" r="0.66"/><circle cx="157.7" cy="327.7" r="0.91"/><circle cx="254.5" cy="294.3" r="0.54"/><circle cx="225.3" cy="302.5" r="0.71"/><circle cx="368.1" cy="295.6" r="0.53"/><circle cx="421.3" cy="303.3" r="0.60"/><circle cx="243.0" cy="300.2" r="0.55"/><circle cx="300.8" cy="289.1" r="0.88"/><circle cx="359.1" cy="298.6" r="0.83"/><circle cx="446.7" cy="309.9" r="0.72"/><circle cx="471.2" cy="313.6" r="0.98"/><circle cx="433.0" cy="308.6" r="0.63"/><circle cx="469.2" cy="312.1" r="0.57"/><circle cx="148.3" cy="325.3" r="0.63"/><circle cx="410.6" cy="302.9" r="0.53"/><circle cx="448.4" cy="310.0" r="0.51"/><circle cx="141.8" cy="326.7" r="0.68"/><circle cx="489.7" cy="316.5" r="0.81"/><circle cx="219.4" cy="308.3" r="0.68"/></g>
<g fill="#2a2a55" fill-opacity="0.8"><circle cx="484.9" cy="330.9" r="0.74"/><circle cx="317.4" cy="318.2" r="0.83"/><circle cx="383.1" cy="326.0" r="0.69"/><circle cx="477.6" cy="327.7" r="0.90"/><circle cx="464.9" cy="327.9" r="0.77"/><circle cx="449.8" cy="325.5" r="0.78"/><circle cx="488.6" cy="328.0" r="0.90"/><circle cx="451.0" cy="329.7" r="0.67"/><circle cx="264.3" cy="344.5" r="0.90"/><circle cx="375.2" cy="321.7" r="0.60"/><circle cx="435.0" cy="325.1" r="0.98"/><circle cx="420.4" cy="323.3" r="0.83"/><circle cx="348.5" cy="325.3" r="0.95"/><circle cx="397.1" cy="324.9" r="0.85"/><circle cx="488.7" cy="331.8" r="0.51"/><circle cx="348.8" cy="322.1" r="0.65"/><circle cx="420.6" cy="322.5" r="0.94"/><circle cx="400.5" cy="321.0" r="0.83"/><circle cx="333.4" cy="318.1" r="0.74"/><circle cx="278.5" cy="332.9" r="0.93"/><circle cx="454.9" cy="324.7" r="0.89"/><circle cx="240.4" cy="342.0" r="0.95"/><circle cx="430.4" cy="324.9" r="0.69"/><circle cx="357.6" cy="318.2" r="1.00"/><circle cx="252.0" cy="341.2" r="0.87"/><circle cx="360.3" cy="326.7" r="0.62"/><circle cx="543.5" cy="330.4" r="0.84"/><circle cx="515.2" cy="329.7" r="0.92"/><circle cx="485.8" cy="329.3" r="0.74"/><circle cx="457.3" cy="327.3" r="0.54"/><circle cx="470.2" cy="327.3" r="0.74"/><circle cx="482.0" cy="327.3" r="0.51"/><circle cx="273.9" cy="339.5" r="0.68"/><circle cx="315.7" cy="323.9" r="0.96"/><circle cx="315.3" cy="323.6" r="0.94"/><circle cx="427.8" cy="324.4" r="0.74"/><circle cx="385.7" cy="319.9" r="0.69"/><circle cx="331.3" cy="325.0" r="0.66"/><circle cx="442.7" cy="330.1" r="0.96"/><circle cx="353.5" cy="322.2" r="0.66"/><circle cx="360.5" cy="322.1" r="0.90"/><circle cx="530.0" cy="328.8" r="0.50"/><circle cx="376.5" cy="321.7" r="0.52"/><circle cx="478.7" cy="326.9" r="0.86"/><circle cx="349.0" cy="325.4" r="0.93"/><circle cx="254.6" cy="337.0" r="0.97"/><circle cx="428.2" cy="325.5" r="0.89"/><circle cx="491.3" cy="329.3" r="0.73"/><circle cx="266.5" cy="337.0" r="0.57"/><circle cx="432.1" cy="327.0" r="0.57"/><circle cx="432.8" cy="323.6" r="0.55"/><circle cx="438.4" cy="326.4" r="0.95"/><circle cx="433.2" cy="327.7" r="0.56"/><circle cx="497.3" cy="327.4" r="0.81"/><circle cx="522.1" cy="331.6" r="0.95"/><circle cx="377.4" cy="328.3" r="0.90"/><circle cx="278.2" cy="344.5" r="0.95"/><circle cx="373.9" cy="328.0" r="0.72"/><circle cx="322.1" cy="325.8" r="0.53"/><circle cx="487.1" cy="331.8" r="0.64"/><circle cx="531.0" cy="327.9" r="0.93"/><circle cx="323.1" cy="328.5" r="0.72"/><circle cx="525.5" cy="327.8" r="0.54"/><circle cx="492.2" cy="330.1" r="0.77"/><circle cx="245.3" cy="338.7" r="0.69"/><circle cx="251.4" cy="350.2" r="0.88"/><circle cx="534.2" cy="330.2" r="0.67"/><circle cx="259.4" cy="344.4" r="0.56"/><circle cx="407.3" cy="324.2" r="0.75"/><circle cx="258.7" cy="334.2" r="0.76"/><circle cx="244.6" cy="344.2" r="0.58"/><circle cx="323.7" cy="319.1" r="0.78"/><circle cx="357.3" cy="319.0" r="0.61"/><circle cx="412.7" cy="328.0" r="0.71"/><circle cx="286.4" cy="332.5" r="0.62"/><circle cx="415.3" cy="327.2" r="0.78"/><circle cx="294.3" cy="330.4" r="0.69"/><circle cx="373.9" cy="324.3" r="1.00"/><circle cx="408.6" cy="325.8" r="0.86"/><circle cx="438.2" cy="328.7" r="0.69"/><circle cx="445.0" cy="330.2" r="0.58"/><circle cx="432.0" cy="325.5" r="0.53"/><circle cx="247.6" cy="347.4" r="0.56"/><circle cx="459.0" cy="325.6" r="0.68"/><circle cx="245.1" cy="344.4" r="0.89"/><circle cx="306.1" cy="329.7" r="0.96"/><circle cx="327.5" cy="322.0" r="0.86"/><circle cx="507.2" cy="328.1" r="0.83"/><circle cx="272.8" cy="332.0" r="0.99"/><circle cx="250.8" cy="349.2" r="0.88"/><circle cx="447.9" cy="328.8" r="0.83"/><circle cx="325.4" cy="322.1" r="0.60"/><circle cx="505.7" cy="331.1" r="0.89"/><circle cx="302.4" cy="331.8" r="0.63"/><circle cx="484.0" cy="330.5" r="1.00"/><circle cx="458.1" cy="329.1" r="0.89"/><circle cx="264.5" cy="341.2" r="0.52"/><circle cx="350.6" cy="317.4" r="0.97"/><circle cx="243.8" cy="350.5" r="0.97"/><circle cx="372.2" cy="327.9" r="0.53"/><circle cx="278.9" cy="329.6" r="0.53"/><circle cx="235.8" cy="350.2" r="0.54"/><circle cx="421.1" cy="323.9" r="0.57"/><circle cx="367.1" cy="320.3" r="0.99"/><circle cx="355.9" cy="322.3" r="0.78"/><circle cx="432.5" cy="326.2" r="0.64"/><circle cx="278.1" cy="343.7" r="0.60"/><circle cx="376.3" cy="329.0" r="0.79"/><circle cx="533.6" cy="330.6" r="0.76"/><circle cx="272.8" cy="339.7" r="0.74"/><circle cx="506.5" cy="329.9" r="0.85"/><circle cx="490.7" cy="329.2" r="0.92"/><circle cx="518.3" cy="328.4" r="0.96"/><circle cx="509.0" cy="331.5" r="0.67"/><circle cx="314.3" cy="320.6" r="0.69"/><circle cx="504.3" cy="329.0" r="0.50"/><circle cx="331.1" cy="317.2" r="0.81"/><circle cx="477.0" cy="331.4" r="0.54"/><circle cx="354.8" cy="317.7" r="0.96"/><circle cx="498.6" cy="329.6" r="0.98"/><circle cx="398.9" cy="326.1" r="0.74"/><circle cx="349.7" cy="325.9" r="0.92"/><circle cx="421.4" cy="328.2" r="0.82"/><circle cx="486.3" cy="326.9" r="0.57"/><circle cx="269.5" cy="340.3" r="0.86"/><circle cx="283.9" cy="336.2" r="0.56"/><circle cx="451.6" cy="329.3" r="0.54"/><circle cx="543.7" cy="329.7" r="0.56"/><circle cx="345.6" cy="317.6" r="0.86"/><circle cx="523.8" cy="328.4" r="0.59"/><circle cx="433.1" cy="328.8" r="0.87"/><circle cx="379.2" cy="322.8" r="0.81"/><circle cx="378.5" cy="329.8" r="0.79"/><circle cx="466.2" cy="331.2" r="0.81"/><circle cx="522.2" cy="328.9" r="0.50"/><circle cx="513.0" cy="327.7" r="1.00"/><circle cx="378.6" cy="322.4" r="0.64"/><circle cx="462.2" cy="327.5" r="0.81"/><circle cx="267.1" cy="344.4" r="0.69"/><circle cx="497.3" cy="327.7" r="0.83"/><circle cx="382.7" cy="323.2" r="0.51"/><circle cx="402.5" cy="326.8" r="0.55"/><circle cx="375.4" cy="321.0" r="1.00"/><circle cx="540.4" cy="329.9" r="0.74"/><circle cx="257.2" cy="335.3" r="0.85"/><circle cx="485.3" cy="331.8" r="0.93"/><circle cx="372.9" cy="322.6" r="0.77"/><circle cx="344.0" cy="321.4" r="0.94"/><circle cx="377.7" cy="331.2" r="0.86"/><circle cx="249.4" cy="346.8" r="0.83"/><circle cx="430.9" cy="322.8" r="0.94"/><circle cx="391.0" cy="323.6" r="0.59"/><circle cx="246.2" cy="336.0" r="0.60"/><circle cx="330.8" cy="318.0" r="0.53"/><circle cx="464.1" cy="329.5" r="0.94"/><circle cx="303.6" cy="333.2" r="0.80"/><circle cx="263.4" cy="345.9" r="0.68"/><circle cx="293.3" cy="328.5" r="0.96"/><circle cx="304.5" cy="327.9" r="0.77"/><circle cx="348.1" cy="322.6" r="0.54"/></g>
<g fill="#2a2a55" fill-opacity="0.8"><circle cx="188.0" cy="328.1" r="0.76"/><circle cx="135.2" cy="357.0" r="0.65"/><circle cx="132.2" cy="356.1" r="0.51"/><circle cx="211.1" cy="316.4" r="0.54"/><circle cx="209.1" cy="374.8" r="0.55"/><circle cx="166.9" cy="361.5" r="0.88"/><circle cx="241.2" cy="335.4" r="0.89"/><circle cx="129.8" cy="370.7" r="0.62"/><circle cx="150.3" cy="333.1" r="0.62"/><circle cx="291.4" cy="306.7" r="0.73"/><circle cx="254.2" cy="330.6" r="0.72"/><circle cx="133.2" cy="335.8" r="0.58"/><circle cx="262.9" cy="333.6" r="0.63"/><circle cx="243.0" cy="340.0" r="0.62"/><circle cx="286.8" cy="352.4" r="0.60"/><circle cx="240.6" cy="346.7" r="0.85"/><circle cx="273.2" cy="319.2" r="0.89"/><circle cx="144.8" cy="349.9" r="0.80"/><circle cx="151.9" cy="353.6" r="0.52"/><circle cx="260.3" cy="364.1" r="0.73"/><circle cx="303.9" cy="315.1" r="0.78"/><circle cx="244.8" cy="350.8" r="0.68"/><circle cx="296.4" cy="369.3" r="0.69"/><circle cx="259.5" cy="301.7" r="0.78"/><circle cx="255.9" cy="385.2" r="0.83"/><circle cx="179.8" cy="345.2" r="0.77"/><circle cx="124.7" cy="353.7" r="0.57"/><circle cx="144.6" cy="331.0" r="0.81"/><circle cx="147.2" cy="340.6" r="0.66"/><circle cx="303.0" cy="296.6" r="0.68"/><circle cx="235.4" cy="378.1" r="0.83"/><circle cx="301.4" cy="312.8" r="0.67"/><circle cx="195.3" cy="379.0" r="0.88"/><circle cx="151.7" cy="336.1" r="0.59"/><circle cx="169.0" cy="352.6" r="0.74"/><circle cx="175.2" cy="321.1" r="0.67"/><circle cx="197.5" cy="356.1" r="0.88"/><circle cx="265.0" cy="340.9" r="0.75"/><circle cx="262.0" cy="300.5" r="0.86"/><circle cx="283.8" cy="368.9" r="0.82"/><circle cx="202.4" cy="343.4" r="0.54"/><circle cx="253.2" cy="303.5" r="0.53"/><circle cx="163.8" cy="333.4" r="0.64"/><circle cx="131.0" cy="334.3" r="0.56"/><circle cx="141.3" cy="347.4" r="0.51"/><circle cx="303.6" cy="339.0" r="0.56"/><circle cx="173.0" cy="343.5" r="0.65"/><circle cx="145.8" cy="372.7" r="0.90"/><circle cx="217.9" cy="347.3" r="0.53"/><circle cx="141.5" cy="346.3" r="0.61"/><circle cx="294.1" cy="304.6" r="0.51"/><circle cx="319.7" cy="325.6" r="0.56"/><circle cx="234.1" cy="305.4" r="0.71"/><circle cx="325.5" cy="345.7" r="0.78"/><circle cx="174.8" cy="344.5" r="0.57"/><circle cx="282.1" cy="339.5" r="0.81"/><circle cx="189.2" cy="332.8" r="0.82"/><circle cx="326.8" cy="344.5" r="0.82"/><circle cx="291.8" cy="354.0" r="0.59"/><circle cx="228.7" cy="334.6" r="0.51"/><circle cx="125.9" cy="347.1" r="0.60"/><circle cx="265.4" cy="380.3" r="0.68"/><circle cx="316.8" cy="357.1" r="0.88"/><circle cx="196.6" cy="331.3" r="0.59"/><circle cx="161.3" cy="336.3" r="0.75"/><circle cx="309.1" cy="352.8" r="0.69"/><circle cx="257.1" cy="367.8" r="0.53"/><circle cx="258.7" cy="377.3" r="0.81"/><circle cx="277.5" cy="335.6" r="0.57"/><circle cx="285.7" cy="321.0" r="0.82"/><circle cx="324.0" cy="316.3" r="0.66"/><circle cx="318.8" cy="338.8" r="0.57"/><circle cx="146.7" cy="335.5" r="0.86"/><circle cx="289.4" cy="304.1" r="0.83"/><circle cx="325.9" cy="332.6" r="0.64"/><circle cx="235.2" cy="313.9" r="0.51"/><circle cx="323.9" cy="332.6" r="0.71"/><circle cx="316.1" cy="319.9" r="0.85"/><circle cx="293.5" cy="308.9" r="0.60"/><circle cx="181.5" cy="335.3" r="0.73"/><circle cx="174.5" cy="347.9" r="0.55"/><circle cx="311.1" cy="316.0" r="0.68"/><circle cx="242.5" cy="379.3" r="0.67"/><circle cx="312.7" cy="325.9" r="0.71"/><circle cx="229.9" cy="306.1" r="0.68"/><circle cx="158.5" cy="325.0" r="0.82"/><circle cx="156.2" cy="352.7" r="0.79"/><circle cx="236.9" cy="330.2" r="0.71"/><circle cx="236.6" cy="369.5" r="0.54"/><circle cx="237.7" cy="323.4" r="0.61"/><circle cx="282.2" cy="337.3" r="0.72"/><circle cx="279.6" cy="374.0" r="0.68"/><circle cx="248.6" cy="343.6" r="0.70"/><circle cx="265.5" cy="335.2" r="0.71"/><circle cx="220.4" cy="383.8" r="0.78"/><circle cx="304.1" cy="364.8" r="0.60"/><circle cx="237.5" cy="383.0" r="0.84"/><circle cx="148.8" cy="333.6" r="0.68"/><circle cx="135.2" cy="343.3" r="0.53"/><circle cx="260.6" cy="365.8" r="0.86"/><circle cx="152.4" cy="366.3" r="0.76"/><circle cx="150.0" cy="375.3" r="0.89"/><circle cx="166.1" cy="381.5" r="0.66"/><circle cx="222.3" cy="387.8" r="0.83"/><circle cx="153.9" cy="350.3" r="0.71"/><circle cx="191.2" cy="330.6" r="0.63"/><circle cx="271.7" cy="295.3" r="0.72"/><circle cx="212.5" cy="312.0" r="0.63"/><circle cx="251.0" cy="343.7" r="0.53"/><circle cx="326.9" cy="340.5" r="0.89"/><circle cx="142.0" cy="342.2" r="0.52"/><circle cx="283.6" cy="316.0" r="0.55"/><circle cx="208.7" cy="381.2" r="0.83"/><circle cx="174.3" cy="330.6" r="0.87"/><circle cx="239.8" cy="361.9" r="0.54"/><circle cx="132.1" cy="364.1" r="0.67"/><circle cx="135.2" cy="375.6" r="0.75"/><circle cx="288.3" cy="299.0" r="0.84"/><circle cx="134.0" cy="372.0" r="0.68"/><circle cx="191.2" cy="355.7" r="0.87"/><circle cx="176.3" cy="328.9" r="0.71"/><circle cx="170.1" cy="328.9" r="0.56"/><circle cx="130.6" cy="343.1" r="0.62"/><circle cx="184.1" cy="370.0" r="0.62"/><circle cx="225.0" cy="320.9" r="0.64"/><circle cx="123.8" cy="346.9" r="0.51"/><circle cx="273.9" cy="342.6" r="0.58"/><circle cx="219.7" cy="383.3" r="0.54"/><circle cx="292.0" cy="327.9" r="0.70"/><circle cx="295.3" cy="323.7" r="0.70"/><circle cx="264.4" cy="382.7" r="0.64"/><circle cx="294.8" cy="350.1" r="0.75"/><circle cx="205.0" cy="339.1" r="0.52"/><circle cx="147.3" cy="331.1" r="0.80"/><circle cx="173.7" cy="331.6" r="0.53"/><circle cx="296.7" cy="363.0" r="0.77"/><circle cx="179.2" cy="335.8" r="0.62"/><circle cx="216.5" cy="321.7" r="0.68"/><circle cx="175.3" cy="382.9" r="0.89"/><circle cx="234.9" cy="323.6" r="0.89"/><circle cx="185.0" cy="342.6" r="0.50"/><circle cx="200.1" cy="349.2" r="0.70"/><circle cx="162.2" cy="354.2" r="0.50"/><circle cx="175.5" cy="326.5" r="0.66"/><circle cx="128.8" cy="336.3" r="0.62"/><circle cx="168.9" cy="358.9" r="0.71"/><circle cx="277.6" cy="351.6" r="0.79"/><circle cx="304.6" cy="320.8" r="0.63"/><circle cx="326.8" cy="300.6" r="0.79"/><circle cx="255.1" cy="301.4" r="0.83"/></g>
<g fill="#2a2a55" fill-opacity="0.8"><circle cx="372.1" cy="354.5" r="0.60"/><circle cx="482.1" cy="341.5" r="0.70"/><circle cx="549.8" cy="335.9" r="1.01"/><circle cx="425.6" cy="344.3" r="0.90"/><circle cx="364.2" cy="351.0" r="0.57"/><circle cx="373.9" cy="346.7" r="0.71"/><circle cx="413.8" cy="347.5" r="0.80"/><circle cx="346.2" cy="345.1" r="1.29"/><circle cx="334.5" cy="350.1" r="0.80"/><circle cx="472.0" cy="343.2" r="1.05"/><circle cx="434.4" cy="345.4" r="1.22"/><circle cx="453.8" cy="342.2" r="0.55"/><circle cx="537.6" cy="338.8" r="0.66"/><circle cx="537.6" cy="339.1" r="1.08"/><circle cx="522.6" cy="340.5" r="0.79"/><circle cx="522.0" cy="340.0" r="1.11"/><circle cx="342.5" cy="349.6" r="1.06"/><circle cx="538.5" cy="339.8" r="0.90"/><circle cx="365.5" cy="345.2" r="0.92"/><circle cx="437.3" cy="341.8" r="1.22"/><circle cx="436.7" cy="345.7" r="0.68"/><circle cx="376.1" cy="347.6" r="0.77"/><circle cx="381.4" cy="348.9" r="0.80"/><circle cx="511.9" cy="344.2" r="0.64"/><circle cx="411.1" cy="342.4" r="1.03"/><circle cx="544.2" cy="336.7" r="1.11"/><circle cx="389.0" cy="341.2" r="1.11"/><circle cx="398.6" cy="342.4" r="0.85"/><circle cx="373.3" cy="350.0" r="0.86"/><circle cx="416.1" cy="345.3" r="0.73"/><circle cx="341.9" cy="343.9" r="0.59"/><circle cx="439.8" cy="343.5" r="1.15"/><circle cx="436.1" cy="345.8" r="1.28"/><circle cx="334.5" cy="344.2" r="0.61"/><circle cx="408.9" cy="345.3" r="1.10"/><circle cx="400.8" cy="348.2" r="0.50"/><circle cx="512.2" cy="341.2" r="1.20"/><circle cx="327.6" cy="356.5" r="1.11"/><circle cx="547.8" cy="337.2" r="0.64"/><circle cx="543.1" cy="337.7" r="0.57"/><circle cx="459.2" cy="344.2" r="0.88"/><circle cx="355.5" cy="343.3" r="0.96"/><circle cx="424.1" cy="342.1" r="0.85"/><circle cx="486.9" cy="344.6" r="0.88"/><circle cx="410.6" cy="343.7" r="0.68"/><circle cx="365.4" cy="347.8" r="0.59"/><circle cx="486.8" cy="344.5" r="0.99"/><circle cx="325.2" cy="351.2" r="0.85"/><circle cx="341.5" cy="352.3" r="1.10"/><circle cx="435.6" cy="345.8" r="0.66"/><circle cx="372.8" cy="350.8" r="1.10"/><circle cx="468.9" cy="341.4" r="0.99"/><circle cx="529.0" cy="341.2" r="1.24"/><circle cx="545.8" cy="336.6" r="0.74"/><circle cx="445.9" cy="347.2" r="0.80"/><circle cx="536.5" cy="340.2" r="0.91"/><circle cx="463.8" cy="346.7" r="1.13"/><circle cx="388.0" cy="347.6" r="0.66"/><circle cx="405.1" cy="348.1" r="1.18"/><circle cx="391.8" cy="343.3" r="0.99"/><circle cx="513.8" cy="343.2" r="1.25"/><circle cx="487.4" cy="345.1" r="0.98"/><circle cx="403.3" cy="344.3" r="0.89"/><circle cx="441.7" cy="346.5" r="0.72"/><circle cx="335.8" cy="350.7" r="0.72"/><circle cx="416.5" cy="342.0" r="1.16"/><circle cx="383.0" cy="345.4" r="1.14"/><circle cx="436.0" cy="343.1" r="1.21"/><circle cx="414.7" cy="343.7" r="1.27"/><circle cx="501.7" cy="344.0" r="0.70"/><circle cx="507.1" cy="343.1" r="1.16"/><circle cx="404.6" cy="346.8" r="1.13"/><circle cx="409.2" cy="345.8" r="1.12"/><circle cx="548.4" cy="338.1" r="1.13"/><circle cx="351.5" cy="347.9" r="1.05"/><circle cx="340.0" cy="347.6" r="1.19"/><circle cx="528.2" cy="342.0" r="0.57"/><circle cx="459.6" cy="346.3" r="1.02"/><circle cx="393.6" cy="341.4" r="1.24"/><circle cx="517.6" cy="342.9" r="0.79"/></g>
<rect x="508" y="391.1" width="127.1" height="7.8" fill="#000"/>
<defs>
<linearGradient id="bodyC" x1="0" y1="0" x2="0" y2="1">
 <stop offset="0" stop-color="#c6baa2"/><stop offset="0.3" stop-color="#dcd0b8"/><stop offset="0.47" stop-color="#b09072"/><stop offset="0.53" stop-color="#a88a6c"/>
 <stop offset="0.66" stop-color="#d0c3aa"/><stop offset="1" stop-color="#d6cbb6"/></linearGradient>
<linearGradient id="headC" x1="0" y1="0" x2="0" y2="1">
 <stop offset="0" stop-color="#8a7a5e"/><stop offset="0.5" stop-color="#74604a"/><stop offset="1" stop-color="#8c7c66"/></linearGradient>
</defs>
<path d="M1244.0,106.0 C1247.5,100.3 1257.3,98.7 1265.0,95.0 C1272.7,91.3 1279.5,87.2 1290.0,84.0 C1300.5,80.8 1323.3,74.2 1328.0,76.0 C1332.7,77.8 1321.7,87.1 1318.0,95.0 C1314.3,102.9 1305.6,115.0 1305.6,123.3 C1305.6,131.6 1313.6,138.4 1318.0,145.0 C1322.4,151.6 1336.7,162.2 1332.0,163.0 C1327.3,163.8 1301.7,154.2 1290.0,150.0 C1278.3,145.8 1269.7,141.5 1262.0,138.0 C1254.3,134.5 1247.0,134.3 1244.0,129.0 C1241.0,123.7 1240.5,111.7 1244.0,106.0 Z" fill="url(#finY)" fill-opacity="0.75" stroke="none" stroke-width="0" filter="url(#b1)" />
<path d="M1246.0,108.0L1305.5,76.0 M1246.0,109.2L1308.0,81.0 M1246.0,110.4L1310.5,86.0 M1246.0,111.6L1313.0,91.0 M1246.0,112.8L1315.5,96.0 M1246.0,114.0L1318.0,101.0 M1246.0,115.2L1320.5,106.0 M1246.0,116.4L1323.0,111.0 M1246.0,117.6L1325.5,116.0 M1246.0,118.8L1328.0,121.0 M1246.0,120.0L1325.5,126.0 M1246.0,121.2L1323.0,131.0 M1246.0,122.4L1320.5,136.0 M1246.0,123.6L1318.0,141.0 M1246.0,124.8L1315.5,146.0 M1246.0,126.0L1313.0,151.0 M1246.0,127.2L1310.5,156.0 M1246.0,128.4L1308.0,161.0" stroke="#8a8aa0" stroke-width="0.5" stroke-opacity="0.5" fill="none"/>
<path d="M1058.0,80.0 C1057.2,77.3 1072.2,74.3 1080.0,72.0 C1087.8,69.7 1097.5,67.5 1105.0,66.0 C1112.5,64.5 1122.2,61.0 1125.0,63.0 C1127.8,65.0 1123.7,72.8 1122.0,78.0 C1120.3,83.2 1121.2,92.3 1115.0,94.0 C1108.8,95.7 1094.5,90.3 1085.0,88.0 C1075.5,85.7 1058.8,82.7 1058.0,80.0 Z" fill="url(#finY)" fill-opacity="0.7" stroke="none" stroke-width="0" filter="url(#b1)" />
<path d="M1060.0,80.0L1085.0,66.0 M1063.5,80.9L1088.0,65.0 M1067.0,81.8L1091.0,64.0 M1070.5,82.7L1094.0,66.0 M1074.0,83.6L1097.0,65.0 M1077.5,84.5L1100.0,64.0 M1081.0,85.4L1103.0,66.0 M1084.5,86.3L1106.0,65.0 M1088.0,87.2L1109.0,64.0 M1091.5,88.1L1112.0,66.0 M1095.0,89.0L1115.0,65.0 M1098.5,89.9L1118.0,64.0 M1102.0,90.8L1121.0,66.0 M1105.5,91.7L1124.0,65.0" stroke="#9a9ab0" stroke-width="0.5" stroke-opacity="0.45" fill="none"/>
<path d="M1072.0,152.0 C1074.5,149.5 1088.7,153.2 1100.0,153.0 C1111.3,152.8 1127.7,151.5 1140.0,151.0 C1152.3,150.5 1170.7,146.8 1174.0,150.0 C1177.3,153.2 1165.7,163.7 1160.0,170.0 C1154.3,176.3 1146.2,183.5 1140.0,188.0 C1133.8,192.5 1128.8,197.5 1123.0,197.0 C1117.2,196.5 1111.3,189.8 1105.0,185.0 C1098.7,180.2 1090.5,173.5 1085.0,168.0 C1079.5,162.5 1069.5,154.5 1072.0,152.0 Z" fill="url(#finY)" fill-opacity="0.8" stroke="none" stroke-width="0" filter="url(#b1)" />
<path d="M1074.0,152.0L1110.0,196.0 M1079.0,152.0L1113.8,193.4 M1084.0,152.0L1117.6,190.8 M1089.0,152.0L1121.4,188.2 M1094.0,152.0L1125.2,185.6 M1099.0,152.0L1129.0,183.0 M1104.0,152.0L1132.8,180.4 M1109.0,152.0L1136.6,177.8 M1114.0,152.0L1140.4,175.2 M1119.0,152.0L1144.2,172.6 M1124.0,152.0L1148.0,170.0 M1129.0,152.0L1151.8,167.4 M1134.0,152.0L1155.6,164.8 M1139.0,152.0L1159.4,162.2 M1144.0,152.0L1163.2,159.6 M1149.0,152.0L1167.0,157.0 M1154.0,152.0L1170.8,154.4 M1159.0,152.0L1174.6,151.8" stroke="#8a8aa0" stroke-width="0.5" stroke-opacity="0.5" fill="none"/>
<path d="M784.4,121.1 C785.1,118.1 786.9,113.3 790.0,110.0 C793.1,106.7 797.4,103.6 803.3,101.0 C809.2,98.4 816.3,96.1 825.6,94.4 C834.9,92.8 847.8,91.8 858.9,91.1 C870.0,90.4 881.1,91.3 892.2,90.0 C903.3,88.7 912.6,85.0 925.6,83.3 C938.6,81.6 955.2,80.7 970.0,80.0 C984.8,79.3 1001.1,78.7 1014.4,78.9 C1027.7,79.1 1036.7,79.4 1050.0,81.1 C1063.3,82.8 1079.6,86.1 1094.4,88.9 C1109.2,91.7 1124.1,95.6 1138.9,97.8 C1153.7,100.0 1168.5,101.1 1183.3,102.2 C1198.1,103.3 1217.4,103.5 1227.8,104.4 C1238.2,105.3 1242.6,103.6 1245.6,107.5 C1248.6,111.4 1246.7,123.3 1245.6,127.8 C1244.5,132.3 1245.6,132.4 1238.9,134.4 C1232.2,136.4 1218.6,138.5 1205.6,140.0 C1192.6,141.5 1175.8,142.2 1161.0,143.3 C1146.2,144.4 1131.5,145.6 1116.7,146.7 C1101.9,147.8 1082.4,147.6 1072.0,150.0 C1061.6,152.4 1060.3,157.7 1054.4,161.0 C1048.5,164.3 1043.4,167.4 1036.7,170.0 C1030.0,172.6 1021.8,174.5 1014.4,176.7 C1007.0,178.9 1003.3,181.6 992.2,183.3 C981.1,185.0 962.6,187.1 947.8,186.7 C933.0,186.3 916.3,183.1 903.3,181.1 C890.3,179.1 881.1,177.0 870.0,174.4 C858.9,171.8 846.0,168.6 836.7,165.6 C827.4,162.6 821.1,160.4 814.4,156.7 C807.7,153.0 801.5,148.1 796.7,143.3 C791.9,138.5 787.7,131.5 785.6,127.8 C783.5,124.1 783.7,124.1 784.4,121.1 Z" fill="url(#bodyC)" fill-opacity="1.0" stroke="#3a3a5a" stroke-width="1.3" />
<path d="M784.4,121.1 C785.1,118.1 786.9,113.3 790.0,110.0 C793.1,106.7 797.4,103.6 803.3,101.0 C809.2,98.4 816.3,96.1 825.6,94.4 C834.9,92.8 847.8,91.8 858.9,91.1 C870.0,90.4 882.9,90.5 892.2,90.0 C901.6,89.5 907.0,84.7 915.0,88.0 C923.0,91.3 935.8,99.7 940.0,110.0 C944.2,120.3 945.0,138.2 940.0,150.0 C935.0,161.8 921.7,177.0 910.0,181.1 C898.3,185.2 882.2,177.0 870.0,174.4 C857.8,171.8 846.0,168.6 836.7,165.6 C827.4,162.6 821.1,160.4 814.4,156.7 C807.7,153.0 801.5,148.1 796.7,143.3 C791.9,138.5 787.7,131.5 785.6,127.8 C783.5,124.1 783.7,124.1 784.4,121.1 Z" fill="url(#headC)" fill-opacity="0.9" stroke="none" stroke-width="0" filter="url(#b2)" />
<path d="M885.0,118.0 C891.8,111.8 902.5,110.2 915.0,108.0 C927.5,105.8 944.2,105.2 960.0,105.0 C975.8,104.8 995.8,105.3 1010.0,107.0 C1024.2,108.7 1037.0,110.3 1045.0,115.0 C1053.0,119.7 1056.5,127.5 1058.0,135.0 C1059.5,142.5 1057.5,154.2 1054.0,160.0 C1050.5,165.8 1043.3,167.2 1036.7,170.0 C1030.1,172.8 1021.8,174.5 1014.4,176.7 C1007.0,178.9 1003.3,181.6 992.2,183.3 C981.1,185.0 962.6,187.1 947.8,186.7 C933.0,186.3 914.3,183.9 903.3,181.1 C892.3,178.3 886.9,176.0 882.0,170.0 C877.1,164.0 873.5,153.7 874.0,145.0 C874.5,136.3 878.2,124.2 885.0,118.0 Z" fill="#3a2a22" fill-opacity="0.92" stroke="none" stroke-width="0" filter="url(#b2)" />
<path d="M912.0,120.0 C917.8,116.3 935.3,113.2 950.0,112.0 C964.7,110.8 985.8,111.8 1000.0,113.0 C1014.2,114.2 1027.8,116.3 1035.0,119.0 C1042.2,121.7 1043.8,125.7 1043.0,129.0 C1042.2,132.3 1038.8,137.0 1030.0,139.0 C1021.2,141.0 1003.3,141.0 990.0,141.0 C976.7,141.0 962.5,140.2 950.0,139.0 C937.5,137.8 921.3,137.2 915.0,134.0 C908.7,130.8 906.2,123.7 912.0,120.0 Z" fill="#2d2a32" fill-opacity="0.75" stroke="none" stroke-width="0" filter="url(#b2)" />
<ellipse cx="985" cy="128" rx="40" ry="7" fill="#8a8488" fill-opacity="0.45" filter="url(#b2)"/>
<g fill="#d8d4cc" fill-opacity="0.5"><circle cx="987.6" cy="129.5" r="0.72"/><circle cx="972.8" cy="136.1" r="0.51"/><circle cx="967.6" cy="120.7" r="0.56"/><circle cx="953.9" cy="123.9" r="0.61"/><circle cx="1009.9" cy="132.5" r="0.34"/><circle cx="989.7" cy="134.1" r="0.70"/><circle cx="1024.0" cy="129.6" r="0.62"/><circle cx="966.3" cy="124.6" r="0.40"/><circle cx="988.2" cy="129.9" r="0.59"/><circle cx="975.3" cy="126.6" r="0.42"/><circle cx="1013.4" cy="129.5" r="0.67"/><circle cx="1013.0" cy="124.1" r="0.36"/><circle cx="965.5" cy="135.3" r="0.70"/><circle cx="976.5" cy="133.0" r="0.47"/><circle cx="977.8" cy="127.3" r="0.37"/><circle cx="964.8" cy="123.2" r="0.45"/><circle cx="946.2" cy="124.4" r="0.35"/><circle cx="987.2" cy="126.3" r="0.41"/><circle cx="1024.9" cy="124.6" r="0.57"/><circle cx="1020.5" cy="132.7" r="0.78"/><circle cx="994.8" cy="134.7" r="0.33"/><circle cx="1006.1" cy="125.0" r="0.46"/><circle cx="1009.3" cy="132.4" r="0.47"/><circle cx="972.7" cy="124.0" r="0.77"/><circle cx="995.3" cy="123.7" r="0.57"/><circle cx="945.2" cy="123.9" r="0.55"/><circle cx="989.3" cy="132.7" r="0.43"/><circle cx="953.3" cy="127.4" r="0.60"/><circle cx="1011.4" cy="123.8" r="0.68"/><circle cx="1003.4" cy="134.4" r="0.67"/><circle cx="1017.5" cy="129.9" r="0.57"/><circle cx="981.6" cy="126.3" r="0.53"/><circle cx="984.4" cy="126.1" r="0.37"/><circle cx="975.8" cy="136.0" r="0.45"/><circle cx="980.8" cy="122.9" r="0.74"/><circle cx="1026.0" cy="124.6" r="0.63"/><circle cx="1007.8" cy="130.2" r="0.36"/><circle cx="961.2" cy="132.0" r="0.62"/><circle cx="1000.4" cy="124.1" r="0.74"/><circle cx="1009.9" cy="127.7" r="0.73"/><circle cx="967.2" cy="128.6" r="0.56"/><circle cx="970.7" cy="133.0" r="0.45"/><circle cx="1001.4" cy="119.6" r="0.45"/><circle cx="955.4" cy="128.1" r="0.32"/><circle cx="1017.8" cy="129.8" r="0.73"/><circle cx="1024.9" cy="129.2" r="0.72"/><circle cx="979.1" cy="130.0" r="0.38"/><circle cx="980.1" cy="120.7" r="0.53"/><circle cx="1029.0" cy="128.6" r="0.64"/><circle cx="976.6" cy="133.0" r="0.46"/><circle cx="949.9" cy="127.3" r="0.39"/><circle cx="960.2" cy="122.6" r="0.65"/><circle cx="1001.3" cy="123.0" r="0.64"/><circle cx="961.1" cy="128.2" r="0.49"/><circle cx="1016.9" cy="126.9" r="0.38"/><circle cx="1017.4" cy="129.5" r="0.43"/><circle cx="1004.2" cy="135.1" r="0.67"/><circle cx="1011.4" cy="125.4" r="0.42"/><circle cx="960.9" cy="125.6" r="0.70"/><circle cx="990.5" cy="122.1" r="0.71"/><circle cx="1000.3" cy="120.1" r="0.54"/><circle cx="1003.9" cy="123.9" r="0.47"/><circle cx="962.7" cy="121.2" r="0.54"/><circle cx="980.1" cy="123.9" r="0.35"/><circle cx="951.2" cy="132.6" r="0.59"/><circle cx="1012.2" cy="121.0" r="0.78"/><circle cx="1002.0" cy="129.4" r="0.71"/><circle cx="946.6" cy="130.0" r="0.45"/><circle cx="964.8" cy="134.2" r="0.33"/><circle cx="983.3" cy="136.6" r="0.57"/><circle cx="995.9" cy="128.3" r="0.60"/><circle cx="975.9" cy="123.7" r="0.45"/><circle cx="1015.5" cy="124.8" r="0.65"/><circle cx="998.3" cy="128.7" r="0.35"/><circle cx="946.6" cy="124.4" r="0.54"/><circle cx="984.1" cy="119.2" r="0.59"/><circle cx="971.9" cy="126.1" r="0.34"/><circle cx="1010.0" cy="133.4" r="0.67"/><circle cx="1026.0" cy="130.1" r="0.77"/><circle cx="976.7" cy="133.3" r="0.36"/><circle cx="947.3" cy="131.3" r="0.64"/><circle cx="972.1" cy="128.6" r="0.61"/><circle cx="981.8" cy="123.9" r="0.78"/><circle cx="956.8" cy="128.5" r="0.41"/><circle cx="978.2" cy="122.6" r="0.41"/><circle cx="1006.9" cy="132.4" r="0.63"/><circle cx="987.2" cy="134.8" r="0.64"/><circle cx="1009.9" cy="123.5" r="0.77"/><circle cx="1002.4" cy="121.2" r="0.30"/><circle cx="972.9" cy="130.8" r="0.47"/><circle cx="973.9" cy="132.6" r="0.42"/><circle cx="943.5" cy="126.7" r="0.48"/><circle cx="998.6" cy="120.9" r="0.73"/><circle cx="986.3" cy="122.7" r="0.32"/><circle cx="1000.9" cy="136.0" r="0.45"/><circle cx="1013.8" cy="128.3" r="0.65"/><circle cx="969.3" cy="127.9" r="0.41"/><circle cx="1011.4" cy="123.6" r="0.72"/><circle cx="1005.7" cy="123.0" r="0.35"/><circle cx="1001.1" cy="125.2" r="0.61"/><circle cx="1018.4" cy="124.2" r="0.37"/><circle cx="992.0" cy="131.6" r="0.58"/><circle cx="942.0" cy="127.3" r="0.61"/><circle cx="1022.6" cy="124.0" r="0.47"/><circle cx="972.9" cy="132.0" r="0.44"/><circle cx="1009.9" cy="128.9" r="0.61"/><circle cx="982.5" cy="127.1" r="0.50"/><circle cx="1007.3" cy="132.9" r="0.74"/><circle cx="985.5" cy="119.0" r="0.63"/><circle cx="1012.2" cy="123.2" r="0.55"/><circle cx="962.5" cy="128.3" r="0.45"/><circle cx="969.8" cy="130.3" r="0.67"/><circle cx="1028.0" cy="125.4" r="0.51"/><circle cx="978.1" cy="124.6" r="0.55"/><circle cx="1027.2" cy="126.1" r="0.46"/><circle cx="956.0" cy="129.6" r="0.47"/><circle cx="946.4" cy="124.3" r="0.70"/><circle cx="1002.3" cy="130.1" r="0.46"/><circle cx="1015.8" cy="127.4" r="0.46"/><circle cx="964.0" cy="126.1" r="0.51"/></g>
<g fill="#15121a" fill-opacity="0.6"><circle cx="980.8" cy="132.0" r="0.75"/><circle cx="1018.8" cy="119.0" r="0.88"/><circle cx="983.0" cy="131.9" r="0.75"/><circle cx="1026.5" cy="118.7" r="0.52"/><circle cx="1001.1" cy="127.4" r="0.75"/><circle cx="958.7" cy="137.7" r="0.31"/><circle cx="1001.6" cy="121.5" r="0.32"/><circle cx="996.0" cy="112.4" r="0.44"/><circle cx="954.0" cy="115.4" r="0.40"/><circle cx="980.5" cy="134.0" r="0.88"/><circle cx="974.4" cy="122.1" r="0.53"/><circle cx="946.8" cy="127.7" r="0.88"/><circle cx="975.4" cy="132.2" r="0.83"/><circle cx="1014.6" cy="129.8" r="0.63"/><circle cx="926.7" cy="121.6" r="0.81"/><circle cx="968.1" cy="130.1" r="0.46"/><circle cx="985.0" cy="117.1" r="0.77"/><circle cx="994.8" cy="113.6" r="0.87"/><circle cx="936.1" cy="114.6" r="0.84"/><circle cx="970.9" cy="134.2" r="0.40"/><circle cx="1005.3" cy="119.2" r="0.57"/><circle cx="962.5" cy="112.5" r="0.53"/><circle cx="977.7" cy="128.3" r="0.62"/><circle cx="935.4" cy="128.0" r="0.47"/><circle cx="1008.2" cy="113.4" r="0.64"/><circle cx="957.1" cy="123.9" r="0.71"/><circle cx="1021.1" cy="129.2" r="0.36"/><circle cx="998.6" cy="133.7" r="0.52"/><circle cx="969.7" cy="117.8" r="0.79"/><circle cx="951.6" cy="118.0" r="0.90"/><circle cx="964.5" cy="124.0" r="0.72"/><circle cx="936.5" cy="133.7" r="0.71"/><circle cx="974.2" cy="133.4" r="0.83"/><circle cx="977.6" cy="132.9" r="0.71"/><circle cx="944.2" cy="115.1" r="0.54"/><circle cx="946.0" cy="117.4" r="0.63"/><circle cx="975.3" cy="122.1" r="0.76"/><circle cx="932.7" cy="123.4" r="0.57"/><circle cx="988.3" cy="135.3" r="0.65"/><circle cx="958.0" cy="122.8" r="0.64"/><circle cx="941.5" cy="133.3" r="0.52"/><circle cx="958.9" cy="126.3" r="0.33"/><circle cx="929.5" cy="121.9" r="0.76"/><circle cx="971.9" cy="128.3" r="0.81"/><circle cx="1016.1" cy="123.0" r="0.51"/><circle cx="931.6" cy="124.0" r="0.37"/><circle cx="1004.7" cy="123.8" r="0.37"/><circle cx="985.3" cy="113.5" r="0.51"/><circle cx="949.5" cy="132.3" r="0.66"/><circle cx="940.7" cy="120.4" r="0.57"/><circle cx="1014.8" cy="120.8" r="0.75"/><circle cx="1008.3" cy="121.1" r="0.33"/><circle cx="939.1" cy="122.9" r="0.35"/><circle cx="924.0" cy="120.9" r="0.49"/><circle cx="948.2" cy="116.5" r="0.56"/><circle cx="923.5" cy="124.2" r="0.41"/><circle cx="974.3" cy="115.1" r="0.82"/><circle cx="975.5" cy="129.1" r="0.43"/><circle cx="975.3" cy="111.0" r="0.41"/><circle cx="1026.4" cy="119.2" r="0.41"/><circle cx="1012.3" cy="119.0" r="0.63"/><circle cx="977.8" cy="124.9" r="0.33"/><circle cx="997.2" cy="120.2" r="0.82"/><circle cx="1031.3" cy="121.4" r="0.82"/><circle cx="950.1" cy="136.4" r="0.82"/><circle cx="940.8" cy="116.9" r="0.82"/><circle cx="935.5" cy="118.9" r="0.57"/><circle cx="931.5" cy="116.7" r="0.89"/><circle cx="972.0" cy="124.0" r="0.48"/><circle cx="973.0" cy="114.8" r="0.74"/><circle cx="955.8" cy="136.5" r="0.38"/><circle cx="984.1" cy="132.5" r="0.67"/><circle cx="999.5" cy="113.1" r="0.86"/><circle cx="975.2" cy="121.2" r="0.49"/><circle cx="938.5" cy="118.0" r="0.77"/><circle cx="930.9" cy="118.1" r="0.65"/><circle cx="930.7" cy="132.9" r="0.30"/><circle cx="970.5" cy="115.5" r="0.33"/><circle cx="993.9" cy="126.0" r="0.59"/><circle cx="954.5" cy="121.3" r="0.36"/><circle cx="918.4" cy="124.7" r="0.71"/><circle cx="945.8" cy="125.3" r="0.60"/><circle cx="962.3" cy="117.2" r="0.63"/><circle cx="956.5" cy="123.3" r="0.77"/><circle cx="987.2" cy="133.1" r="0.76"/><circle cx="987.2" cy="116.3" r="0.82"/><circle cx="975.8" cy="134.0" r="0.35"/><circle cx="992.8" cy="127.4" r="0.80"/><circle cx="1002.4" cy="133.7" r="0.63"/><circle cx="1026.7" cy="130.6" r="0.40"/><circle cx="941.1" cy="119.5" r="0.78"/><circle cx="988.6" cy="126.5" r="0.45"/><circle cx="978.9" cy="134.5" r="0.70"/><circle cx="971.2" cy="132.6" r="0.47"/><circle cx="926.9" cy="132.2" r="0.35"/><circle cx="976.6" cy="112.3" r="0.50"/><circle cx="934.1" cy="125.7" r="0.56"/><circle cx="982.0" cy="130.4" r="0.39"/><circle cx="987.8" cy="131.3" r="0.81"/><circle cx="946.9" cy="114.9" r="0.53"/><circle cx="984.6" cy="128.2" r="0.70"/><circle cx="1015.5" cy="116.4" r="0.82"/><circle cx="934.6" cy="122.4" r="0.58"/><circle cx="1033.0" cy="125.7" r="0.31"/><circle cx="937.4" cy="125.2" r="0.43"/><circle cx="928.8" cy="127.9" r="0.85"/><circle cx="965.8" cy="118.1" r="0.82"/><circle cx="999.2" cy="126.5" r="0.36"/><circle cx="990.8" cy="134.4" r="0.79"/><circle cx="1004.4" cy="119.6" r="0.35"/><circle cx="991.3" cy="126.5" r="0.76"/><circle cx="982.7" cy="115.7" r="0.52"/><circle cx="923.4" cy="118.1" r="0.57"/><circle cx="980.4" cy="138.6" r="0.39"/><circle cx="972.1" cy="115.4" r="0.74"/><circle cx="986.4" cy="129.8" r="0.71"/><circle cx="981.8" cy="129.5" r="0.61"/><circle cx="953.7" cy="122.1" r="0.61"/><circle cx="969.0" cy="116.3" r="0.57"/><circle cx="937.1" cy="122.0" r="0.75"/><circle cx="928.4" cy="123.7" r="0.85"/><circle cx="1004.9" cy="112.9" r="0.38"/><circle cx="971.5" cy="127.7" r="0.36"/><circle cx="1021.3" cy="126.4" r="0.62"/><circle cx="1025.2" cy="121.1" r="0.81"/><circle cx="1009.8" cy="123.4" r="0.64"/><circle cx="974.3" cy="114.6" r="0.87"/><circle cx="983.8" cy="137.1" r="0.30"/><circle cx="1008.1" cy="128.4" r="0.66"/><circle cx="934.2" cy="130.6" r="0.60"/><circle cx="944.4" cy="118.1" r="0.34"/><circle cx="975.9" cy="138.1" r="0.85"/><circle cx="997.1" cy="118.8" r="0.47"/><circle cx="1002.1" cy="118.2" r="0.76"/><circle cx="933.5" cy="119.6" r="0.55"/><circle cx="925.3" cy="118.9" r="0.61"/><circle cx="968.9" cy="119.9" r="0.43"/><circle cx="1031.3" cy="120.6" r="0.84"/><circle cx="967.0" cy="120.3" r="0.41"/><circle cx="974.5" cy="137.7" r="0.86"/><circle cx="930.8" cy="134.4" r="0.62"/><circle cx="1021.4" cy="125.3" r="0.73"/><circle cx="960.0" cy="124.9" r="0.51"/><circle cx="1015.0" cy="116.0" r="0.76"/><circle cx="983.1" cy="137.5" r="0.66"/><circle cx="934.2" cy="134.0" r="0.81"/><circle cx="1020.0" cy="121.0" r="0.64"/><circle cx="980.5" cy="125.1" r="0.80"/><circle cx="917.1" cy="124.1" r="0.89"/><circle cx="941.1" cy="124.8" r="0.56"/><circle cx="963.9" cy="124.0" r="0.63"/><circle cx="952.1" cy="118.8" r="0.82"/><circle cx="1008.2" cy="136.4" r="0.52"/><circle cx="927.4" cy="121.6" r="0.67"/><circle cx="918.3" cy="124.7" r="0.70"/><circle cx="976.5" cy="115.7" r="0.89"/><circle cx="938.7" cy="123.2" r="0.30"/><circle cx="1002.1" cy="136.5" r="0.73"/><circle cx="950.8" cy="134.8" r="0.52"/><circle cx="977.7" cy="127.8" r="0.86"/></g>
<path d="M900.0,96.0 C910.0,95.0 940.0,91.3 960.0,90.0 C980.0,88.7 1001.7,87.7 1020.0,88.0 C1038.3,88.3 1051.7,89.3 1070.0,92.0 C1088.3,94.7 1111.7,100.7 1130.0,104.0 C1148.3,107.3 1161.7,109.8 1180.0,112.0 C1198.3,114.2 1230.0,116.2 1240.0,117.0 " fill="none" stroke="#9a7858" stroke-width="6" stroke-opacity="0.55" stroke-linecap="round" filter="url(#b1)" />
<ellipse cx="833" cy="126" rx="30" ry="27" fill="#3a3a48" fill-opacity="0.6" filter="url(#b2)"/>
<circle cx="833.3" cy="128.9" r="21.7" fill="url(#eyeA)"/>
<ellipse cx="1057" cy="155" rx="5" ry="5" fill="#151515" fill-opacity="0.95"/>
<ellipse cx="1066" cy="168" rx="5" ry="5.5" fill="#151515" fill-opacity="0.95"/>
<g fill="#1e1e30" fill-opacity="0.8"><circle cx="805.4" cy="103.2" r="0.70"/><circle cx="1100.9" cy="94.0" r="0.56"/><circle cx="902.0" cy="113.1" r="0.57"/><circle cx="1125.9" cy="107.3" r="0.57"/><circle cx="1035.7" cy="95.3" r="0.71"/><circle cx="1238.4" cy="107.7" r="0.51"/><circle cx="1213.5" cy="109.0" r="0.60"/><circle cx="945.3" cy="96.5" r="0.98"/><circle cx="892.5" cy="98.1" r="0.79"/><circle cx="1040.8" cy="109.8" r="0.92"/><circle cx="956.4" cy="90.2" r="0.92"/><circle cx="1235.2" cy="106.6" r="0.87"/><circle cx="1182.1" cy="111.4" r="0.61"/><circle cx="1150.5" cy="110.7" r="0.60"/><circle cx="1082.0" cy="92.5" r="0.52"/><circle cx="947.8" cy="95.3" r="0.70"/><circle cx="1084.6" cy="105.5" r="0.98"/><circle cx="1229.6" cy="115.6" r="0.89"/><circle cx="934.8" cy="90.6" r="0.81"/><circle cx="1040.2" cy="101.8" r="0.55"/><circle cx="884.8" cy="118.5" r="0.80"/><circle cx="1106.0" cy="94.1" r="0.70"/><circle cx="1200.4" cy="111.8" r="1.00"/><circle cx="886.6" cy="105.1" r="0.90"/><circle cx="995.7" cy="108.2" r="0.78"/><circle cx="851.9" cy="95.9" r="0.99"/><circle cx="852.5" cy="98.3" r="0.67"/><circle cx="1113.9" cy="109.1" r="0.74"/><circle cx="1019.2" cy="106.1" r="0.64"/><circle cx="963.9" cy="103.8" r="0.82"/><circle cx="816.8" cy="100.5" r="0.57"/><circle cx="1119.1" cy="106.9" r="0.99"/><circle cx="1137.7" cy="102.5" r="0.88"/><circle cx="1233.4" cy="109.4" r="0.51"/><circle cx="965.1" cy="92.3" r="0.59"/><circle cx="819.8" cy="99.9" r="0.93"/><circle cx="822.0" cy="109.8" r="0.60"/><circle cx="885.1" cy="115.6" r="0.65"/><circle cx="880.9" cy="105.0" r="0.85"/><circle cx="1030.7" cy="107.8" r="0.70"/><circle cx="1030.6" cy="103.5" r="0.73"/><circle cx="1115.5" cy="102.5" r="0.57"/><circle cx="854.3" cy="113.5" r="0.87"/><circle cx="1214.8" cy="112.4" r="0.79"/><circle cx="873.1" cy="116.1" r="0.56"/><circle cx="986.9" cy="86.5" r="0.69"/><circle cx="935.2" cy="99.0" r="0.86"/><circle cx="1038.3" cy="89.3" r="0.89"/><circle cx="1123.4" cy="109.8" r="0.52"/><circle cx="1070.5" cy="105.6" r="0.63"/><circle cx="888.9" cy="115.5" r="0.68"/><circle cx="976.6" cy="110.2" r="0.69"/><circle cx="887.3" cy="98.1" r="0.67"/><circle cx="1107.1" cy="99.4" r="0.89"/><circle cx="829.0" cy="101.1" r="0.81"/><circle cx="1011.0" cy="97.2" r="0.97"/><circle cx="922.0" cy="92.0" r="0.52"/><circle cx="1012.3" cy="90.6" r="0.74"/><circle cx="802.5" cy="102.5" r="0.69"/><circle cx="1133.3" cy="102.5" r="0.96"/><circle cx="1054.9" cy="94.0" r="0.89"/><circle cx="902.6" cy="108.4" r="0.92"/><circle cx="1038.0" cy="91.5" r="0.55"/><circle cx="1052.6" cy="88.1" r="0.69"/><circle cx="1038.7" cy="109.7" r="0.84"/><circle cx="1028.5" cy="107.9" r="0.65"/><circle cx="970.6" cy="105.5" r="0.78"/><circle cx="897.5" cy="103.1" r="0.91"/><circle cx="906.6" cy="111.0" r="0.52"/><circle cx="1220.0" cy="112.3" r="0.66"/><circle cx="1232.6" cy="113.8" r="0.53"/><circle cx="909.2" cy="103.9" r="1.00"/><circle cx="861.9" cy="93.9" r="0.66"/><circle cx="819.7" cy="105.9" r="0.77"/><circle cx="993.8" cy="86.3" r="0.51"/><circle cx="1153.3" cy="106.6" r="0.74"/><circle cx="1010.3" cy="103.4" r="0.95"/><circle cx="1163.9" cy="111.4" r="0.67"/><circle cx="874.3" cy="94.8" r="0.93"/><circle cx="825.0" cy="108.4" r="0.95"/><circle cx="941.8" cy="97.5" r="0.71"/><circle cx="1215.6" cy="112.3" r="0.92"/><circle cx="817.1" cy="112.8" r="0.73"/><circle cx="976.6" cy="110.1" r="0.87"/><circle cx="1200.6" cy="112.9" r="0.96"/><circle cx="988.4" cy="100.7" r="0.89"/><circle cx="999.6" cy="85.9" r="0.79"/><circle cx="1183.3" cy="114.3" r="0.56"/><circle cx="967.7" cy="90.2" r="0.67"/><circle cx="1222.2" cy="109.4" r="0.66"/><circle cx="919.9" cy="100.8" r="0.83"/><circle cx="950.7" cy="90.0" r="0.61"/><circle cx="914.4" cy="116.5" r="0.58"/><circle cx="1131.8" cy="99.1" r="0.89"/><circle cx="917.0" cy="112.1" r="0.72"/><circle cx="834.4" cy="97.2" r="0.90"/><circle cx="1038.5" cy="96.4" r="0.68"/><circle cx="1104.2" cy="101.0" r="0.53"/><circle cx="1064.4" cy="92.4" r="0.92"/><circle cx="1041.6" cy="104.5" r="0.56"/><circle cx="1111.1" cy="104.4" r="0.93"/><circle cx="1189.0" cy="110.3" r="0.80"/><circle cx="1137.5" cy="102.6" r="0.77"/><circle cx="1146.2" cy="108.4" r="0.77"/><circle cx="1176.6" cy="115.4" r="0.63"/><circle cx="832.9" cy="109.3" r="0.57"/><circle cx="1226.6" cy="110.0" r="0.77"/><circle cx="1159.6" cy="113.2" r="0.57"/><circle cx="999.5" cy="87.4" r="0.73"/><circle cx="858.6" cy="116.0" r="0.68"/><circle cx="971.3" cy="113.1" r="0.91"/><circle cx="947.8" cy="101.1" r="0.83"/><circle cx="882.6" cy="95.9" r="0.93"/><circle cx="871.3" cy="112.0" r="0.87"/><circle cx="1060.3" cy="92.9" r="0.93"/><circle cx="1146.1" cy="100.5" r="0.95"/><circle cx="1080.1" cy="93.7" r="0.58"/><circle cx="843.1" cy="114.1" r="0.92"/><circle cx="953.0" cy="89.6" r="0.54"/><circle cx="982.2" cy="92.0" r="0.53"/><circle cx="931.0" cy="112.5" r="0.53"/><circle cx="977.7" cy="99.7" r="0.58"/><circle cx="816.0" cy="99.9" r="0.57"/><circle cx="1228.8" cy="114.2" r="0.85"/><circle cx="1195.8" cy="107.6" r="0.62"/><circle cx="1182.7" cy="110.8" r="0.96"/><circle cx="958.0" cy="97.3" r="0.86"/><circle cx="1188.3" cy="105.3" r="0.63"/><circle cx="806.0" cy="110.5" r="0.96"/><circle cx="1049.9" cy="86.8" r="0.85"/><circle cx="1085.9" cy="90.8" r="0.96"/><circle cx="1090.4" cy="99.2" r="0.67"/><circle cx="870.6" cy="105.3" r="0.68"/><circle cx="902.5" cy="109.6" r="0.83"/><circle cx="1219.9" cy="115.4" r="0.73"/><circle cx="1115.1" cy="100.8" r="0.72"/><circle cx="1049.5" cy="109.4" r="0.52"/><circle cx="1003.7" cy="92.4" r="0.90"/><circle cx="1218.2" cy="109.9" r="0.54"/><circle cx="1061.5" cy="98.8" r="0.84"/><circle cx="1141.7" cy="106.2" r="0.77"/><circle cx="1137.6" cy="98.9" r="0.62"/><circle cx="1102.6" cy="110.1" r="0.97"/><circle cx="924.0" cy="117.7" r="0.64"/><circle cx="999.2" cy="86.7" r="0.80"/><circle cx="972.4" cy="105.7" r="0.98"/><circle cx="856.2" cy="110.2" r="0.80"/><circle cx="920.7" cy="87.4" r="0.97"/><circle cx="1105.9" cy="103.9" r="0.55"/><circle cx="1196.0" cy="108.6" r="0.73"/><circle cx="1044.8" cy="95.0" r="0.98"/><circle cx="1005.7" cy="103.5" r="0.89"/><circle cx="1210.5" cy="106.3" r="0.67"/><circle cx="1218.0" cy="111.4" r="0.69"/><circle cx="1187.8" cy="104.7" r="0.63"/><circle cx="830.4" cy="110.6" r="0.74"/><circle cx="934.0" cy="99.6" r="0.63"/><circle cx="1112.1" cy="107.2" r="0.69"/><circle cx="1182.2" cy="103.5" r="0.78"/><circle cx="867.5" cy="95.7" r="0.78"/><circle cx="838.3" cy="96.4" r="0.57"/><circle cx="965.7" cy="111.2" r="0.64"/><circle cx="853.8" cy="113.1" r="0.91"/><circle cx="1238.3" cy="107.3" r="0.58"/><circle cx="990.8" cy="115.6" r="0.77"/><circle cx="1188.8" cy="106.1" r="0.74"/><circle cx="1102.2" cy="95.9" r="0.76"/><circle cx="1163.0" cy="112.6" r="0.85"/><circle cx="1164.7" cy="115.2" r="0.80"/><circle cx="909.6" cy="95.4" r="0.53"/><circle cx="1204.3" cy="110.9" r="0.80"/><circle cx="1184.0" cy="112.0" r="0.70"/><circle cx="1057.7" cy="86.1" r="0.63"/><circle cx="951.1" cy="111.0" r="0.83"/><circle cx="1065.7" cy="94.4" r="0.68"/><circle cx="969.2" cy="83.9" r="0.68"/><circle cx="1200.1" cy="113.8" r="0.62"/><circle cx="1019.4" cy="104.7" r="0.60"/><circle cx="956.7" cy="103.4" r="0.59"/><circle cx="1200.2" cy="104.0" r="0.94"/><circle cx="1094.4" cy="97.9" r="0.64"/><circle cx="1182.1" cy="112.2" r="0.61"/><circle cx="939.7" cy="87.5" r="0.81"/><circle cx="986.4" cy="92.6" r="0.85"/><circle cx="911.8" cy="92.5" r="0.90"/><circle cx="1190.2" cy="113.6" r="0.78"/><circle cx="1115.6" cy="109.5" r="0.52"/><circle cx="931.7" cy="96.8" r="0.87"/><circle cx="947.9" cy="110.2" r="0.63"/><circle cx="1216.4" cy="109.5" r="0.80"/><circle cx="1076.5" cy="104.4" r="0.78"/><circle cx="893.1" cy="104.6" r="0.78"/><circle cx="831.9" cy="114.3" r="0.65"/><circle cx="1205.0" cy="108.5" r="0.98"/><circle cx="1117.7" cy="101.5" r="0.85"/><circle cx="800.1" cy="105.2" r="0.79"/><circle cx="935.4" cy="98.4" r="0.85"/><circle cx="1008.2" cy="101.1" r="0.87"/><circle cx="1167.6" cy="103.0" r="0.91"/><circle cx="1127.0" cy="100.2" r="0.54"/><circle cx="885.0" cy="94.6" r="0.79"/><circle cx="1237.9" cy="111.3" r="0.64"/><circle cx="875.0" cy="119.5" r="0.77"/><circle cx="904.9" cy="117.5" r="0.71"/><circle cx="1233.3" cy="111.0" r="0.63"/><circle cx="882.1" cy="92.5" r="0.91"/><circle cx="944.2" cy="109.1" r="0.92"/><circle cx="977.0" cy="99.5" r="0.86"/><circle cx="1082.7" cy="95.6" r="0.60"/><circle cx="925.5" cy="86.0" r="0.82"/><circle cx="1082.0" cy="103.9" r="0.72"/><circle cx="1121.9" cy="105.0" r="0.93"/><circle cx="1042.2" cy="101.6" r="0.80"/><circle cx="889.3" cy="94.1" r="0.91"/><circle cx="1104.6" cy="101.6" r="0.96"/><circle cx="880.1" cy="112.9" r="0.75"/><circle cx="846.3" cy="97.1" r="0.51"/><circle cx="883.3" cy="114.3" r="0.74"/><circle cx="820.8" cy="107.4" r="0.99"/><circle cx="1146.4" cy="104.0" r="0.74"/><circle cx="961.5" cy="90.7" r="0.83"/><circle cx="810.2" cy="108.6" r="0.96"/><circle cx="1132.9" cy="108.2" r="0.92"/><circle cx="1218.9" cy="107.7" r="0.97"/><circle cx="1193.2" cy="109.7" r="0.57"/><circle cx="1034.5" cy="96.8" r="1.00"/><circle cx="908.1" cy="111.2" r="0.88"/><circle cx="1064.5" cy="91.7" r="0.95"/><circle cx="912.3" cy="115.2" r="0.94"/><circle cx="1033.8" cy="83.5" r="0.64"/><circle cx="829.2" cy="99.6" r="0.68"/><circle cx="1052.5" cy="104.5" r="0.52"/><circle cx="1127.5" cy="98.4" r="0.86"/><circle cx="804.7" cy="107.3" r="0.96"/><circle cx="1184.8" cy="103.7" r="0.69"/><circle cx="1202.2" cy="106.0" r="0.73"/><circle cx="915.0" cy="96.9" r="0.74"/><circle cx="861.1" cy="96.8" r="0.99"/><circle cx="1135.5" cy="107.6" r="0.57"/><circle cx="858.4" cy="109.2" r="0.81"/><circle cx="804.5" cy="117.1" r="0.69"/><circle cx="918.3" cy="107.3" r="0.96"/><circle cx="953.9" cy="101.0" r="0.52"/><circle cx="1005.5" cy="110.8" r="0.97"/><circle cx="954.0" cy="113.1" r="1.00"/><circle cx="933.4" cy="113.6" r="0.64"/><circle cx="1224.5" cy="114.6" r="0.99"/><circle cx="979.4" cy="105.5" r="0.85"/><circle cx="1056.3" cy="85.1" r="0.83"/><circle cx="1153.3" cy="109.6" r="0.95"/></g>
<g fill="#1e1e30" fill-opacity="0.8"><circle cx="1055.5" cy="120.1" r="0.65"/><circle cx="1220.0" cy="124.1" r="0.86"/><circle cx="1060.0" cy="127.9" r="0.92"/><circle cx="1144.6" cy="134.3" r="0.94"/><circle cx="1114.2" cy="114.5" r="0.88"/><circle cx="1065.3" cy="112.2" r="0.87"/><circle cx="1208.6" cy="129.9" r="0.98"/><circle cx="1080.3" cy="113.7" r="0.56"/><circle cx="1235.5" cy="118.7" r="0.58"/><circle cx="1044.0" cy="116.6" r="0.52"/><circle cx="1110.6" cy="117.7" r="0.65"/><circle cx="1225.8" cy="119.4" r="0.91"/><circle cx="1187.7" cy="126.8" r="0.79"/><circle cx="1194.0" cy="126.9" r="0.61"/><circle cx="1105.9" cy="119.2" r="0.70"/><circle cx="1237.5" cy="122.4" r="0.53"/><circle cx="1135.3" cy="132.0" r="0.72"/><circle cx="1180.5" cy="119.3" r="0.53"/><circle cx="1172.3" cy="118.5" r="0.65"/><circle cx="1116.9" cy="118.8" r="0.52"/><circle cx="1041.3" cy="148.5" r="0.84"/><circle cx="1230.4" cy="123.3" r="0.98"/><circle cx="1212.5" cy="126.4" r="0.76"/><circle cx="1141.7" cy="121.0" r="0.69"/><circle cx="1184.6" cy="121.0" r="0.92"/><circle cx="1142.0" cy="128.0" r="0.91"/><circle cx="1169.2" cy="119.9" r="0.62"/><circle cx="1040.2" cy="116.5" r="0.98"/><circle cx="1158.6" cy="134.2" r="0.89"/><circle cx="1103.2" cy="135.5" r="0.96"/><circle cx="1131.3" cy="117.6" r="0.66"/><circle cx="1073.3" cy="120.5" r="0.54"/><circle cx="1182.6" cy="133.5" r="0.61"/><circle cx="1196.0" cy="126.8" r="0.74"/><circle cx="1221.5" cy="122.4" r="0.91"/><circle cx="1047.0" cy="146.8" r="0.59"/><circle cx="1040.7" cy="146.3" r="0.86"/><circle cx="1175.0" cy="130.3" r="0.69"/><circle cx="1062.9" cy="121.5" r="0.98"/><circle cx="1236.3" cy="120.1" r="0.72"/><circle cx="1130.1" cy="133.8" r="0.50"/><circle cx="1205.8" cy="121.7" r="0.77"/><circle cx="1065.8" cy="114.2" r="0.94"/><circle cx="1140.6" cy="135.0" r="0.93"/><circle cx="1190.5" cy="119.1" r="0.79"/><circle cx="1238.4" cy="123.2" r="0.53"/><circle cx="1076.9" cy="136.6" r="0.99"/><circle cx="1089.4" cy="120.0" r="0.86"/><circle cx="1141.5" cy="120.2" r="0.99"/><circle cx="1164.1" cy="123.7" r="0.51"/><circle cx="1142.1" cy="130.8" r="0.59"/><circle cx="1057.4" cy="135.3" r="0.96"/><circle cx="1115.4" cy="124.7" r="0.82"/><circle cx="1144.0" cy="119.2" r="0.64"/><circle cx="1081.2" cy="116.6" r="0.54"/><circle cx="1118.2" cy="119.5" r="0.92"/><circle cx="1104.4" cy="135.4" r="0.91"/><circle cx="1093.8" cy="116.3" r="0.79"/><circle cx="1134.8" cy="126.7" r="0.56"/><circle cx="1146.2" cy="130.8" r="0.72"/><circle cx="1091.0" cy="134.7" r="0.65"/><circle cx="1239.1" cy="125.2" r="0.50"/><circle cx="1129.5" cy="118.8" r="0.89"/><circle cx="1124.2" cy="117.1" r="0.98"/><circle cx="1199.9" cy="127.1" r="0.78"/><circle cx="1054.9" cy="144.4" r="0.65"/><circle cx="1144.8" cy="125.9" r="0.74"/><circle cx="1043.6" cy="145.7" r="0.75"/><circle cx="1118.7" cy="133.0" r="0.93"/><circle cx="1183.8" cy="132.3" r="0.67"/><circle cx="1061.0" cy="122.9" r="0.80"/><circle cx="1197.4" cy="129.1" r="0.81"/><circle cx="1160.2" cy="128.9" r="0.79"/><circle cx="1043.0" cy="133.9" r="0.64"/><circle cx="1054.5" cy="132.9" r="0.92"/><circle cx="1096.5" cy="128.6" r="0.81"/><circle cx="1176.3" cy="132.0" r="0.85"/><circle cx="1055.9" cy="132.5" r="0.67"/><circle cx="1123.3" cy="129.2" r="0.59"/><circle cx="1165.4" cy="133.4" r="0.54"/><circle cx="1210.3" cy="127.9" r="0.70"/><circle cx="1193.2" cy="119.2" r="0.58"/><circle cx="1239.5" cy="124.2" r="0.58"/><circle cx="1065.9" cy="124.4" r="0.77"/><circle cx="1238.0" cy="119.6" r="0.82"/><circle cx="1128.1" cy="126.9" r="0.97"/><circle cx="1063.7" cy="136.1" r="0.87"/><circle cx="1093.5" cy="115.5" r="0.87"/><circle cx="1210.7" cy="122.7" r="0.57"/><circle cx="1151.0" cy="129.1" r="0.68"/><circle cx="1122.2" cy="117.3" r="0.57"/><circle cx="1084.5" cy="130.7" r="0.56"/><circle cx="1079.6" cy="123.3" r="0.61"/><circle cx="1087.9" cy="130.2" r="0.62"/><circle cx="1152.3" cy="118.6" r="0.76"/><circle cx="1179.6" cy="125.0" r="0.59"/><circle cx="1046.0" cy="123.9" r="0.70"/><circle cx="1060.2" cy="125.4" r="0.75"/><circle cx="1052.8" cy="135.0" r="0.98"/><circle cx="1180.5" cy="125.1" r="0.92"/><circle cx="1229.0" cy="129.1" r="0.98"/><circle cx="1193.1" cy="132.4" r="0.88"/><circle cx="1105.0" cy="116.7" r="0.74"/><circle cx="1180.6" cy="122.2" r="0.68"/><circle cx="1056.5" cy="114.5" r="0.63"/><circle cx="1209.7" cy="118.7" r="0.57"/><circle cx="1119.9" cy="135.3" r="0.61"/><circle cx="1048.7" cy="115.8" r="0.67"/><circle cx="1041.1" cy="138.8" r="0.53"/><circle cx="1078.0" cy="113.4" r="0.64"/><circle cx="1057.7" cy="118.1" r="0.60"/><circle cx="1086.7" cy="127.7" r="0.68"/><circle cx="1081.5" cy="112.0" r="0.93"/><circle cx="1210.8" cy="131.3" r="0.85"/><circle cx="1126.5" cy="122.2" r="0.60"/><circle cx="1128.1" cy="124.1" r="0.97"/><circle cx="1080.0" cy="129.2" r="0.87"/><circle cx="1171.7" cy="127.8" r="0.52"/><circle cx="1069.4" cy="125.3" r="0.80"/><circle cx="1232.5" cy="126.8" r="0.61"/><circle cx="1069.6" cy="132.0" r="0.51"/><circle cx="1222.4" cy="118.5" r="0.80"/><circle cx="1209.1" cy="119.1" r="0.55"/><circle cx="1166.3" cy="129.7" r="0.51"/><circle cx="1133.7" cy="131.7" r="0.89"/><circle cx="1118.7" cy="115.0" r="0.81"/><circle cx="1147.3" cy="124.6" r="0.80"/><circle cx="1156.8" cy="125.7" r="0.77"/><circle cx="1152.3" cy="130.9" r="0.90"/><circle cx="1044.3" cy="141.7" r="0.62"/><circle cx="1124.4" cy="119.8" r="0.65"/><circle cx="1119.6" cy="124.5" r="0.55"/><circle cx="1098.8" cy="123.7" r="0.69"/><circle cx="1146.0" cy="118.2" r="0.78"/><circle cx="1221.0" cy="127.3" r="0.78"/><circle cx="1201.1" cy="123.6" r="0.59"/><circle cx="1162.5" cy="121.6" r="0.64"/><circle cx="1193.8" cy="125.8" r="0.59"/><circle cx="1083.4" cy="130.1" r="0.83"/><circle cx="1219.7" cy="127.4" r="0.64"/><circle cx="1180.5" cy="132.0" r="0.94"/><circle cx="1222.6" cy="119.3" r="0.62"/><circle cx="1074.6" cy="132.2" r="0.85"/><circle cx="1151.6" cy="120.6" r="0.71"/><circle cx="1178.1" cy="118.3" r="0.95"/><circle cx="1180.8" cy="132.2" r="0.97"/><circle cx="1143.1" cy="122.4" r="0.69"/><circle cx="1137.5" cy="128.1" r="0.64"/><circle cx="1097.7" cy="125.0" r="0.87"/><circle cx="1042.8" cy="146.3" r="0.82"/><circle cx="1140.3" cy="127.1" r="0.91"/><circle cx="1125.8" cy="122.1" r="0.55"/><circle cx="1106.9" cy="115.2" r="0.63"/><circle cx="1168.3" cy="123.5" r="0.96"/><circle cx="1133.8" cy="132.5" r="0.60"/><circle cx="1235.6" cy="127.4" r="0.95"/><circle cx="1201.1" cy="125.7" r="0.58"/><circle cx="1208.7" cy="131.7" r="0.73"/><circle cx="1193.1" cy="127.5" r="0.89"/><circle cx="1221.7" cy="126.0" r="0.57"/><circle cx="1127.6" cy="126.6" r="0.61"/><circle cx="1181.1" cy="123.1" r="0.54"/><circle cx="1111.7" cy="130.3" r="0.82"/><circle cx="1104.8" cy="123.1" r="0.84"/><circle cx="1210.0" cy="119.4" r="0.60"/><circle cx="1122.7" cy="119.7" r="0.59"/><circle cx="1100.5" cy="116.5" r="0.52"/><circle cx="1125.4" cy="124.4" r="0.81"/><circle cx="1226.2" cy="129.3" r="0.74"/><circle cx="1096.1" cy="127.4" r="0.72"/><circle cx="1158.3" cy="133.5" r="0.88"/><circle cx="1237.3" cy="126.8" r="0.88"/><circle cx="1239.0" cy="125.7" r="0.87"/><circle cx="1174.5" cy="133.6" r="0.77"/><circle cx="1118.2" cy="127.8" r="0.60"/><circle cx="1197.4" cy="125.9" r="0.68"/><circle cx="1175.3" cy="129.3" r="0.81"/><circle cx="1102.8" cy="125.3" r="0.51"/><circle cx="1121.7" cy="115.6" r="0.80"/><circle cx="1055.5" cy="120.6" r="0.89"/><circle cx="1181.3" cy="121.5" r="0.51"/><circle cx="1231.5" cy="122.6" r="0.53"/><circle cx="1144.9" cy="131.9" r="0.80"/><circle cx="1097.9" cy="125.0" r="0.68"/><circle cx="1229.1" cy="127.2" r="0.60"/><circle cx="1162.4" cy="131.3" r="0.60"/><circle cx="1068.4" cy="127.0" r="0.82"/><circle cx="1124.7" cy="126.5" r="0.80"/><circle cx="1179.5" cy="119.4" r="0.67"/><circle cx="1069.6" cy="117.3" r="0.96"/><circle cx="1164.4" cy="131.7" r="0.70"/><circle cx="1083.0" cy="113.9" r="0.89"/><circle cx="1212.3" cy="128.0" r="0.61"/><circle cx="1192.7" cy="131.6" r="0.65"/><circle cx="1139.1" cy="135.2" r="0.60"/><circle cx="1170.5" cy="130.5" r="0.78"/><circle cx="1223.2" cy="123.9" r="0.58"/><circle cx="1112.3" cy="121.2" r="0.75"/><circle cx="1115.1" cy="132.4" r="0.81"/><circle cx="1199.9" cy="127.0" r="0.54"/><circle cx="1075.8" cy="114.5" r="0.86"/><circle cx="1112.3" cy="132.3" r="0.95"/><circle cx="1210.5" cy="127.2" r="0.62"/><circle cx="1056.3" cy="128.5" r="0.90"/><circle cx="1216.2" cy="118.6" r="0.53"/><circle cx="1123.0" cy="127.8" r="0.66"/><circle cx="1178.2" cy="130.1" r="0.92"/><circle cx="1225.6" cy="119.5" r="0.97"/><circle cx="1053.7" cy="133.0" r="0.89"/><circle cx="1063.1" cy="119.9" r="0.84"/><circle cx="1125.3" cy="117.7" r="0.53"/><circle cx="1161.4" cy="119.7" r="0.58"/><circle cx="1092.6" cy="125.4" r="0.54"/><circle cx="1106.1" cy="120.1" r="0.63"/><circle cx="1189.8" cy="125.2" r="0.89"/><circle cx="1226.3" cy="129.4" r="0.62"/><circle cx="1175.9" cy="120.0" r="0.52"/><circle cx="1166.4" cy="126.5" r="0.58"/><circle cx="1098.9" cy="129.8" r="0.81"/><circle cx="1061.9" cy="137.5" r="0.51"/><circle cx="1121.0" cy="127.8" r="0.62"/><circle cx="1071.5" cy="124.7" r="0.95"/><circle cx="1071.8" cy="113.8" r="0.65"/><circle cx="1233.0" cy="117.9" r="0.80"/><circle cx="1169.6" cy="133.4" r="0.57"/><circle cx="1190.0" cy="124.6" r="0.95"/><circle cx="1226.5" cy="125.1" r="0.81"/><circle cx="1063.1" cy="121.2" r="0.95"/><circle cx="1168.2" cy="121.9" r="0.60"/><circle cx="1203.2" cy="129.7" r="0.82"/><circle cx="1202.9" cy="121.0" r="0.74"/><circle cx="1213.8" cy="127.8" r="0.69"/><circle cx="1117.6" cy="133.1" r="0.84"/><circle cx="1076.9" cy="120.0" r="0.62"/><circle cx="1110.3" cy="124.1" r="0.51"/><circle cx="1041.8" cy="140.8" r="0.72"/><circle cx="1042.5" cy="131.0" r="0.82"/><circle cx="1108.2" cy="118.5" r="0.94"/><circle cx="1201.3" cy="125.5" r="0.84"/><circle cx="1174.3" cy="127.1" r="0.67"/><circle cx="1115.8" cy="119.7" r="0.68"/><circle cx="1055.9" cy="138.1" r="0.65"/><circle cx="1044.5" cy="121.9" r="0.91"/><circle cx="1157.7" cy="120.7" r="0.53"/><circle cx="1119.6" cy="126.7" r="0.80"/><circle cx="1065.6" cy="133.5" r="0.92"/><circle cx="1148.1" cy="134.6" r="0.62"/><circle cx="1088.2" cy="117.2" r="0.94"/><circle cx="1211.7" cy="120.8" r="0.86"/><circle cx="1108.7" cy="131.9" r="0.65"/></g>
<g fill="#1e1e30" fill-opacity="0.8"><circle cx="852.7" cy="137.6" r="0.83"/><circle cx="820.5" cy="134.1" r="0.86"/><circle cx="890.0" cy="108.5" r="0.76"/><circle cx="857.9" cy="129.4" r="0.89"/><circle cx="848.1" cy="124.9" r="0.88"/><circle cx="859.9" cy="115.8" r="0.62"/><circle cx="844.6" cy="99.6" r="0.74"/><circle cx="870.9" cy="125.3" r="0.84"/><circle cx="892.1" cy="136.4" r="0.77"/><circle cx="802.9" cy="105.8" r="0.89"/><circle cx="821.3" cy="110.4" r="0.86"/><circle cx="872.5" cy="103.7" r="0.63"/><circle cx="816.7" cy="114.1" r="0.50"/><circle cx="847.7" cy="115.8" r="0.66"/><circle cx="810.4" cy="106.8" r="0.51"/><circle cx="886.0" cy="150.1" r="0.72"/><circle cx="803.6" cy="109.3" r="0.55"/><circle cx="824.8" cy="101.2" r="0.61"/><circle cx="812.3" cy="110.5" r="0.76"/><circle cx="840.4" cy="126.3" r="0.64"/><circle cx="849.3" cy="147.2" r="0.62"/><circle cx="797.7" cy="122.8" r="0.65"/><circle cx="875.9" cy="102.8" r="0.85"/><circle cx="791.6" cy="122.9" r="0.68"/><circle cx="824.7" cy="147.9" r="0.78"/><circle cx="808.0" cy="124.2" r="0.74"/><circle cx="793.7" cy="111.4" r="0.74"/><circle cx="870.2" cy="127.8" r="0.67"/><circle cx="845.8" cy="112.9" r="0.85"/><circle cx="895.8" cy="130.8" r="0.51"/><circle cx="833.7" cy="145.5" r="0.63"/><circle cx="801.6" cy="111.5" r="0.78"/><circle cx="858.4" cy="114.7" r="0.75"/><circle cx="873.7" cy="164.3" r="0.83"/><circle cx="837.7" cy="146.8" r="0.87"/><circle cx="885.6" cy="150.3" r="0.73"/><circle cx="846.3" cy="150.9" r="0.75"/><circle cx="869.3" cy="111.1" r="0.54"/><circle cx="819.7" cy="130.4" r="0.73"/><circle cx="811.8" cy="110.3" r="0.88"/><circle cx="797.9" cy="137.8" r="0.81"/><circle cx="853.1" cy="161.8" r="0.77"/><circle cx="790.7" cy="131.1" r="0.67"/><circle cx="890.8" cy="155.7" r="0.56"/><circle cx="794.4" cy="109.3" r="0.81"/><circle cx="877.1" cy="111.3" r="0.55"/><circle cx="830.3" cy="144.4" r="0.80"/><circle cx="885.4" cy="166.4" r="0.80"/><circle cx="881.9" cy="95.9" r="0.50"/><circle cx="884.9" cy="140.4" r="0.63"/><circle cx="804.1" cy="116.8" r="0.64"/><circle cx="844.5" cy="125.0" r="0.58"/><circle cx="799.0" cy="113.1" r="0.55"/><circle cx="801.0" cy="120.3" r="0.55"/><circle cx="878.0" cy="134.4" r="0.68"/><circle cx="860.3" cy="111.2" r="0.51"/><circle cx="798.7" cy="117.8" r="0.64"/><circle cx="817.8" cy="115.8" r="0.83"/><circle cx="790.9" cy="120.5" r="0.65"/><circle cx="821.0" cy="138.1" r="0.59"/><circle cx="794.7" cy="113.1" r="0.89"/><circle cx="828.0" cy="104.3" r="0.89"/><circle cx="861.0" cy="160.9" r="0.63"/><circle cx="879.1" cy="97.7" r="0.60"/><circle cx="877.4" cy="132.2" r="0.82"/><circle cx="832.4" cy="149.5" r="0.53"/><circle cx="858.6" cy="108.0" r="0.58"/><circle cx="887.1" cy="126.6" r="0.83"/><circle cx="821.2" cy="138.4" r="0.86"/><circle cx="859.0" cy="111.1" r="0.77"/><circle cx="894.6" cy="155.2" r="0.68"/><circle cx="833.9" cy="103.1" r="0.81"/><circle cx="807.4" cy="112.0" r="0.51"/><circle cx="808.0" cy="119.3" r="0.69"/><circle cx="809.3" cy="121.2" r="0.80"/><circle cx="800.7" cy="110.0" r="0.71"/><circle cx="889.4" cy="163.3" r="0.73"/><circle cx="800.1" cy="137.0" r="0.90"/><circle cx="888.9" cy="134.3" r="0.65"/><circle cx="854.6" cy="148.4" r="0.90"/><circle cx="844.3" cy="128.6" r="0.62"/><circle cx="849.4" cy="131.4" r="0.61"/><circle cx="840.4" cy="153.9" r="0.59"/><circle cx="817.9" cy="115.6" r="0.84"/><circle cx="823.4" cy="144.2" r="0.87"/><circle cx="886.3" cy="154.4" r="0.58"/><circle cx="839.5" cy="148.0" r="0.60"/><circle cx="856.2" cy="154.1" r="0.87"/><circle cx="828.6" cy="104.4" r="0.51"/><circle cx="824.8" cy="128.7" r="0.61"/><circle cx="880.6" cy="142.3" r="0.75"/><circle cx="881.0" cy="118.8" r="0.76"/><circle cx="828.6" cy="114.3" r="0.55"/><circle cx="876.7" cy="160.0" r="0.51"/><circle cx="868.8" cy="99.4" r="0.67"/><circle cx="824.8" cy="148.8" r="0.67"/><circle cx="846.2" cy="119.1" r="0.60"/><circle cx="816.8" cy="103.3" r="0.51"/><circle cx="850.5" cy="144.3" r="0.77"/><circle cx="818.5" cy="151.5" r="0.53"/><circle cx="837.5" cy="117.4" r="0.57"/><circle cx="895.7" cy="148.7" r="0.55"/><circle cx="809.5" cy="138.9" r="0.65"/><circle cx="823.2" cy="114.8" r="0.63"/><circle cx="854.8" cy="116.3" r="0.74"/><circle cx="797.0" cy="124.6" r="0.73"/><circle cx="825.2" cy="146.9" r="0.87"/><circle cx="862.3" cy="123.5" r="0.57"/><circle cx="858.8" cy="114.9" r="0.57"/><circle cx="848.6" cy="109.0" r="0.76"/><circle cx="873.6" cy="95.7" r="0.75"/><circle cx="811.1" cy="117.4" r="0.79"/><circle cx="896.2" cy="117.9" r="0.80"/><circle cx="828.1" cy="151.9" r="0.57"/><circle cx="863.1" cy="100.8" r="0.72"/><circle cx="871.7" cy="160.1" r="0.81"/><circle cx="850.5" cy="122.1" r="0.75"/><circle cx="861.3" cy="137.2" r="0.79"/><circle cx="872.0" cy="161.9" r="0.75"/><circle cx="886.4" cy="149.6" r="0.65"/></g>
<rect x="1221.1" y="198.4" width="100.5" height="7.2" fill="#000"/>
<path d="M1236.0,325.0 C1239.2,320.2 1247.7,318.5 1255.0,316.0 C1262.3,313.5 1272.3,311.4 1280.0,310.0 C1287.7,308.6 1298.0,305.8 1301.0,307.8 C1304.0,309.8 1299.8,317.2 1298.0,322.0 C1296.2,326.8 1290.0,332.0 1290.0,336.7 C1290.0,341.4 1294.8,345.2 1298.0,350.0 C1301.2,354.8 1312.0,364.3 1309.0,365.6 C1306.0,366.9 1289.0,360.3 1280.0,358.0 C1271.0,355.7 1262.3,354.2 1255.0,352.0 C1247.7,349.8 1239.2,349.5 1236.0,345.0 C1232.8,340.5 1232.8,329.8 1236.0,325.0 Z" fill="url(#finY)" fill-opacity="0.75" stroke="none" stroke-width="0" filter="url(#b1)" />
<path d="M1238.0,326.0L1289.5,308.0 M1238.0,327.1L1291.0,311.4 M1238.0,328.2L1292.5,314.8 M1238.0,329.3L1294.0,318.2 M1238.0,330.4L1295.5,321.6 M1238.0,331.5L1297.0,325.0 M1238.0,332.6L1298.5,328.4 M1238.0,333.7L1300.0,331.8 M1238.0,334.8L1301.5,335.2 M1238.0,335.9L1303.0,338.6 M1238.0,337.0L1301.5,342.0 M1238.0,338.1L1300.0,345.4 M1238.0,339.2L1298.5,348.8 M1238.0,340.3L1297.0,352.2 M1238.0,341.4L1295.5,355.6 M1238.0,342.5L1294.0,359.0 M1238.0,343.6L1292.5,362.4 M1238.0,344.7L1291.0,365.8" stroke="#8a8aa0" stroke-width="0.5" stroke-opacity="0.5" fill="none"/>
<path d="M1083.0,292.0 C1082.2,288.7 1097.2,287.8 1105.0,286.0 C1112.8,284.2 1122.5,282.2 1130.0,281.0 C1137.5,279.8 1147.2,277.2 1150.0,279.0 C1152.8,280.8 1147.7,287.2 1147.0,292.0 C1146.3,296.8 1151.8,305.5 1145.6,307.8 C1139.4,310.1 1120.4,308.6 1110.0,306.0 C1099.6,303.4 1083.8,295.3 1083.0,292.0 Z" fill="url(#finY)" fill-opacity="0.7" stroke="none" stroke-width="0" filter="url(#b1)" />
<path d="M1085.0,292.0L1110.0,282.0 M1089.0,293.0L1113.0,281.0 M1093.0,294.0L1116.0,280.0 M1097.0,295.0L1119.0,282.0 M1101.0,296.0L1122.0,281.0 M1105.0,297.0L1125.0,280.0 M1109.0,298.0L1128.0,282.0 M1113.0,299.0L1131.0,281.0 M1117.0,300.0L1134.0,280.0 M1121.0,301.0L1137.0,282.0 M1125.0,302.0L1140.0,281.0 M1129.0,303.0L1143.0,280.0 M1133.0,304.0L1146.0,282.0 M1137.0,305.0L1149.0,281.0" stroke="#9a9ab0" stroke-width="0.5" stroke-opacity="0.45" fill="none"/>
<path d="M1079.0,370.0 C1082.0,366.8 1098.2,367.3 1110.0,366.0 C1121.8,364.7 1138.2,363.2 1150.0,362.0 C1161.8,360.8 1178.0,356.0 1181.0,359.0 C1184.0,362.0 1173.2,373.5 1168.0,380.0 C1162.8,386.5 1154.8,393.0 1150.0,398.0 C1145.2,403.0 1144.8,410.0 1139.0,410.0 C1133.2,410.0 1122.8,402.2 1115.0,398.0 C1107.2,393.8 1098.0,389.7 1092.0,385.0 C1086.0,380.3 1076.0,373.2 1079.0,370.0 Z" fill="url(#finY)" fill-opacity="0.85" stroke="none" stroke-width="0" filter="url(#b1)" />
<path d="M1080.0,369.0L1125.0,409.0 M1085.5,368.5L1128.3,406.2 M1091.0,368.0L1131.6,403.4 M1096.5,367.5L1134.9,400.6 M1102.0,367.0L1138.2,397.8 M1107.5,366.5L1141.5,395.0 M1113.0,366.0L1144.8,392.2 M1118.5,365.5L1148.1,389.4 M1124.0,365.0L1151.4,386.6 M1129.5,364.5L1154.7,383.8 M1135.0,364.0L1158.0,381.0 M1140.5,363.5L1161.3,378.2 M1146.0,363.0L1164.6,375.4 M1151.5,362.5L1167.9,372.6 M1157.0,362.0L1171.2,369.8 M1162.5,361.5L1174.5,367.0 M1168.0,361.0L1177.8,364.2 M1173.5,360.5L1181.1,361.4" stroke="#8a8aa0" stroke-width="0.5" stroke-opacity="0.5" fill="none"/>
<path d="M812.2,341.1 C813.0,337.8 815.2,332.6 818.9,327.8 C822.6,323.0 828.1,317.0 834.4,312.2 C840.7,307.4 847.4,302.6 856.7,298.9 C866.0,295.2 878.9,293.3 890.0,290.0 C901.1,286.7 912.2,282.0 923.3,278.9 C934.4,275.8 945.6,273.0 956.7,271.1 C967.8,269.2 978.9,267.6 990.0,267.8 C1001.1,268.0 1012.2,269.4 1023.3,272.2 C1034.4,275.0 1047.4,281.1 1056.7,284.4 C1066.0,287.7 1072.6,289.2 1078.9,292.2 C1085.2,295.2 1088.1,299.2 1094.4,302.2 C1100.7,305.2 1105.6,308.0 1116.7,310.0 C1127.8,312.0 1146.2,313.3 1161.0,314.4 C1175.8,315.5 1194.5,315.6 1205.6,316.7 C1216.7,317.8 1222.4,319.4 1227.8,321.1 C1233.2,322.8 1236.1,323.0 1237.8,326.7 C1239.5,330.4 1239.5,339.1 1237.8,343.3 C1236.1,347.6 1233.2,350.0 1227.8,352.2 C1222.4,354.4 1216.7,355.6 1205.6,356.7 C1194.5,357.8 1175.8,358.0 1161.0,358.9 C1146.2,359.8 1128.5,361.0 1116.7,362.2 C1104.9,363.4 1097.0,364.7 1090.0,366.0 C1083.0,367.3 1080.0,369.3 1074.4,370.0 C1068.9,370.7 1063.4,369.1 1056.7,370.0 C1050.0,370.9 1041.8,373.9 1034.4,375.6 C1027.0,377.3 1021.5,378.9 1012.2,380.0 C1003.0,381.1 990.0,382.0 978.9,382.2 C967.8,382.4 956.7,382.0 945.6,381.1 C934.5,380.2 923.3,377.6 912.2,376.7 C901.1,375.8 890.0,376.7 878.9,375.6 C867.8,374.5 854.5,372.4 845.6,370.0 C836.7,367.6 830.8,364.8 825.6,361.1 C820.4,357.4 816.6,351.1 814.4,347.8 C812.2,344.5 811.5,344.4 812.2,341.1 Z" fill="url(#bodyC)" fill-opacity="1.0" stroke="#3a3a5a" stroke-width="1.3" />
<path d="M812.2,341.1 C813.0,337.8 815.2,332.6 818.9,327.8 C822.6,323.0 828.1,317.0 834.4,312.2 C840.7,307.4 847.4,302.6 856.7,298.9 C866.0,295.2 878.9,293.3 890.0,290.0 C901.1,286.7 914.1,281.2 923.3,278.9 C932.5,276.6 938.9,272.5 945.0,276.0 C951.1,279.5 957.5,289.3 960.0,300.0 C962.5,310.7 961.7,326.5 960.0,340.0 C958.3,353.5 958.0,375.0 950.0,381.1 C942.0,387.2 924.1,377.6 912.2,376.7 C900.4,375.8 890.0,376.7 878.9,375.6 C867.8,374.5 854.5,372.4 845.6,370.0 C836.7,367.6 830.8,364.8 825.6,361.1 C820.4,357.4 816.6,351.1 814.4,347.8 C812.2,344.5 811.5,344.4 812.2,341.1 Z" fill="url(#headC)" fill-opacity="0.9" stroke="none" stroke-width="0" filter="url(#b2)" />
<path d="M912.0,305.0 C920.3,296.3 935.3,295.5 950.0,293.0 C964.7,290.5 985.0,289.5 1000.0,290.0 C1015.0,290.5 1030.0,292.3 1040.0,296.0 C1050.0,299.7 1055.3,304.7 1060.0,312.0 C1064.7,319.3 1068.3,331.0 1068.0,340.0 C1067.7,349.0 1063.6,360.1 1058.0,366.0 C1052.4,371.9 1042.0,373.3 1034.4,375.6 C1026.8,377.9 1021.5,378.9 1012.2,380.0 C1003.0,381.1 990.0,382.0 978.9,382.2 C967.8,382.4 956.2,382.3 945.6,381.1 C935.0,379.9 922.6,381.0 915.0,375.0 C907.4,369.0 900.5,356.7 900.0,345.0 C899.5,333.3 903.7,313.7 912.0,305.0 Z" fill="#3c2a22" fill-opacity="0.92" stroke="none" stroke-width="0" filter="url(#b2)" />
<path d="M945.0,300.0 C951.7,295.8 975.8,293.0 990.0,293.0 C1004.2,293.0 1019.2,295.8 1030.0,300.0 C1040.8,304.2 1051.7,312.5 1055.0,318.0 C1058.3,323.5 1055.8,331.0 1050.0,333.0 C1044.2,335.0 1030.8,331.3 1020.0,330.0 C1009.2,328.7 996.7,327.0 985.0,325.0 C973.3,323.0 956.7,322.2 950.0,318.0 C943.3,313.8 938.3,304.2 945.0,300.0 Z" fill="#2d2a32" fill-opacity="0.7" stroke="none" stroke-width="0" filter="url(#b2)" />
<ellipse cx="990" cy="313" rx="22" ry="6" fill="#8a8488" fill-opacity="0.45" filter="url(#b2)"/>
<g fill="#d8d4cc" fill-opacity="0.45"><circle cx="992.7" cy="313.8" r="0.73"/><circle cx="974.1" cy="307.5" r="0.31"/><circle cx="972.5" cy="313.3" r="0.79"/><circle cx="1015.5" cy="310.6" r="0.50"/><circle cx="1015.3" cy="309.5" r="0.34"/><circle cx="1027.3" cy="315.3" r="0.36"/><circle cx="1010.0" cy="322.4" r="0.32"/><circle cx="990.9" cy="312.5" r="0.76"/><circle cx="975.1" cy="308.2" r="0.42"/><circle cx="963.9" cy="316.5" r="0.71"/><circle cx="994.9" cy="303.8" r="0.66"/><circle cx="1019.0" cy="316.1" r="0.46"/><circle cx="1026.4" cy="315.6" r="0.59"/><circle cx="1003.2" cy="307.7" r="0.53"/><circle cx="1023.5" cy="316.7" r="0.47"/><circle cx="1025.6" cy="319.8" r="0.32"/><circle cx="972.6" cy="307.5" r="0.31"/><circle cx="1020.3" cy="315.9" r="0.57"/><circle cx="975.9" cy="305.2" r="0.47"/><circle cx="1027.0" cy="315.1" r="0.33"/><circle cx="994.7" cy="304.0" r="0.61"/><circle cx="969.8" cy="306.6" r="0.62"/><circle cx="1026.8" cy="315.4" r="0.45"/><circle cx="1011.6" cy="308.4" r="0.30"/><circle cx="981.9" cy="316.8" r="0.61"/><circle cx="975.4" cy="319.8" r="0.72"/><circle cx="981.0" cy="304.3" r="0.56"/><circle cx="1029.2" cy="315.0" r="0.57"/><circle cx="999.0" cy="308.7" r="0.45"/><circle cx="992.2" cy="313.9" r="0.77"/><circle cx="965.8" cy="308.0" r="0.77"/><circle cx="1012.6" cy="304.5" r="0.52"/><circle cx="1012.1" cy="321.2" r="0.34"/><circle cx="1032.2" cy="318.4" r="0.44"/><circle cx="1002.7" cy="319.5" r="0.42"/><circle cx="1016.1" cy="314.2" r="0.34"/><circle cx="981.7" cy="311.2" r="0.37"/><circle cx="978.5" cy="314.9" r="0.56"/><circle cx="985.5" cy="309.5" r="0.55"/><circle cx="1014.7" cy="319.1" r="0.49"/><circle cx="1014.9" cy="312.0" r="0.41"/><circle cx="1015.3" cy="317.7" r="0.30"/><circle cx="984.9" cy="313.7" r="0.41"/><circle cx="970.3" cy="306.8" r="0.31"/><circle cx="969.7" cy="310.8" r="0.55"/><circle cx="1011.1" cy="309.2" r="0.36"/><circle cx="1033.6" cy="315.6" r="0.64"/><circle cx="1015.1" cy="309.4" r="0.60"/><circle cx="985.5" cy="316.1" r="0.71"/><circle cx="966.0" cy="314.2" r="0.73"/><circle cx="994.3" cy="321.8" r="0.74"/><circle cx="1026.1" cy="308.0" r="0.44"/><circle cx="971.9" cy="308.3" r="0.50"/><circle cx="1023.8" cy="316.2" r="0.39"/><circle cx="974.3" cy="312.0" r="0.75"/><circle cx="997.8" cy="318.8" r="0.64"/><circle cx="1030.2" cy="312.9" r="0.49"/><circle cx="996.6" cy="319.0" r="0.44"/><circle cx="975.5" cy="319.7" r="0.54"/><circle cx="1011.3" cy="306.5" r="0.32"/><circle cx="978.0" cy="311.6" r="0.32"/><circle cx="981.8" cy="321.9" r="0.52"/><circle cx="984.1" cy="306.5" r="0.62"/><circle cx="1013.2" cy="309.5" r="0.66"/><circle cx="1030.0" cy="309.8" r="0.55"/><circle cx="983.4" cy="316.0" r="0.68"/><circle cx="987.2" cy="316.3" r="0.77"/><circle cx="973.5" cy="319.0" r="0.54"/><circle cx="990.6" cy="306.2" r="0.43"/><circle cx="1031.2" cy="313.6" r="0.48"/><circle cx="1004.6" cy="319.7" r="0.55"/><circle cx="1035.5" cy="309.6" r="0.41"/><circle cx="1030.7" cy="313.7" r="0.32"/><circle cx="1018.4" cy="315.8" r="0.36"/><circle cx="1023.7" cy="318.5" r="0.62"/><circle cx="1006.2" cy="311.7" r="0.65"/><circle cx="991.1" cy="321.5" r="0.60"/><circle cx="1013.8" cy="321.5" r="0.79"/><circle cx="1002.6" cy="305.3" r="0.56"/><circle cx="980.4" cy="308.5" r="0.42"/><circle cx="1025.0" cy="313.7" r="0.34"/><circle cx="1000.9" cy="316.9" r="0.31"/><circle cx="1015.7" cy="311.0" r="0.31"/><circle cx="979.8" cy="306.9" r="0.58"/><circle cx="994.1" cy="311.4" r="0.46"/><circle cx="963.1" cy="309.5" r="0.62"/><circle cx="1003.0" cy="314.8" r="0.38"/><circle cx="1017.1" cy="316.2" r="0.78"/><circle cx="984.5" cy="317.6" r="0.44"/><circle cx="1007.9" cy="321.1" r="0.53"/><circle cx="999.2" cy="307.8" r="0.78"/><circle cx="1013.9" cy="309.5" r="0.44"/><circle cx="1038.3" cy="314.2" r="0.69"/><circle cx="979.2" cy="319.8" r="0.65"/><circle cx="1030.0" cy="312.7" r="0.76"/><circle cx="1005.5" cy="305.9" r="0.75"/><circle cx="984.1" cy="321.5" r="0.57"/><circle cx="992.0" cy="313.4" r="0.49"/><circle cx="992.1" cy="315.7" r="0.62"/><circle cx="1033.1" cy="310.0" r="0.78"/><circle cx="999.2" cy="315.9" r="0.51"/><circle cx="1022.8" cy="313.9" r="0.30"/><circle cx="991.2" cy="315.8" r="0.43"/><circle cx="974.9" cy="315.9" r="0.53"/><circle cx="974.2" cy="311.7" r="0.51"/><circle cx="994.6" cy="304.7" r="0.45"/><circle cx="992.8" cy="318.1" r="0.36"/><circle cx="1010.7" cy="310.6" r="0.69"/><circle cx="1014.4" cy="306.8" r="0.65"/><circle cx="989.6" cy="319.7" r="0.31"/><circle cx="985.1" cy="313.3" r="0.45"/><circle cx="991.2" cy="314.5" r="0.42"/><circle cx="1028.7" cy="308.7" r="0.65"/><circle cx="1030.1" cy="306.5" r="0.53"/><circle cx="984.8" cy="313.3" r="0.79"/><circle cx="1015.6" cy="303.9" r="0.36"/><circle cx="987.4" cy="304.1" r="0.77"/><circle cx="1000.8" cy="303.6" r="0.67"/><circle cx="979.1" cy="320.6" r="0.32"/><circle cx="969.7" cy="310.4" r="0.71"/></g>
<g fill="#15121a" fill-opacity="0.6"><circle cx="969.9" cy="309.6" r="0.35"/><circle cx="977.3" cy="297.2" r="0.31"/><circle cx="971.2" cy="298.5" r="0.49"/><circle cx="1008.7" cy="299.1" r="0.78"/><circle cx="1021.1" cy="301.3" r="0.81"/><circle cx="1018.9" cy="297.2" r="0.54"/><circle cx="1017.0" cy="322.7" r="0.40"/><circle cx="967.7" cy="318.3" r="0.88"/><circle cx="1022.6" cy="304.5" r="0.53"/><circle cx="1036.4" cy="317.4" r="0.70"/><circle cx="1035.4" cy="317.0" r="0.79"/><circle cx="1010.8" cy="312.8" r="0.34"/><circle cx="978.6" cy="313.8" r="0.31"/><circle cx="995.0" cy="313.7" r="0.48"/><circle cx="985.6" cy="320.1" r="0.39"/><circle cx="990.1" cy="297.6" r="0.53"/><circle cx="1037.1" cy="313.4" r="0.32"/><circle cx="1034.5" cy="314.7" r="0.61"/><circle cx="971.7" cy="304.0" r="0.41"/><circle cx="1008.4" cy="296.5" r="0.87"/><circle cx="951.3" cy="313.7" r="0.65"/><circle cx="979.8" cy="303.4" r="0.56"/><circle cx="1010.9" cy="310.6" r="0.70"/><circle cx="994.3" cy="299.5" r="0.31"/><circle cx="950.5" cy="313.3" r="0.77"/><circle cx="954.6" cy="306.8" r="0.66"/><circle cx="949.1" cy="315.9" r="0.75"/><circle cx="989.1" cy="320.5" r="0.53"/><circle cx="1031.7" cy="306.5" r="0.54"/><circle cx="981.5" cy="316.3" r="0.83"/><circle cx="947.9" cy="312.7" r="0.80"/><circle cx="1016.1" cy="302.0" r="0.52"/><circle cx="1037.5" cy="301.5" r="0.87"/><circle cx="983.1" cy="310.6" r="0.72"/><circle cx="1014.9" cy="312.7" r="0.82"/><circle cx="1010.4" cy="322.5" r="0.69"/><circle cx="1004.7" cy="296.7" r="0.85"/><circle cx="965.2" cy="301.8" r="0.33"/><circle cx="1008.3" cy="306.1" r="0.69"/><circle cx="1028.3" cy="320.2" r="0.53"/><circle cx="1049.5" cy="308.9" r="0.84"/><circle cx="1002.2" cy="306.6" r="0.80"/><circle cx="946.9" cy="305.9" r="0.72"/><circle cx="949.0" cy="311.6" r="0.53"/><circle cx="964.2" cy="307.2" r="0.75"/><circle cx="1013.7" cy="312.7" r="0.77"/><circle cx="985.0" cy="312.4" r="0.36"/><circle cx="1012.6" cy="315.0" r="0.68"/><circle cx="1012.0" cy="303.3" r="0.82"/><circle cx="1013.6" cy="313.8" r="0.39"/><circle cx="1002.2" cy="305.2" r="0.65"/><circle cx="1041.6" cy="306.4" r="0.31"/><circle cx="953.4" cy="311.2" r="0.81"/><circle cx="945.4" cy="307.4" r="0.50"/><circle cx="988.5" cy="313.8" r="0.60"/><circle cx="969.9" cy="321.1" r="0.79"/><circle cx="998.9" cy="302.1" r="0.36"/><circle cx="1042.0" cy="314.8" r="0.57"/><circle cx="1024.3" cy="320.5" r="0.58"/><circle cx="995.8" cy="307.5" r="0.42"/><circle cx="997.2" cy="321.0" r="0.86"/><circle cx="1049.1" cy="310.7" r="0.68"/><circle cx="1016.4" cy="307.4" r="0.54"/><circle cx="1035.8" cy="313.7" r="0.31"/><circle cx="1005.3" cy="317.4" r="0.60"/><circle cx="1018.2" cy="305.4" r="0.52"/><circle cx="977.6" cy="303.8" r="0.87"/><circle cx="1036.4" cy="311.4" r="0.33"/><circle cx="1010.2" cy="323.9" r="0.75"/><circle cx="1006.8" cy="305.1" r="0.67"/><circle cx="986.4" cy="300.2" r="0.40"/><circle cx="951.7" cy="315.5" r="0.53"/><circle cx="971.3" cy="298.0" r="0.80"/><circle cx="1033.4" cy="306.1" r="0.76"/><circle cx="1043.2" cy="308.4" r="0.57"/><circle cx="1007.9" cy="320.4" r="0.72"/><circle cx="1043.4" cy="303.9" r="0.34"/><circle cx="998.6" cy="314.1" r="0.47"/><circle cx="966.2" cy="308.5" r="0.55"/><circle cx="995.2" cy="313.4" r="0.51"/><circle cx="1010.7" cy="296.7" r="0.41"/><circle cx="1030.7" cy="308.8" r="0.60"/><circle cx="1031.6" cy="314.6" r="0.40"/><circle cx="991.2" cy="320.6" r="0.51"/><circle cx="983.5" cy="300.7" r="0.47"/><circle cx="964.2" cy="314.6" r="0.75"/><circle cx="969.7" cy="315.2" r="0.67"/><circle cx="978.8" cy="303.2" r="0.35"/><circle cx="963.7" cy="320.7" r="0.52"/><circle cx="1011.8" cy="308.4" r="0.44"/><circle cx="987.4" cy="301.7" r="0.56"/><circle cx="961.2" cy="298.9" r="0.78"/><circle cx="974.3" cy="315.5" r="0.86"/><circle cx="994.7" cy="310.5" r="0.31"/><circle cx="1014.3" cy="310.1" r="0.50"/><circle cx="1033.9" cy="317.6" r="0.77"/><circle cx="977.5" cy="310.3" r="0.77"/><circle cx="1039.8" cy="309.6" r="0.73"/><circle cx="1002.1" cy="301.8" r="0.82"/><circle cx="999.4" cy="300.2" r="0.65"/><circle cx="1034.4" cy="299.8" r="0.40"/><circle cx="1009.8" cy="299.1" r="0.76"/><circle cx="1007.0" cy="309.3" r="0.57"/><circle cx="1002.3" cy="308.0" r="0.88"/><circle cx="988.9" cy="311.3" r="0.75"/><circle cx="1010.0" cy="321.6" r="0.45"/><circle cx="1009.6" cy="320.0" r="0.83"/><circle cx="1028.6" cy="314.8" r="0.55"/><circle cx="1041.5" cy="317.3" r="0.56"/><circle cx="1044.2" cy="307.5" r="0.54"/><circle cx="960.9" cy="313.9" r="0.53"/><circle cx="1022.1" cy="322.5" r="0.75"/><circle cx="1032.5" cy="303.5" r="0.60"/><circle cx="991.7" cy="323.2" r="0.43"/><circle cx="1019.2" cy="315.5" r="0.51"/><circle cx="968.3" cy="304.7" r="0.68"/><circle cx="954.4" cy="303.5" r="0.37"/><circle cx="1017.9" cy="309.7" r="0.36"/><circle cx="1032.1" cy="311.3" r="0.69"/><circle cx="966.5" cy="315.4" r="0.50"/><circle cx="945.1" cy="306.7" r="0.38"/><circle cx="955.0" cy="317.7" r="0.63"/><circle cx="1016.5" cy="300.2" r="0.68"/><circle cx="1024.8" cy="297.6" r="0.41"/><circle cx="990.5" cy="304.8" r="0.81"/><circle cx="1001.5" cy="309.1" r="0.53"/><circle cx="958.4" cy="300.6" r="0.46"/><circle cx="1004.7" cy="310.2" r="0.60"/><circle cx="999.8" cy="312.3" r="0.90"/><circle cx="997.3" cy="318.1" r="0.48"/><circle cx="1028.6" cy="311.0" r="0.82"/><circle cx="1038.1" cy="314.0" r="0.84"/><circle cx="1022.1" cy="320.6" r="0.47"/><circle cx="975.7" cy="314.5" r="0.51"/><circle cx="1000.1" cy="320.0" r="0.53"/><circle cx="1020.8" cy="320.6" r="0.31"/><circle cx="1008.5" cy="322.2" r="0.50"/><circle cx="1006.6" cy="297.9" r="0.76"/><circle cx="1007.1" cy="296.5" r="0.62"/><circle cx="953.8" cy="304.7" r="0.70"/><circle cx="1015.8" cy="315.2" r="0.49"/><circle cx="952.0" cy="311.0" r="0.70"/><circle cx="1043.9" cy="314.8" r="0.75"/><circle cx="990.9" cy="301.9" r="0.62"/><circle cx="1042.6" cy="311.6" r="0.33"/><circle cx="1009.8" cy="320.7" r="0.59"/><circle cx="1015.3" cy="299.9" r="0.70"/><circle cx="999.0" cy="318.9" r="0.60"/><circle cx="989.0" cy="308.3" r="0.83"/><circle cx="1049.0" cy="310.7" r="0.45"/><circle cx="1020.8" cy="302.6" r="0.83"/><circle cx="951.3" cy="307.0" r="0.85"/><circle cx="1006.4" cy="316.3" r="0.34"/><circle cx="1030.9" cy="318.9" r="0.65"/><circle cx="1043.2" cy="312.2" r="0.44"/><circle cx="1027.8" cy="303.8" r="0.43"/><circle cx="970.1" cy="299.8" r="0.42"/><circle cx="1026.5" cy="308.4" r="0.30"/><circle cx="968.8" cy="310.1" r="0.51"/><circle cx="1036.7" cy="309.4" r="0.34"/></g>
<path d="M930.0,282.0 C938.3,281.0 963.3,276.2 980.0,276.0 C996.7,275.8 1015.0,277.7 1030.0,281.0 C1045.0,284.3 1058.3,291.2 1070.0,296.0 C1081.7,300.8 1086.7,305.7 1100.0,310.0 C1113.3,314.3 1133.3,318.7 1150.0,322.0 C1166.7,325.3 1185.7,328.0 1200.0,330.0 C1214.3,332.0 1230.0,333.3 1236.0,334.0 " fill="none" stroke="#9a7858" stroke-width="7" stroke-opacity="0.6" stroke-linecap="round" filter="url(#b1)" />
<ellipse cx="858" cy="330" rx="34" ry="28" fill="#3a3a48" fill-opacity="0.6" filter="url(#b2)"/>
<circle cx="862.2" cy="341.1" r="22.8" fill="url(#eyeA)"/>
<ellipse cx="825.6" cy="342.2" rx="4.5" ry="4.5" fill="#1a1414" fill-opacity="0.9"/>
<ellipse cx="1069" cy="371" rx="5.5" ry="5.5" fill="#151515" fill-opacity="0.95"/>
<g fill="#1e1e30" fill-opacity="0.8"><circle cx="978.5" cy="279.8" r="0.58"/><circle cx="1200.2" cy="325.0" r="0.85"/><circle cx="1050.1" cy="295.1" r="0.87"/><circle cx="1059.8" cy="309.0" r="0.83"/><circle cx="1169.1" cy="322.0" r="0.58"/><circle cx="882.3" cy="313.7" r="0.58"/><circle cx="1092.3" cy="315.4" r="0.53"/><circle cx="1146.3" cy="314.4" r="0.93"/><circle cx="1169.9" cy="318.8" r="0.86"/><circle cx="1124.7" cy="313.9" r="0.83"/><circle cx="871.5" cy="320.5" r="0.84"/><circle cx="1227.7" cy="322.2" r="0.66"/><circle cx="1077.9" cy="308.9" r="0.59"/><circle cx="1189.3" cy="328.3" r="0.65"/><circle cx="880.7" cy="312.5" r="0.70"/><circle cx="1095.9" cy="314.1" r="0.70"/><circle cx="829.0" cy="320.5" r="0.73"/><circle cx="1122.9" cy="318.8" r="0.87"/><circle cx="1044.6" cy="308.9" r="0.83"/><circle cx="953.9" cy="279.0" r="0.53"/><circle cx="836.5" cy="327.7" r="0.94"/><circle cx="1132.6" cy="314.3" r="0.83"/><circle cx="873.1" cy="319.6" r="0.83"/><circle cx="1131.8" cy="322.5" r="0.71"/><circle cx="1172.9" cy="329.6" r="0.62"/><circle cx="1002.0" cy="298.5" r="0.84"/><circle cx="990.8" cy="287.0" r="0.98"/><circle cx="934.8" cy="285.5" r="0.84"/><circle cx="935.2" cy="308.9" r="0.66"/><circle cx="1204.6" cy="322.5" r="0.94"/><circle cx="1132.5" cy="324.5" r="0.61"/><circle cx="888.3" cy="293.0" r="0.59"/><circle cx="1097.3" cy="305.8" r="0.62"/><circle cx="1055.9" cy="290.2" r="0.66"/><circle cx="915.0" cy="304.9" r="0.56"/><circle cx="1235.0" cy="329.6" r="0.86"/><circle cx="1049.9" cy="298.5" r="0.99"/><circle cx="1191.8" cy="328.0" r="0.51"/><circle cx="1065.2" cy="314.7" r="0.82"/><circle cx="1033.4" cy="299.3" r="0.59"/><circle cx="1122.7" cy="324.9" r="0.54"/><circle cx="1032.1" cy="297.2" r="0.68"/><circle cx="1103.6" cy="324.4" r="0.95"/><circle cx="948.0" cy="280.7" r="0.93"/><circle cx="1074.6" cy="314.0" r="0.93"/><circle cx="936.2" cy="298.1" r="0.65"/><circle cx="1151.8" cy="324.9" r="0.62"/><circle cx="1028.1" cy="296.2" r="0.62"/><circle cx="895.9" cy="303.6" r="0.54"/><circle cx="1026.0" cy="307.5" r="0.91"/><circle cx="842.6" cy="325.3" r="0.86"/><circle cx="1114.6" cy="310.8" r="0.88"/><circle cx="901.3" cy="311.9" r="0.66"/><circle cx="972.5" cy="278.2" r="0.93"/><circle cx="912.3" cy="311.6" r="0.76"/><circle cx="881.8" cy="311.9" r="0.77"/><circle cx="831.2" cy="329.4" r="0.64"/><circle cx="829.9" cy="329.3" r="0.86"/><circle cx="980.5" cy="278.0" r="0.76"/><circle cx="1064.0" cy="307.5" r="0.74"/><circle cx="1056.2" cy="306.4" r="0.59"/><circle cx="895.1" cy="304.1" r="0.88"/><circle cx="1154.0" cy="327.5" r="0.72"/><circle cx="1116.9" cy="312.9" r="0.69"/><circle cx="847.8" cy="323.8" r="1.00"/><circle cx="1098.6" cy="320.1" r="0.69"/><circle cx="1150.7" cy="315.6" r="0.69"/><circle cx="965.9" cy="304.2" r="0.59"/><circle cx="886.2" cy="295.2" r="0.92"/><circle cx="951.2" cy="307.0" r="0.66"/><circle cx="1168.1" cy="318.5" r="0.95"/><circle cx="1225.0" cy="330.5" r="0.85"/><circle cx="1192.9" cy="329.3" r="0.98"/><circle cx="934.6" cy="307.3" r="0.89"/><circle cx="963.9" cy="278.8" r="0.95"/><circle cx="1016.5" cy="292.3" r="0.94"/><circle cx="1021.3" cy="282.9" r="0.84"/><circle cx="1041.4" cy="289.3" r="0.85"/><circle cx="1196.1" cy="320.4" r="0.91"/><circle cx="1133.5" cy="321.2" r="0.60"/><circle cx="1096.6" cy="310.0" r="0.63"/><circle cx="1175.0" cy="319.8" r="0.55"/><circle cx="1171.7" cy="330.1" r="0.65"/><circle cx="988.5" cy="290.6" r="0.88"/><circle cx="825.1" cy="330.7" r="0.62"/><circle cx="1206.5" cy="323.1" r="0.97"/><circle cx="1007.3" cy="296.1" r="0.52"/><circle cx="904.3" cy="296.0" r="0.68"/><circle cx="892.0" cy="303.1" r="0.54"/><circle cx="1055.6" cy="313.1" r="0.93"/><circle cx="1078.7" cy="318.5" r="0.86"/><circle cx="1083.8" cy="307.7" r="0.54"/><circle cx="1191.6" cy="329.1" r="0.90"/><circle cx="1106.6" cy="322.9" r="0.98"/><circle cx="1224.3" cy="329.3" r="0.51"/><circle cx="1214.1" cy="326.0" r="0.73"/><circle cx="999.3" cy="281.2" r="0.52"/><circle cx="1077.2" cy="309.0" r="0.54"/><circle cx="1203.9" cy="329.4" r="0.93"/><circle cx="1043.6" cy="293.4" r="0.74"/><circle cx="974.2" cy="307.2" r="0.96"/><circle cx="1193.8" cy="324.0" r="0.76"/><circle cx="1105.8" cy="312.8" r="0.59"/><circle cx="1229.7" cy="325.3" r="0.64"/><circle cx="1024.8" cy="277.9" r="0.76"/><circle cx="886.7" cy="315.8" r="0.54"/><circle cx="1153.6" cy="318.6" r="0.89"/><circle cx="1153.1" cy="329.0" r="0.59"/><circle cx="1229.6" cy="324.1" r="0.68"/><circle cx="823.1" cy="329.9" r="0.54"/><circle cx="1051.1" cy="311.6" r="0.89"/><circle cx="1089.5" cy="302.4" r="0.99"/><circle cx="971.7" cy="307.1" r="0.57"/><circle cx="944.4" cy="309.6" r="0.87"/><circle cx="897.5" cy="302.7" r="0.77"/><circle cx="924.8" cy="287.8" r="0.54"/><circle cx="1031.9" cy="291.2" r="0.67"/><circle cx="1019.5" cy="286.1" r="0.69"/><circle cx="1137.8" cy="315.4" r="0.55"/><circle cx="1005.9" cy="282.7" r="0.74"/><circle cx="1177.7" cy="329.5" r="0.91"/><circle cx="1203.0" cy="320.4" r="0.67"/><circle cx="866.4" cy="305.2" r="0.63"/><circle cx="919.8" cy="292.8" r="0.97"/><circle cx="1034.3" cy="307.7" r="0.76"/><circle cx="1131.5" cy="323.4" r="0.80"/><circle cx="1204.5" cy="325.3" r="0.75"/><circle cx="915.4" cy="286.6" r="0.71"/><circle cx="989.0" cy="275.1" r="0.98"/><circle cx="827.3" cy="326.4" r="0.62"/><circle cx="989.9" cy="301.5" r="0.98"/><circle cx="985.8" cy="297.2" r="0.95"/><circle cx="940.7" cy="290.8" r="0.72"/><circle cx="1168.1" cy="320.0" r="0.95"/><circle cx="897.1" cy="309.3" r="0.82"/><circle cx="834.1" cy="319.2" r="0.92"/><circle cx="987.2" cy="272.5" r="0.74"/><circle cx="1045.0" cy="296.4" r="0.71"/><circle cx="1210.3" cy="326.8" r="0.72"/><circle cx="1005.9" cy="300.2" r="0.62"/><circle cx="1020.5" cy="300.7" r="0.55"/><circle cx="881.6" cy="295.3" r="0.83"/><circle cx="1152.8" cy="324.5" r="0.81"/><circle cx="833.2" cy="320.6" r="0.73"/><circle cx="960.1" cy="282.1" r="0.69"/><circle cx="914.6" cy="285.9" r="0.79"/><circle cx="830.1" cy="324.1" r="0.70"/><circle cx="1157.1" cy="325.4" r="0.73"/><circle cx="822.5" cy="332.6" r="0.86"/><circle cx="1085.4" cy="320.9" r="0.75"/><circle cx="984.7" cy="290.6" r="0.55"/><circle cx="1080.6" cy="298.1" r="0.83"/><circle cx="1074.5" cy="310.2" r="0.59"/><circle cx="1116.3" cy="327.2" r="0.99"/><circle cx="1138.3" cy="315.6" r="0.89"/><circle cx="893.7" cy="318.7" r="0.52"/><circle cx="827.0" cy="326.1" r="0.54"/><circle cx="1216.2" cy="330.5" r="0.63"/><circle cx="1181.8" cy="321.2" r="0.91"/><circle cx="871.8" cy="321.1" r="0.72"/><circle cx="918.2" cy="296.8" r="0.50"/><circle cx="835.5" cy="321.1" r="0.80"/><circle cx="1234.7" cy="329.0" r="0.67"/><circle cx="928.8" cy="280.4" r="0.96"/><circle cx="1111.0" cy="313.9" r="0.88"/><circle cx="1107.1" cy="319.8" r="0.73"/><circle cx="1182.1" cy="329.3" r="0.88"/><circle cx="897.2" cy="302.4" r="0.82"/><circle cx="1215.9" cy="325.4" r="0.74"/><circle cx="848.3" cy="306.7" r="0.63"/><circle cx="1101.4" cy="310.1" r="0.88"/><circle cx="1087.4" cy="305.6" r="0.76"/><circle cx="1167.1" cy="316.0" r="0.81"/><circle cx="1132.9" cy="328.3" r="0.67"/><circle cx="1085.1" cy="316.5" r="0.65"/><circle cx="1142.5" cy="325.3" r="0.98"/><circle cx="992.4" cy="274.5" r="0.76"/><circle cx="1102.0" cy="324.0" r="0.88"/><circle cx="1047.6" cy="308.7" r="0.93"/><circle cx="1074.6" cy="299.4" r="0.50"/><circle cx="1063.9" cy="288.9" r="0.68"/><circle cx="1231.6" cy="325.9" r="0.84"/><circle cx="1125.7" cy="317.3" r="0.80"/><circle cx="1188.4" cy="326.6" r="0.67"/><circle cx="1233.8" cy="329.9" r="0.62"/><circle cx="1156.2" cy="326.6" r="0.94"/><circle cx="1168.0" cy="327.2" r="0.70"/><circle cx="1134.5" cy="325.1" r="0.91"/><circle cx="909.5" cy="315.7" r="0.79"/><circle cx="1198.0" cy="324.1" r="0.89"/><circle cx="1071.3" cy="298.9" r="0.75"/><circle cx="1161.8" cy="319.4" r="0.96"/><circle cx="1124.4" cy="325.0" r="0.76"/><circle cx="1114.8" cy="321.5" r="0.71"/><circle cx="820.8" cy="331.9" r="0.85"/><circle cx="1050.8" cy="295.8" r="0.77"/><circle cx="863.6" cy="314.7" r="0.53"/><circle cx="874.8" cy="297.8" r="0.98"/><circle cx="1197.9" cy="325.5" r="0.97"/><circle cx="907.1" cy="306.3" r="0.74"/><circle cx="864.8" cy="312.8" r="0.56"/><circle cx="936.7" cy="282.8" r="0.62"/><circle cx="1193.0" cy="323.6" r="0.77"/><circle cx="880.1" cy="298.5" r="0.55"/><circle cx="1111.8" cy="319.8" r="0.87"/><circle cx="1063.9" cy="295.5" r="0.70"/><circle cx="972.6" cy="306.2" r="0.85"/><circle cx="1166.3" cy="325.1" r="0.98"/><circle cx="1138.1" cy="313.1" r="0.54"/><circle cx="836.1" cy="328.4" r="0.61"/><circle cx="1012.5" cy="294.0" r="0.61"/><circle cx="934.8" cy="308.4" r="0.59"/><circle cx="1166.0" cy="322.3" r="0.84"/><circle cx="983.2" cy="296.1" r="0.85"/><circle cx="995.9" cy="281.9" r="0.71"/><circle cx="1130.1" cy="312.5" r="0.60"/><circle cx="965.9" cy="298.1" r="0.75"/><circle cx="913.6" cy="311.5" r="0.79"/><circle cx="1190.2" cy="321.9" r="0.98"/><circle cx="1061.7" cy="297.4" r="0.58"/><circle cx="1153.0" cy="317.2" r="0.91"/><circle cx="1157.7" cy="316.9" r="0.86"/><circle cx="1111.7" cy="311.0" r="0.88"/><circle cx="1215.1" cy="323.3" r="0.77"/><circle cx="990.8" cy="279.1" r="0.58"/><circle cx="1096.3" cy="324.0" r="0.56"/><circle cx="829.0" cy="326.6" r="0.63"/><circle cx="1181.2" cy="320.4" r="0.51"/><circle cx="949.1" cy="289.7" r="0.72"/><circle cx="990.6" cy="280.8" r="0.98"/><circle cx="825.7" cy="324.7" r="0.91"/><circle cx="903.8" cy="293.5" r="0.70"/><circle cx="1083.0" cy="316.1" r="0.89"/><circle cx="893.7" cy="317.4" r="0.59"/><circle cx="1155.8" cy="327.7" r="0.56"/><circle cx="977.5" cy="279.2" r="0.73"/><circle cx="1145.4" cy="326.3" r="0.88"/><circle cx="832.4" cy="320.0" r="0.96"/><circle cx="1126.7" cy="324.7" r="0.59"/><circle cx="884.8" cy="306.7" r="0.80"/><circle cx="871.8" cy="319.4" r="0.79"/><circle cx="1206.0" cy="329.5" r="0.70"/><circle cx="934.7" cy="306.9" r="0.75"/><circle cx="1069.8" cy="309.9" r="0.99"/><circle cx="1034.2" cy="293.2" r="0.93"/><circle cx="851.8" cy="313.2" r="0.61"/><circle cx="1074.1" cy="313.7" r="0.71"/><circle cx="906.3" cy="290.1" r="0.95"/><circle cx="1063.5" cy="314.1" r="0.63"/><circle cx="938.8" cy="283.6" r="0.82"/><circle cx="1053.5" cy="309.7" r="0.79"/><circle cx="959.1" cy="276.8" r="0.89"/><circle cx="1214.5" cy="323.1" r="0.66"/><circle cx="1038.6" cy="291.7" r="0.87"/><circle cx="1019.9" cy="290.9" r="0.69"/><circle cx="924.3" cy="311.0" r="0.97"/><circle cx="907.3" cy="297.5" r="0.86"/><circle cx="967.1" cy="288.6" r="0.78"/><circle cx="932.5" cy="291.9" r="0.86"/><circle cx="1210.7" cy="319.3" r="0.94"/></g>
<g fill="#1e1e30" fill-opacity="0.8"><circle cx="1172.5" cy="332.8" r="0.64"/><circle cx="1099.3" cy="348.4" r="0.84"/><circle cx="1217.0" cy="334.5" r="0.71"/><circle cx="1065.2" cy="328.6" r="0.75"/><circle cx="1064.7" cy="327.7" r="0.82"/><circle cx="1155.9" cy="336.6" r="0.79"/><circle cx="1202.5" cy="332.8" r="0.90"/><circle cx="1182.9" cy="338.9" r="0.58"/><circle cx="1228.5" cy="338.1" r="0.55"/><circle cx="1077.0" cy="352.3" r="0.80"/><circle cx="1202.1" cy="345.9" r="0.77"/><circle cx="1231.3" cy="337.9" r="0.78"/><circle cx="1206.0" cy="343.8" r="0.93"/><circle cx="1161.6" cy="346.3" r="0.52"/><circle cx="1100.1" cy="336.2" r="0.54"/><circle cx="1101.0" cy="331.2" r="0.64"/><circle cx="1171.9" cy="339.4" r="0.69"/><circle cx="1096.9" cy="335.3" r="0.97"/><circle cx="1174.1" cy="344.2" r="0.59"/><circle cx="1188.3" cy="335.6" r="0.69"/><circle cx="1234.2" cy="339.7" r="0.78"/><circle cx="1180.5" cy="348.6" r="0.89"/><circle cx="1100.3" cy="329.2" r="0.66"/><circle cx="1107.1" cy="334.8" r="0.97"/><circle cx="1214.2" cy="338.2" r="0.83"/><circle cx="1129.6" cy="351.8" r="0.73"/><circle cx="1106.6" cy="335.7" r="0.78"/><circle cx="1106.2" cy="344.4" r="0.95"/><circle cx="1130.3" cy="336.2" r="1.00"/><circle cx="1149.7" cy="333.8" r="0.52"/><circle cx="1079.3" cy="344.5" r="0.90"/><circle cx="1134.3" cy="332.8" r="0.69"/><circle cx="1235.3" cy="338.2" r="0.99"/><circle cx="1211.5" cy="333.1" r="0.86"/><circle cx="1180.0" cy="342.7" r="0.63"/><circle cx="1172.8" cy="334.5" r="0.72"/><circle cx="1139.9" cy="352.2" r="0.94"/><circle cx="1106.4" cy="342.2" r="0.59"/><circle cx="1220.6" cy="346.6" r="0.65"/><circle cx="1172.5" cy="344.2" r="0.58"/><circle cx="1194.2" cy="342.6" r="0.89"/><circle cx="1153.3" cy="332.0" r="0.66"/><circle cx="1063.4" cy="354.9" r="0.94"/><circle cx="1206.4" cy="338.2" r="0.53"/><circle cx="1214.5" cy="348.6" r="0.54"/><circle cx="1145.5" cy="333.2" r="0.88"/><circle cx="1194.8" cy="335.0" r="0.74"/><circle cx="1156.8" cy="337.5" r="0.94"/><circle cx="1134.5" cy="336.1" r="0.77"/><circle cx="1188.5" cy="336.3" r="0.66"/><circle cx="1235.1" cy="339.4" r="0.72"/><circle cx="1151.1" cy="334.4" r="0.61"/><circle cx="1119.5" cy="344.7" r="0.62"/><circle cx="1098.8" cy="330.1" r="0.82"/><circle cx="1100.3" cy="352.9" r="0.93"/><circle cx="1072.5" cy="330.5" r="0.83"/><circle cx="1097.7" cy="331.6" r="0.97"/><circle cx="1160.5" cy="341.7" r="0.89"/><circle cx="1202.1" cy="336.1" r="0.55"/><circle cx="1135.9" cy="340.8" r="0.73"/><circle cx="1188.3" cy="345.2" r="0.99"/><circle cx="1077.3" cy="336.7" r="0.67"/><circle cx="1211.7" cy="337.1" r="0.60"/><circle cx="1139.0" cy="340.7" r="0.64"/><circle cx="1104.0" cy="353.2" r="0.72"/><circle cx="1211.6" cy="342.2" r="0.53"/><circle cx="1235.9" cy="340.7" r="0.98"/><circle cx="1223.0" cy="346.0" r="0.58"/><circle cx="1145.5" cy="336.3" r="0.70"/><circle cx="1070.3" cy="335.3" r="0.99"/><circle cx="1106.7" cy="349.5" r="0.73"/><circle cx="1134.4" cy="352.6" r="1.00"/><circle cx="1157.8" cy="346.7" r="0.58"/><circle cx="1112.2" cy="353.9" r="0.79"/><circle cx="1155.4" cy="347.3" r="0.53"/><circle cx="1162.8" cy="342.2" r="0.93"/><circle cx="1087.7" cy="355.1" r="0.54"/><circle cx="1092.7" cy="344.2" r="0.84"/><circle cx="1101.4" cy="331.8" r="0.95"/><circle cx="1103.3" cy="344.6" r="0.81"/><circle cx="1133.8" cy="344.3" r="0.76"/><circle cx="1224.5" cy="336.4" r="0.86"/><circle cx="1102.0" cy="339.2" r="0.84"/><circle cx="1112.8" cy="338.0" r="0.88"/><circle cx="1072.8" cy="338.5" r="1.00"/><circle cx="1235.3" cy="334.1" r="0.61"/><circle cx="1106.7" cy="353.3" r="0.94"/><circle cx="1214.8" cy="339.1" r="0.58"/><circle cx="1206.7" cy="345.3" r="0.81"/><circle cx="1233.8" cy="340.0" r="0.50"/><circle cx="1203.8" cy="338.1" r="0.83"/><circle cx="1225.3" cy="335.4" r="0.56"/><circle cx="1078.8" cy="341.9" r="0.64"/><circle cx="1166.5" cy="346.5" r="0.60"/><circle cx="1171.6" cy="337.5" r="0.74"/><circle cx="1219.3" cy="346.4" r="0.55"/><circle cx="1134.5" cy="337.5" r="0.50"/><circle cx="1195.7" cy="344.3" r="0.63"/><circle cx="1190.5" cy="342.8" r="0.71"/><circle cx="1061.7" cy="322.5" r="0.94"/><circle cx="1219.1" cy="341.7" r="0.92"/><circle cx="1162.5" cy="335.2" r="0.56"/><circle cx="1114.3" cy="352.1" r="0.90"/><circle cx="1211.5" cy="348.1" r="0.61"/><circle cx="1103.9" cy="331.6" r="0.89"/><circle cx="1215.6" cy="339.7" r="0.81"/><circle cx="1087.2" cy="354.2" r="0.93"/><circle cx="1231.8" cy="342.7" r="0.94"/><circle cx="1064.4" cy="347.7" r="0.67"/><circle cx="1223.8" cy="345.2" r="0.93"/><circle cx="1202.7" cy="337.5" r="0.89"/><circle cx="1079.0" cy="352.9" r="0.93"/><circle cx="1099.1" cy="350.6" r="0.73"/><circle cx="1113.7" cy="349.6" r="0.61"/><circle cx="1064.2" cy="327.4" r="0.66"/><circle cx="1212.1" cy="349.2" r="0.64"/><circle cx="1172.9" cy="340.1" r="0.99"/><circle cx="1154.4" cy="351.3" r="0.56"/><circle cx="1230.8" cy="335.6" r="0.98"/><circle cx="1106.7" cy="332.1" r="0.72"/><circle cx="1188.2" cy="338.4" r="0.80"/><circle cx="1150.0" cy="339.9" r="0.79"/><circle cx="1104.8" cy="347.6" r="0.50"/><circle cx="1222.9" cy="341.4" r="0.86"/><circle cx="1190.6" cy="345.1" r="0.68"/><circle cx="1072.3" cy="345.9" r="0.67"/><circle cx="1115.2" cy="350.9" r="0.86"/><circle cx="1112.9" cy="337.8" r="0.70"/><circle cx="1130.8" cy="337.9" r="0.56"/><circle cx="1134.0" cy="352.2" r="0.84"/><circle cx="1218.9" cy="342.8" r="0.65"/><circle cx="1156.4" cy="332.1" r="0.64"/><circle cx="1135.7" cy="344.2" r="0.83"/><circle cx="1141.8" cy="341.1" r="0.61"/><circle cx="1143.3" cy="351.0" r="0.90"/><circle cx="1089.9" cy="328.5" r="0.76"/><circle cx="1171.4" cy="338.9" r="0.91"/><circle cx="1192.2" cy="345.1" r="0.61"/><circle cx="1095.0" cy="328.3" r="0.62"/><circle cx="1143.6" cy="349.9" r="0.54"/><circle cx="1132.9" cy="345.4" r="0.60"/><circle cx="1182.6" cy="341.9" r="0.62"/><circle cx="1175.5" cy="332.5" r="0.88"/><circle cx="1195.5" cy="334.6" r="0.71"/><circle cx="1091.0" cy="354.7" r="0.76"/><circle cx="1068.8" cy="330.3" r="0.92"/><circle cx="1140.3" cy="348.9" r="0.83"/><circle cx="1233.9" cy="339.4" r="0.98"/><circle cx="1216.9" cy="342.9" r="0.86"/><circle cx="1148.8" cy="349.3" r="0.77"/><circle cx="1217.9" cy="344.9" r="0.74"/><circle cx="1105.6" cy="335.6" r="0.82"/><circle cx="1194.8" cy="342.2" r="0.81"/><circle cx="1108.3" cy="331.6" r="0.64"/><circle cx="1107.8" cy="337.7" r="0.77"/><circle cx="1084.4" cy="331.9" r="0.85"/><circle cx="1184.3" cy="333.7" r="0.70"/><circle cx="1155.5" cy="340.5" r="0.60"/><circle cx="1133.9" cy="351.4" r="0.79"/><circle cx="1182.4" cy="348.8" r="0.88"/><circle cx="1126.9" cy="331.3" r="0.68"/><circle cx="1192.6" cy="348.4" r="0.98"/><circle cx="1133.7" cy="348.0" r="0.77"/><circle cx="1166.2" cy="336.6" r="0.61"/><circle cx="1136.7" cy="332.1" r="0.67"/><circle cx="1179.5" cy="340.2" r="0.58"/><circle cx="1142.3" cy="334.4" r="0.81"/><circle cx="1064.7" cy="335.0" r="0.78"/><circle cx="1064.8" cy="344.3" r="0.57"/><circle cx="1141.3" cy="332.7" r="0.69"/><circle cx="1097.3" cy="337.0" r="0.88"/><circle cx="1126.7" cy="348.3" r="0.92"/><circle cx="1104.4" cy="331.1" r="0.51"/><circle cx="1154.9" cy="352.5" r="0.67"/><circle cx="1174.4" cy="347.5" r="0.83"/><circle cx="1192.7" cy="350.2" r="0.60"/><circle cx="1063.6" cy="325.8" r="0.56"/><circle cx="1177.8" cy="343.3" r="0.61"/><circle cx="1183.1" cy="347.0" r="0.58"/><circle cx="1166.9" cy="347.0" r="0.56"/><circle cx="1204.2" cy="350.1" r="0.55"/><circle cx="1064.5" cy="331.9" r="0.84"/><circle cx="1228.6" cy="338.9" r="0.86"/><circle cx="1073.4" cy="346.9" r="0.81"/><circle cx="1077.9" cy="349.6" r="0.93"/><circle cx="1165.7" cy="334.7" r="0.99"/><circle cx="1197.7" cy="339.0" r="0.71"/><circle cx="1125.2" cy="342.7" r="0.67"/><circle cx="1209.5" cy="347.1" r="0.55"/><circle cx="1229.1" cy="341.9" r="0.91"/><circle cx="1184.5" cy="340.7" r="0.87"/><circle cx="1229.9" cy="336.9" r="0.90"/><circle cx="1154.7" cy="341.9" r="0.72"/><circle cx="1188.7" cy="337.5" r="0.93"/><circle cx="1206.2" cy="334.3" r="0.94"/><circle cx="1102.9" cy="341.1" r="0.81"/><circle cx="1126.7" cy="331.8" r="0.93"/><circle cx="1092.0" cy="332.9" r="0.90"/><circle cx="1119.9" cy="351.4" r="0.85"/><circle cx="1108.6" cy="329.9" r="0.97"/><circle cx="1075.1" cy="348.0" r="0.74"/><circle cx="1193.4" cy="345.4" r="0.82"/><circle cx="1146.4" cy="348.5" r="0.55"/><circle cx="1099.0" cy="347.1" r="0.65"/><circle cx="1162.4" cy="341.7" r="0.77"/><circle cx="1134.9" cy="347.9" r="0.67"/><circle cx="1183.7" cy="337.6" r="0.63"/><circle cx="1081.2" cy="330.0" r="0.56"/><circle cx="1154.3" cy="347.7" r="0.59"/><circle cx="1098.1" cy="341.4" r="0.86"/><circle cx="1231.9" cy="339.4" r="0.64"/><circle cx="1077.7" cy="329.5" r="0.61"/><circle cx="1091.6" cy="327.0" r="0.77"/><circle cx="1108.3" cy="354.3" r="0.78"/><circle cx="1182.7" cy="334.8" r="0.93"/><circle cx="1146.4" cy="350.2" r="0.79"/><circle cx="1142.6" cy="341.1" r="0.59"/><circle cx="1069.0" cy="355.7" r="0.74"/><circle cx="1204.7" cy="339.9" r="0.54"/><circle cx="1170.8" cy="333.4" r="0.57"/><circle cx="1159.1" cy="338.3" r="1.00"/><circle cx="1080.8" cy="349.2" r="0.80"/><circle cx="1199.2" cy="336.8" r="0.76"/><circle cx="1139.3" cy="341.2" r="0.93"/><circle cx="1234.2" cy="336.4" r="0.81"/><circle cx="1167.3" cy="346.9" r="0.97"/><circle cx="1096.6" cy="333.7" r="0.83"/><circle cx="1087.6" cy="330.7" r="0.54"/><circle cx="1060.5" cy="336.5" r="0.80"/><circle cx="1111.3" cy="335.8" r="0.85"/><circle cx="1183.7" cy="341.1" r="0.84"/><circle cx="1222.6" cy="345.1" r="0.81"/><circle cx="1176.4" cy="350.4" r="0.71"/><circle cx="1155.8" cy="345.3" r="0.95"/><circle cx="1205.5" cy="334.0" r="0.58"/><circle cx="1114.1" cy="348.5" r="0.78"/><circle cx="1110.8" cy="333.1" r="0.84"/><circle cx="1183.2" cy="350.4" r="0.75"/><circle cx="1146.9" cy="333.5" r="0.52"/><circle cx="1136.0" cy="338.5" r="0.63"/><circle cx="1076.1" cy="356.5" r="0.92"/><circle cx="1161.2" cy="351.2" r="1.00"/><circle cx="1178.3" cy="337.6" r="0.52"/><circle cx="1193.1" cy="341.3" r="0.83"/><circle cx="1221.2" cy="336.0" r="0.79"/><circle cx="1171.7" cy="341.9" r="0.55"/><circle cx="1121.2" cy="338.7" r="0.84"/><circle cx="1211.0" cy="338.5" r="0.85"/><circle cx="1110.7" cy="353.4" r="0.91"/><circle cx="1156.8" cy="341.3" r="0.66"/><circle cx="1116.9" cy="353.7" r="0.70"/><circle cx="1150.6" cy="352.5" r="0.83"/><circle cx="1155.5" cy="340.5" r="0.59"/><circle cx="1123.7" cy="348.4" r="0.81"/><circle cx="1193.8" cy="336.3" r="0.77"/><circle cx="1223.3" cy="339.9" r="0.85"/><circle cx="1081.4" cy="356.2" r="0.80"/><circle cx="1102.1" cy="332.9" r="0.78"/><circle cx="1157.2" cy="334.0" r="1.00"/><circle cx="1220.7" cy="340.3" r="0.56"/></g>
<g fill="#1e1e30" fill-opacity="0.8"><circle cx="819.4" cy="344.3" r="0.56"/><circle cx="868.2" cy="344.2" r="0.82"/><circle cx="867.1" cy="332.8" r="0.51"/><circle cx="864.7" cy="324.8" r="0.84"/><circle cx="877.9" cy="350.1" r="0.67"/><circle cx="835.3" cy="353.2" r="0.83"/><circle cx="858.2" cy="308.2" r="0.70"/><circle cx="872.0" cy="351.1" r="0.74"/><circle cx="873.3" cy="337.7" r="0.65"/><circle cx="820.6" cy="329.0" r="0.88"/><circle cx="911.5" cy="311.2" r="0.86"/><circle cx="875.1" cy="305.1" r="0.84"/><circle cx="882.2" cy="362.6" r="0.77"/><circle cx="825.8" cy="344.2" r="0.81"/><circle cx="918.4" cy="312.7" r="0.71"/><circle cx="895.6" cy="305.0" r="0.84"/><circle cx="904.8" cy="293.5" r="0.74"/><circle cx="857.3" cy="314.0" r="0.74"/><circle cx="926.5" cy="330.3" r="0.55"/><circle cx="871.9" cy="351.5" r="0.88"/><circle cx="897.2" cy="295.1" r="0.89"/><circle cx="884.2" cy="301.7" r="0.55"/><circle cx="824.9" cy="345.5" r="0.56"/><circle cx="907.9" cy="297.2" r="0.71"/><circle cx="866.0" cy="302.8" r="0.50"/><circle cx="918.9" cy="365.9" r="0.55"/><circle cx="899.5" cy="366.5" r="0.86"/><circle cx="916.8" cy="313.5" r="0.79"/><circle cx="872.3" cy="362.3" r="0.78"/><circle cx="912.0" cy="355.9" r="0.65"/><circle cx="896.9" cy="299.1" r="0.58"/><circle cx="922.7" cy="318.1" r="0.77"/><circle cx="881.2" cy="315.0" r="0.73"/><circle cx="919.9" cy="312.1" r="0.64"/><circle cx="836.4" cy="322.1" r="0.83"/><circle cx="896.2" cy="364.7" r="0.77"/><circle cx="925.3" cy="302.3" r="0.58"/><circle cx="839.9" cy="330.9" r="0.90"/><circle cx="840.9" cy="334.5" r="0.52"/><circle cx="818.1" cy="341.1" r="0.75"/><circle cx="873.7" cy="360.9" r="0.84"/><circle cx="924.4" cy="332.7" r="0.61"/><circle cx="829.9" cy="349.1" r="0.56"/><circle cx="815.7" cy="343.9" r="0.55"/><circle cx="886.6" cy="309.7" r="0.67"/><circle cx="816.7" cy="339.0" r="0.63"/><circle cx="845.0" cy="316.3" r="0.73"/><circle cx="894.6" cy="307.7" r="0.52"/><circle cx="845.8" cy="347.0" r="0.61"/><circle cx="889.5" cy="299.8" r="0.78"/><circle cx="831.4" cy="326.9" r="0.79"/><circle cx="869.6" cy="342.2" r="0.61"/><circle cx="891.9" cy="315.7" r="0.69"/><circle cx="866.1" cy="360.0" r="0.80"/><circle cx="878.1" cy="356.4" r="0.74"/><circle cx="898.2" cy="330.9" r="0.73"/><circle cx="839.6" cy="358.1" r="0.76"/><circle cx="909.3" cy="336.2" r="0.51"/><circle cx="827.4" cy="353.4" r="0.78"/><circle cx="919.0" cy="359.1" r="0.59"/><circle cx="928.3" cy="335.3" r="0.79"/><circle cx="874.4" cy="315.8" r="0.69"/><circle cx="868.1" cy="319.4" r="0.64"/><circle cx="865.9" cy="317.7" r="0.56"/><circle cx="907.5" cy="316.9" r="0.65"/><circle cx="905.1" cy="343.8" r="0.68"/><circle cx="850.6" cy="352.2" r="0.59"/><circle cx="868.2" cy="324.5" r="0.90"/><circle cx="842.6" cy="341.3" r="0.71"/><circle cx="820.6" cy="332.0" r="0.85"/><circle cx="905.7" cy="306.0" r="0.57"/><circle cx="922.9" cy="333.6" r="0.79"/><circle cx="919.3" cy="306.7" r="0.70"/><circle cx="920.1" cy="300.3" r="0.60"/><circle cx="916.4" cy="354.7" r="0.71"/><circle cx="830.4" cy="351.9" r="0.62"/><circle cx="902.1" cy="310.1" r="0.56"/><circle cx="894.7" cy="322.1" r="0.65"/><circle cx="865.5" cy="330.4" r="0.69"/><circle cx="889.6" cy="302.2" r="0.77"/><circle cx="871.0" cy="354.1" r="0.61"/><circle cx="891.7" cy="308.9" r="0.78"/><circle cx="893.3" cy="333.6" r="0.69"/><circle cx="924.3" cy="314.0" r="0.53"/><circle cx="853.1" cy="307.1" r="0.86"/><circle cx="911.0" cy="302.4" r="0.75"/><circle cx="838.6" cy="354.1" r="0.67"/><circle cx="821.8" cy="343.6" r="0.53"/><circle cx="917.8" cy="361.9" r="0.75"/><circle cx="843.1" cy="350.9" r="0.52"/><circle cx="827.8" cy="332.2" r="0.53"/><circle cx="915.5" cy="340.6" r="0.82"/><circle cx="890.6" cy="310.6" r="0.61"/><circle cx="884.9" cy="352.4" r="0.75"/><circle cx="851.9" cy="352.3" r="0.66"/><circle cx="887.2" cy="356.5" r="0.77"/><circle cx="867.8" cy="338.9" r="0.58"/><circle cx="865.2" cy="354.7" r="0.69"/><circle cx="816.9" cy="345.9" r="0.56"/><circle cx="818.7" cy="341.6" r="0.81"/><circle cx="827.9" cy="337.3" r="0.68"/><circle cx="829.1" cy="343.9" r="0.60"/><circle cx="894.5" cy="330.3" r="0.71"/><circle cx="841.6" cy="350.0" r="0.50"/><circle cx="851.0" cy="311.7" r="0.53"/><circle cx="816.3" cy="341.4" r="0.53"/><circle cx="828.1" cy="336.8" r="0.77"/><circle cx="838.3" cy="344.5" r="0.72"/><circle cx="921.3" cy="352.2" r="0.90"/><circle cx="856.1" cy="357.4" r="0.63"/><circle cx="847.5" cy="331.5" r="0.51"/><circle cx="898.2" cy="298.4" r="0.75"/><circle cx="821.8" cy="338.0" r="0.60"/><circle cx="923.7" cy="309.0" r="0.64"/><circle cx="850.3" cy="313.3" r="0.76"/><circle cx="849.8" cy="322.0" r="0.63"/><circle cx="855.6" cy="351.8" r="0.59"/><circle cx="829.2" cy="332.4" r="0.73"/><circle cx="847.5" cy="313.8" r="0.64"/><circle cx="925.5" cy="359.6" r="0.68"/></g>
<rect x="1221.1" y="394.9" width="100.5" height="7.5" fill="#000"/>
<text x="22" y="30.5" font-size="42" font-weight="bold" font-style="normal" text-anchor="start" fill="#000" >a</text>
<text x="714.5" y="29.6" font-size="42" font-weight="bold" font-style="normal" text-anchor="start" fill="#000" >b</text>
<text x="86.8" y="49.8" font-size="35" font-weight="bold" font-style="normal" text-anchor="start" fill="#000" >Wildtype</text>
<text x="266" y="49.8" font-size="35" font-weight="bold" font-style="normal" text-anchor="start" fill="#000" >16 dpf</text>
<text x="87.5" y="253.3" font-size="35" font-weight="bold" font-style="italic" text-anchor="start" fill="#000" >sspo</text>
<text x="168.5" y="241.3" font-size="23.5" font-weight="bold" font-style="italic" text-anchor="start" fill="#000" >dmh4/+</text>
<text x="268.3" y="253.3" font-size="35" font-weight="bold" font-style="normal" text-anchor="start" fill="#000" >16 dpf</text>
<text x="778" y="47.6" font-size="35" font-weight="bold" font-style="normal" text-anchor="start" fill="#000" >Wildtype</text>
<text x="961.7" y="47.6" font-size="35" font-weight="bold" font-style="normal" text-anchor="start" fill="#000" >21 dpf</text>
<text x="777.7" y="247.9" font-size="35" font-weight="bold" font-style="italic" text-anchor="start" fill="#000" >sspo</text>
<text x="858.5" y="235.9" font-size="23.5" font-weight="bold" font-style="italic" text-anchor="start" fill="#000" >dmh4/+</text>
<text x="980" y="247.9" font-size="35" font-weight="bold" font-style="normal" text-anchor="start" fill="#000" >21 dpf</text></svg></body></html>
